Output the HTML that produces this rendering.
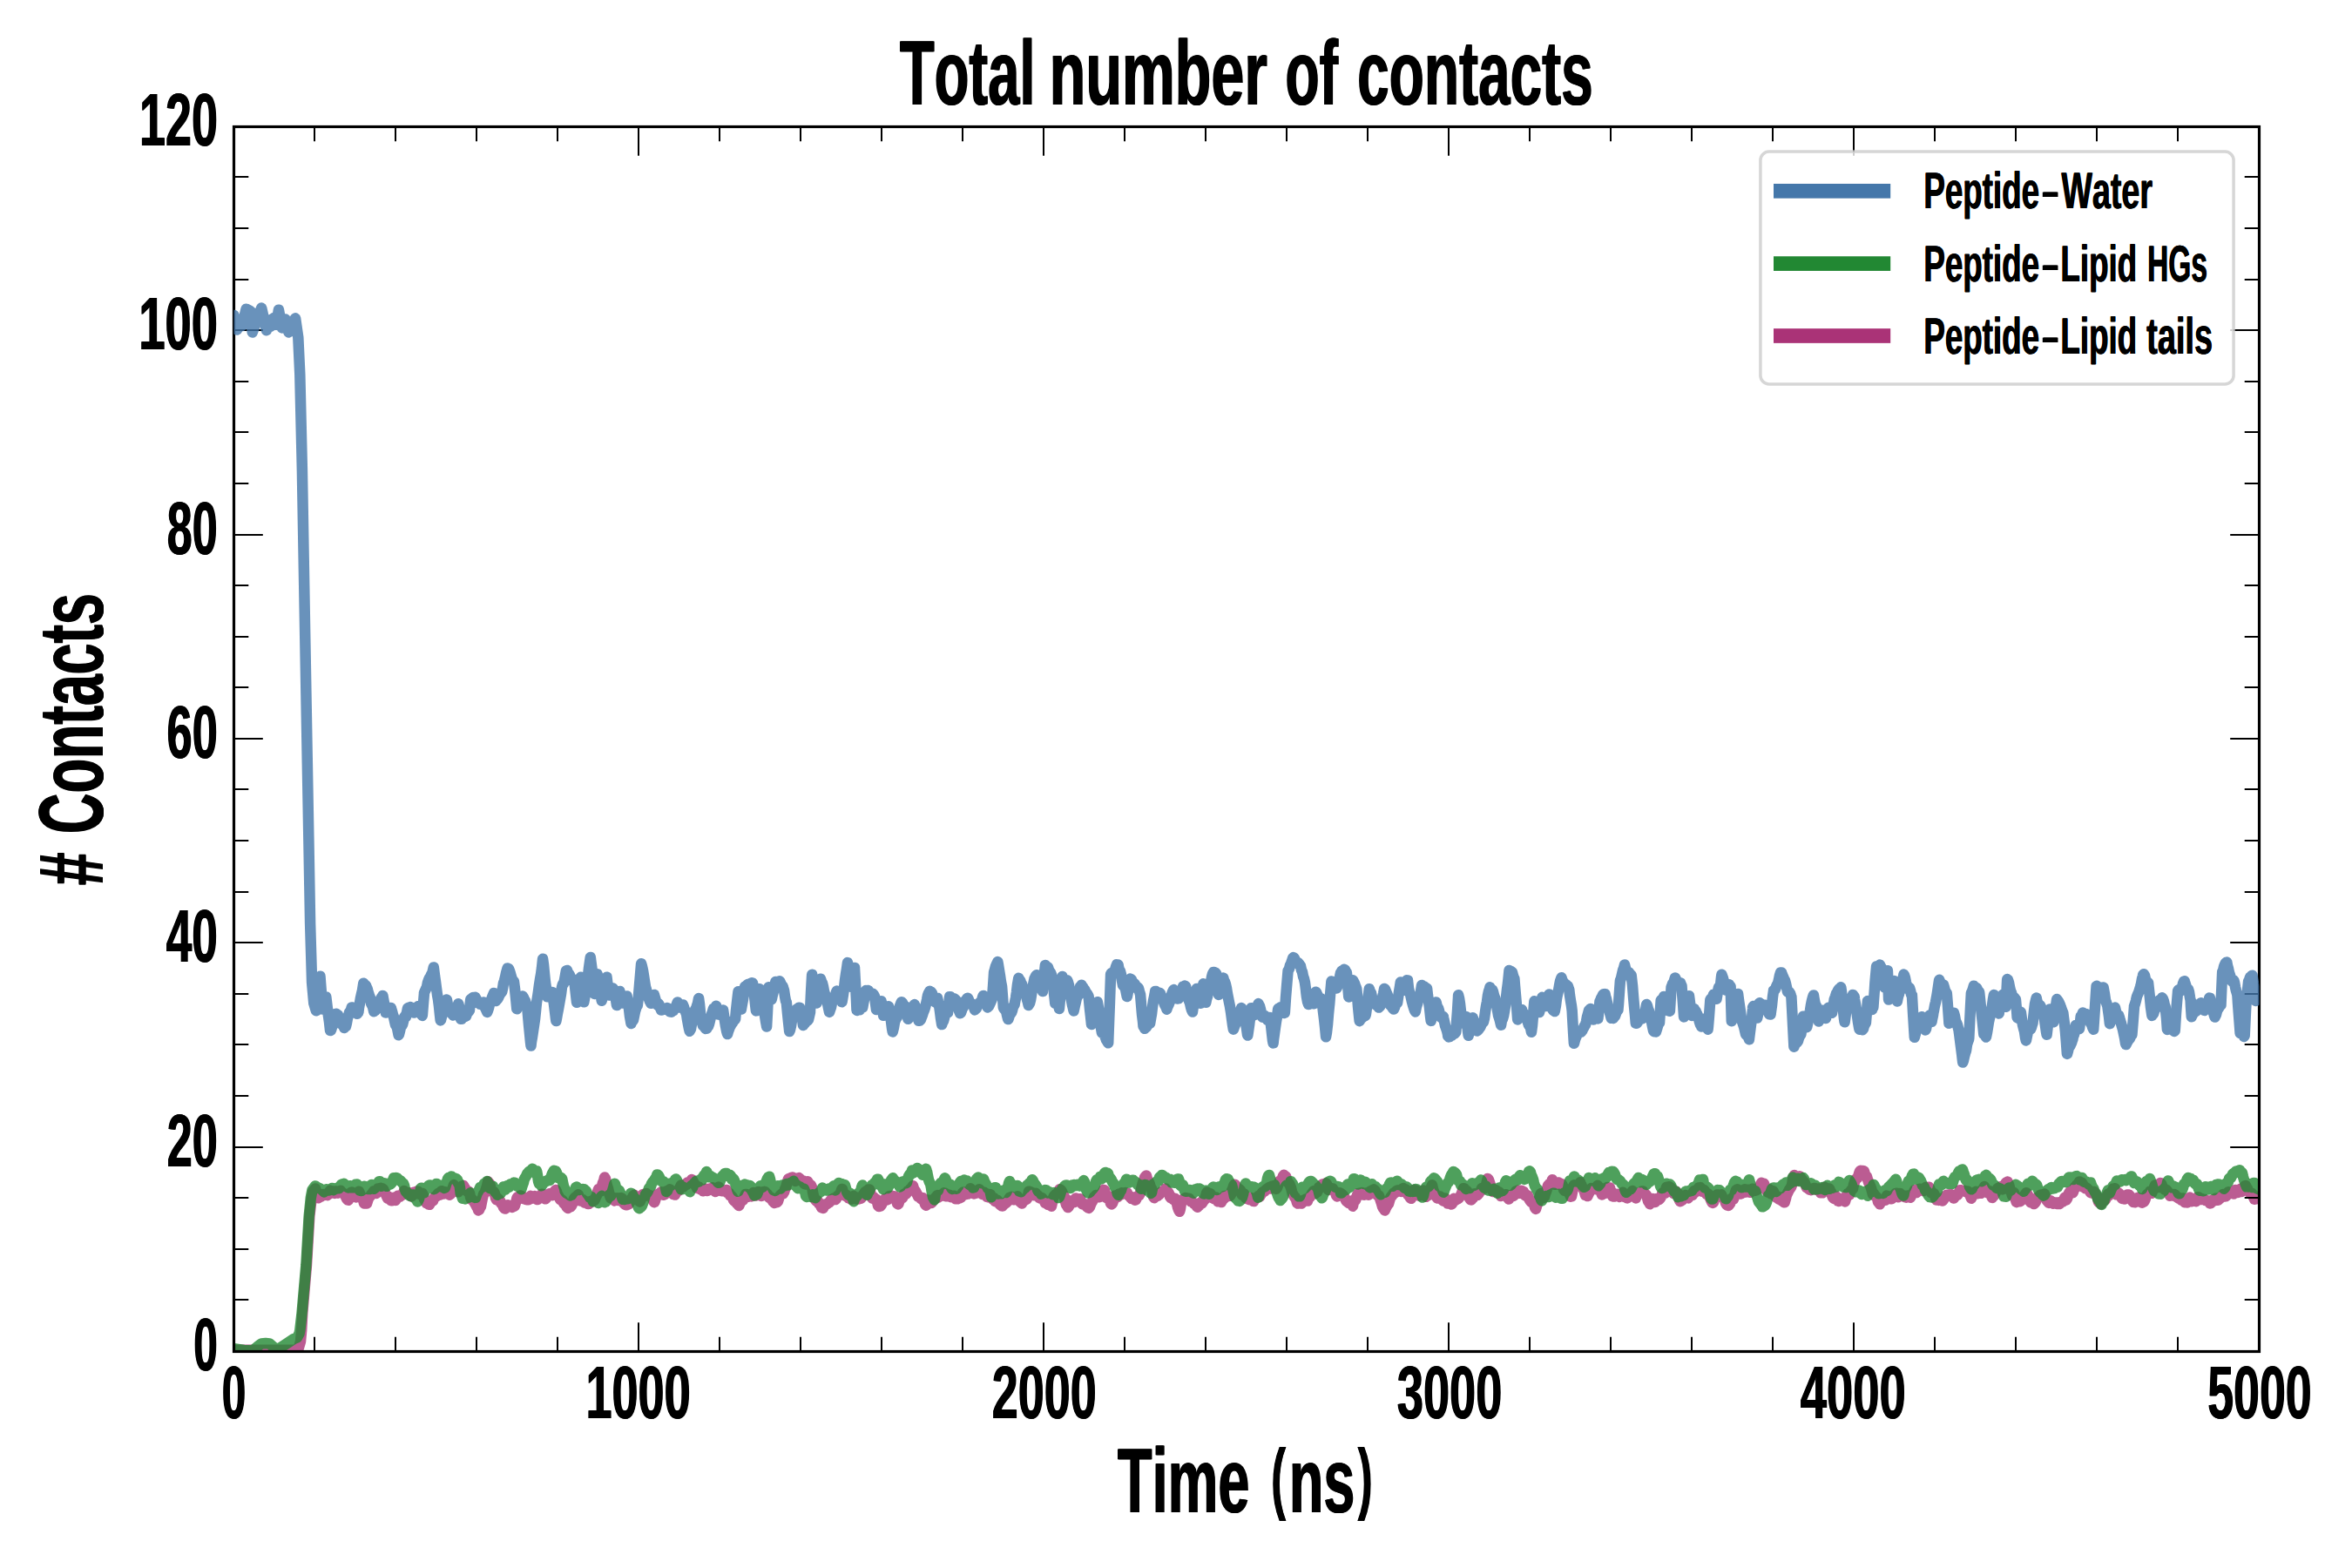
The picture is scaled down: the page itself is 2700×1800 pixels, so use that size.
<!DOCTYPE html>
<html><head><meta charset="utf-8"><title>Total number of contacts</title>
<style>
html,body{margin:0;padding:0;background:#fff}
svg{display:block}
text{font-family:"Liberation Sans",sans-serif;font-weight:700;fill:#000;font-kerning:none;text-rendering:geometricPrecision}
</style></head><body>
<svg width="2700" height="1800" viewBox="0 0 2700 1800">
<rect width="2700" height="1800" fill="#fff"/>
<clipPath id="ax"><rect x="268.5" y="145.3" width="2325.0" height="1406.1"/></clipPath>
<path d="M258.0,1549.8 L268.5,1549.8 L338.0,1549.8 L342.5,1548.5 L345.0,1540.0 L346.2,1527.0 L347.2,1508.0 L352.0,1452.0 L355.3,1396.0 L357.5,1377.0 L359.2,1368.0 L362.0,1364.5 L365.4,1375.2 L366.0,1374.9 L367.0,1374.2 L368.0,1373.8 L369.0,1373.1 L370.0,1372.0 L371.0,1371.2 L372.0,1371.8 L373.0,1371.9 L374.0,1370.8 L375.0,1371.1 L376.0,1371.9 L377.0,1371.0 L378.0,1368.2 L379.0,1366.7 L379.0,1366.7 L380.0,1367.1 L381.0,1368.2 L382.0,1367.4 L383.0,1368.7 L384.0,1369.9 L385.0,1369.1 L386.0,1367.4 L387.0,1368.7 L388.0,1369.7 L389.0,1367.8 L389.3,1367.6 L390.0,1367.1 L391.0,1366.9 L392.0,1368.2 L393.0,1369.3 L394.0,1370.0 L395.0,1370.4 L396.0,1371.9 L397.0,1373.9 L398.0,1376.0 L399.0,1377.4 L400.0,1377.8 L401.0,1374.3 L401.2,1374.0 L402.0,1371.7 L403.0,1368.9 L404.0,1368.5 L405.0,1370.7 L406.0,1371.9 L407.0,1371.7 L408.0,1371.3 L409.0,1374.4 L409.7,1373.4 L410.0,1373.4 L411.0,1369.2 L412.0,1367.7 L413.0,1369.8 L414.0,1372.5 L415.0,1373.5 L416.0,1375.2 L417.0,1377.5 L418.0,1381.4 L419.0,1380.6 L419.9,1380.9 L420.0,1380.7 L421.0,1381.6 L422.0,1378.7 L423.0,1375.6 L424.0,1374.1 L425.0,1373.1 L426.0,1371.5 L427.0,1370.6 L428.0,1368.9 L429.0,1367.4 L430.0,1367.9 L430.1,1368.0 L431.0,1369.7 L432.0,1369.9 L433.0,1366.8 L434.0,1364.4 L435.0,1365.0 L436.0,1365.4 L437.0,1363.8 L438.0,1364.7 L439.0,1364.3 L440.0,1365.2 L441.0,1367.6 L442.0,1369.5 L442.0,1369.6 L443.0,1371.3 L444.0,1373.5 L445.0,1375.7 L446.0,1375.3 L447.0,1374.3 L448.0,1375.0 L449.0,1378.2 L450.0,1378.2 L451.0,1375.3 L452.0,1374.8 L453.0,1377.0 L453.9,1377.9 L454.0,1377.9 L455.0,1376.3 L456.0,1375.3 L457.0,1372.7 L458.0,1372.9 L459.0,1373.8 L460.0,1372.4 L461.0,1372.2 L462.0,1371.7 L463.0,1369.6 L464.0,1367.1 L464.1,1367.1 L465.0,1368.4 L466.0,1369.6 L467.0,1369.7 L468.0,1370.0 L469.0,1369.9 L470.0,1369.2 L471.0,1370.7 L472.0,1373.4 L472.6,1373.1 L473.0,1372.3 L474.0,1369.5 L475.0,1368.8 L476.0,1370.5 L477.0,1370.6 L478.0,1368.5 L478.5,1367.5 L479.0,1367.7 L480.0,1367.8 L481.0,1369.2 L482.0,1371.1 L483.0,1369.6 L484.0,1370.2 L484.5,1369.9 L485.0,1370.0 L486.0,1372.6 L487.0,1376.8 L488.0,1378.1 L489.0,1379.9 L489.6,1381.3 L490.0,1381.1 L491.0,1381.5 L492.0,1382.8 L493.0,1382.8 L494.0,1380.6 L495.0,1379.6 L496.0,1377.9 L497.0,1378.7 L498.0,1375.8 L498.1,1375.6 L499.0,1374.1 L500.0,1374.2 L501.0,1373.4 L502.0,1371.4 L503.0,1369.9 L504.0,1371.9 L505.0,1371.7 L506.0,1368.7 L506.6,1367.5 L507.0,1367.2 L508.0,1369.4 L509.0,1370.6 L510.0,1368.3 L511.0,1368.2 L512.0,1369.3 L513.0,1369.0 L514.0,1369.6 L515.0,1371.0 L515.1,1371.1 L516.0,1371.6 L517.0,1370.9 L518.0,1369.6 L519.0,1367.3 L520.0,1362.8 L521.0,1360.1 L521.9,1362.6 L522.0,1362.9 L523.0,1365.8 L524.0,1367.0 L525.0,1367.6 L526.0,1368.3 L527.0,1364.6 L528.0,1363.8 L529.0,1362.7 L530.0,1361.8 L531.0,1361.7 L532.0,1361.1 L532.1,1361.1 L533.0,1362.6 L534.0,1364.2 L535.0,1366.2 L536.0,1367.3 L537.0,1368.1 L538.0,1367.8 L538.9,1369.6 L539.0,1369.7 L540.0,1374.2 L541.0,1376.8 L542.0,1376.6 L543.0,1377.6 L544.0,1379.5 L545.0,1381.1 L546.0,1382.8 L547.0,1384.9 L548.0,1386.1 L549.0,1389.0 L549.1,1389.4 L550.0,1388.8 L551.0,1386.6 L552.0,1385.1 L553.0,1379.9 L554.0,1375.0 L555.0,1370.9 L555.9,1370.3 L556.0,1370.1 L557.0,1367.6 L558.0,1364.7 L559.0,1361.6 L560.0,1357.0 L560.2,1356.3 L561.0,1357.9 L562.0,1358.5 L563.0,1362.2 L564.0,1366.5 L565.0,1367.7 L566.0,1368.8 L566.1,1368.8 L567.0,1368.3 L568.0,1370.3 L569.0,1375.4 L570.0,1377.3 L571.0,1376.7 L571.2,1376.6 L572.0,1376.2 L573.0,1377.4 L574.0,1378.3 L575.0,1380.9 L576.0,1382.2 L577.0,1382.7 L578.0,1385.8 L579.0,1387.2 L580.0,1387.5 L581.0,1385.2 L581.4,1384.9 L582.0,1383.5 L583.0,1383.3 L584.0,1384.2 L585.0,1385.0 L586.0,1385.0 L587.0,1385.3 L588.0,1385.9 L589.0,1385.1 L590.0,1384.9 L590.8,1384.5 L591.0,1384.0 L592.0,1380.6 L593.0,1377.5 L593.3,1375.8 L594.0,1374.4 L595.0,1373.9 L596.0,1374.1 L597.0,1372.5 L598.0,1372.7 L599.0,1373.1 L600.0,1373.9 L601.0,1376.1 L602.0,1376.2 L603.0,1376.1 L603.5,1376.8 L604.0,1377.1 L605.0,1377.2 L606.0,1376.1 L607.0,1377.3 L608.0,1375.6 L609.0,1372.8 L610.0,1373.6 L611.0,1375.8 L612.0,1375.4 L613.0,1375.3 L613.7,1373.6 L614.0,1373.2 L615.0,1373.7 L616.0,1376.6 L617.0,1377.1 L618.0,1374.9 L619.0,1375.1 L620.0,1373.5 L621.0,1371.9 L622.0,1370.8 L623.0,1371.7 L624.0,1370.9 L625.0,1372.6 L625.6,1375.2 L626.0,1376.3 L627.0,1375.7 L628.0,1372.9 L629.0,1371.5 L630.0,1372.4 L631.0,1370.2 L632.0,1370.3 L633.0,1372.0 L634.0,1372.2 L635.0,1371.2 L636.0,1369.8 L636.7,1367.4 L637.0,1367.1 L638.0,1365.9 L639.0,1368.0 L640.0,1371.4 L641.0,1372.4 L641.0,1372.5 L642.0,1374.7 L643.0,1376.9 L644.0,1376.9 L645.0,1377.3 L646.0,1378.2 L647.0,1381.0 L648.0,1382.1 L649.0,1382.2 L650.0,1383.9 L650.3,1385.1 L651.0,1386.2 L652.0,1386.8 L653.0,1386.1 L654.0,1385.6 L655.0,1385.4 L656.0,1384.1 L657.0,1382.1 L658.0,1378.9 L659.0,1375.9 L660.0,1374.7 L661.0,1375.3 L662.0,1375.3 L663.0,1372.0 L663.8,1371.4 L664.0,1371.6 L665.0,1376.0 L666.0,1378.4 L667.0,1377.8 L668.0,1377.3 L669.0,1377.0 L670.0,1378.5 L671.0,1380.6 L672.0,1379.0 L673.0,1380.0 L674.0,1381.4 L674.0,1381.4 L675.0,1382.1 L676.0,1382.1 L677.0,1380.9 L678.0,1378.9 L679.0,1378.7 L680.0,1379.6 L681.0,1378.5 L682.0,1377.8 L682.5,1377.8 L683.0,1376.8 L684.0,1374.1 L685.0,1372.4 L686.0,1368.1 L686.8,1365.8 L687.0,1365.2 L688.0,1365.2 L689.0,1366.9 L690.0,1367.3 L691.0,1361.8 L692.0,1357.8 L693.0,1355.9 L694.0,1351.8 L694.1,1351.5 L695.0,1353.1 L696.0,1357.4 L697.0,1361.3 L698.0,1364.2 L699.0,1368.7 L699.5,1371.1 L700.0,1372.6 L701.0,1375.2 L702.0,1374.8 L703.0,1374.4 L704.0,1375.7 L705.0,1377.5 L705.5,1378.4 L706.0,1377.9 L707.0,1377.6 L708.0,1375.3 L709.0,1376.6 L710.0,1378.0 L711.0,1375.9 L711.4,1375.2 L712.0,1375.6 L713.0,1375.1 L714.0,1375.6 L715.0,1379.0 L716.0,1381.0 L717.0,1382.4 L718.0,1382.9 L719.0,1383.2 L719.6,1383.2 L720.0,1382.4 L721.0,1382.7 L722.0,1382.1 L723.0,1378.9 L724.0,1377.1 L725.0,1376.8 L726.0,1375.1 L726.7,1373.0 L727.0,1372.7 L728.0,1371.8 L729.0,1374.3 L730.0,1377.1 L731.0,1376.6 L732.0,1376.9 L733.0,1377.7 L734.0,1379.3 L734.4,1379.7 L735.0,1378.8 L736.0,1376.3 L737.0,1372.5 L738.0,1371.1 L739.0,1373.5 L740.0,1372.4 L741.0,1370.6 L742.0,1370.2 L742.0,1370.1 L743.0,1372.0 L744.0,1372.5 L745.0,1371.8 L746.0,1372.2 L747.0,1373.5 L748.0,1372.9 L749.0,1374.7 L750.0,1378.8 L751.0,1380.1 L751.4,1380.0 L752.0,1378.4 L753.0,1374.7 L754.0,1371.7 L755.0,1371.0 L756.0,1371.0 L757.0,1371.4 L758.0,1369.2 L759.0,1368.4 L759.0,1368.3 L760.0,1368.5 L761.0,1368.9 L762.0,1371.6 L763.0,1371.4 L764.0,1368.9 L765.0,1367.4 L766.0,1368.9 L767.0,1368.7 L768.0,1366.0 L769.0,1365.3 L770.0,1367.9 L771.0,1367.7 L772.0,1370.2 L772.7,1371.0 L773.0,1370.9 L774.0,1371.3 L775.0,1371.5 L776.0,1368.5 L777.0,1367.0 L778.0,1366.6 L779.0,1366.8 L780.0,1365.4 L781.0,1362.2 L782.0,1360.4 L783.0,1362.4 L784.0,1362.6 L785.0,1362.1 L786.0,1360.0 L787.0,1360.2 L788.0,1359.9 L789.0,1357.7 L790.0,1357.2 L791.0,1357.4 L791.4,1357.0 L792.0,1357.5 L793.0,1355.6 L794.0,1354.1 L795.0,1354.6 L796.0,1357.3 L797.0,1358.6 L798.0,1360.5 L799.0,1360.8 L800.0,1364.0 L801.0,1364.0 L802.0,1362.4 L803.0,1364.2 L803.3,1364.7 L804.0,1365.3 L805.0,1365.5 L806.0,1366.0 L807.0,1367.2 L808.0,1366.9 L809.0,1365.4 L810.0,1364.8 L811.0,1365.1 L812.0,1367.0 L813.0,1366.0 L814.0,1365.2 L815.0,1364.4 L816.0,1365.4 L817.0,1364.4 L818.0,1363.3 L819.0,1365.1 L820.0,1366.8 L820.3,1367.1 L821.0,1368.0 L822.0,1367.1 L823.0,1365.5 L824.0,1363.5 L825.0,1362.5 L826.0,1365.4 L827.0,1366.9 L828.0,1365.8 L829.0,1366.7 L830.0,1367.3 L831.0,1367.2 L832.0,1367.5 L833.0,1366.7 L833.9,1366.0 L834.0,1366.0 L835.0,1369.1 L836.0,1369.0 L837.0,1369.6 L838.0,1372.1 L839.0,1372.1 L840.0,1373.5 L841.0,1374.5 L842.0,1377.6 L843.0,1378.8 L844.0,1378.1 L845.0,1379.8 L846.0,1381.6 L847.0,1382.4 L848.0,1383.8 L848.3,1384.0 L849.0,1382.5 L850.0,1380.0 L851.0,1378.4 L852.0,1378.3 L853.0,1377.5 L854.0,1375.8 L855.0,1373.3 L856.0,1371.0 L856.0,1371.0 L857.0,1370.9 L858.0,1372.7 L859.0,1372.4 L860.0,1373.5 L861.0,1373.0 L862.0,1372.6 L863.0,1373.4 L864.0,1370.9 L865.0,1369.1 L866.0,1370.8 L866.2,1371.0 L867.0,1371.8 L868.0,1372.6 L869.0,1369.7 L870.0,1368.3 L871.0,1368.0 L872.0,1369.4 L873.0,1372.0 L874.0,1373.0 L875.0,1371.8 L876.0,1369.2 L877.0,1368.0 L878.0,1368.0 L878.1,1367.9 L879.0,1368.9 L880.0,1370.8 L881.0,1370.9 L882.0,1373.7 L883.0,1374.8 L884.0,1374.9 L885.0,1374.5 L886.0,1375.8 L887.0,1378.8 L888.0,1379.8 L889.0,1380.8 L889.1,1381.0 L890.0,1380.4 L891.0,1380.2 L892.0,1380.0 L893.0,1379.1 L894.0,1375.9 L895.0,1373.0 L896.0,1371.7 L897.0,1371.3 L898.0,1370.1 L899.0,1370.2 L900.0,1368.4 L900.2,1368.2 L901.0,1365.4 L902.0,1363.4 L903.0,1360.0 L904.0,1356.3 L905.0,1353.4 L906.0,1353.0 L907.0,1352.5 L907.0,1352.5 L908.0,1352.2 L909.0,1351.6 L910.0,1351.5 L911.0,1352.4 L912.0,1353.1 L913.0,1355.9 L914.0,1354.1 L915.0,1352.9 L916.0,1353.3 L917.0,1352.1 L918.0,1352.9 L918.9,1353.8 L919.0,1353.9 L920.0,1355.4 L921.0,1356.4 L922.0,1355.5 L923.0,1358.5 L924.0,1359.4 L925.0,1359.5 L926.0,1358.0 L927.0,1356.2 L928.0,1357.6 L929.0,1360.4 L930.0,1360.0 L931.0,1360.6 L932.0,1363.0 L932.5,1365.1 L933.0,1368.2 L934.0,1373.1 L935.0,1375.4 L936.0,1377.3 L937.0,1378.7 L938.0,1378.0 L939.0,1379.1 L940.0,1381.4 L940.2,1382.0 L941.0,1382.3 L942.0,1383.7 L943.0,1386.2 L944.0,1386.5 L945.0,1386.9 L946.0,1384.8 L947.0,1383.4 L948.0,1382.2 L949.0,1382.3 L950.0,1381.6 L951.0,1380.7 L951.2,1380.7 L952.0,1380.5 L953.0,1378.9 L954.0,1377.3 L955.0,1376.8 L956.0,1377.6 L957.0,1375.6 L958.0,1375.2 L959.0,1377.1 L959.7,1376.5 L960.0,1376.1 L961.0,1373.4 L962.0,1372.5 L963.0,1372.1 L964.0,1370.9 L965.0,1369.5 L966.0,1366.0 L966.5,1365.0 L967.0,1365.1 L968.0,1368.8 L969.0,1372.1 L970.0,1372.7 L971.0,1371.6 L972.0,1372.1 L973.0,1373.2 L973.3,1374.0 L974.0,1375.2 L975.0,1374.8 L976.0,1375.3 L977.0,1376.8 L978.0,1376.0 L979.0,1373.9 L980.0,1373.0 L981.0,1373.7 L982.0,1374.3 L983.0,1376.5 L984.0,1375.9 L985.0,1376.4 L986.0,1376.4 L987.0,1375.6 L988.0,1375.8 L988.6,1375.6 L989.0,1375.0 L990.0,1372.7 L991.0,1371.2 L992.0,1370.0 L993.0,1368.3 L994.0,1367.8 L995.0,1367.0 L996.0,1366.4 L997.0,1366.0 L997.1,1365.6 L998.0,1365.6 L999.0,1367.9 L1000.0,1372.2 L1001.0,1375.4 L1002.0,1374.8 L1003.0,1374.2 L1004.0,1376.6 L1005.0,1376.7 L1006.0,1376.8 L1007.0,1379.8 L1008.0,1384.0 L1009.0,1385.1 L1010.0,1384.2 L1010.7,1384.7 L1011.0,1384.1 L1012.0,1383.0 L1013.0,1379.6 L1014.0,1378.3 L1015.0,1378.1 L1016.0,1376.3 L1017.0,1376.3 L1018.0,1377.4 L1019.0,1377.1 L1020.0,1376.1 L1021.0,1372.9 L1021.0,1372.9 L1022.0,1373.2 L1023.0,1373.3 L1024.0,1372.8 L1025.0,1374.4 L1026.0,1375.0 L1027.0,1373.4 L1028.0,1373.8 L1029.0,1377.2 L1030.0,1381.5 L1031.0,1382.3 L1031.2,1382.2 L1031.5,1381.7 L1032.0,1380.1 L1033.0,1377.5 L1034.0,1376.1 L1035.0,1374.7 L1036.0,1375.3 L1037.0,1372.8 L1038.0,1370.6 L1039.0,1371.2 L1040.0,1370.7 L1041.0,1369.4 L1042.0,1367.5 L1043.0,1367.3 L1044.0,1366.2 L1045.0,1364.9 L1046.0,1364.2 L1047.0,1362.7 L1048.0,1361.2 L1048.1,1361.3 L1049.0,1364.6 L1050.0,1366.4 L1051.0,1367.5 L1052.0,1369.6 L1053.0,1371.4 L1054.0,1373.5 L1055.0,1373.6 L1056.0,1374.1 L1057.0,1375.8 L1058.0,1376.7 L1059.0,1375.0 L1060.0,1375.9 L1061.0,1379.3 L1062.0,1382.5 L1063.0,1383.8 L1063.4,1383.5 L1064.0,1381.6 L1065.0,1378.3 L1066.0,1377.6 L1067.0,1379.6 L1068.0,1380.4 L1069.0,1381.0 L1070.0,1380.2 L1071.0,1377.7 L1072.0,1377.5 L1073.0,1375.6 L1074.0,1374.5 L1075.0,1373.4 L1076.0,1372.1 L1076.1,1372.3 L1077.0,1374.6 L1078.0,1373.5 L1079.0,1373.4 L1080.0,1372.1 L1081.0,1371.2 L1082.0,1371.6 L1083.0,1371.1 L1084.0,1369.4 L1085.0,1369.7 L1086.0,1373.2 L1087.0,1373.3 L1088.0,1373.2 L1088.0,1373.2 L1089.0,1373.3 L1090.0,1371.8 L1091.0,1372.5 L1092.0,1374.1 L1093.0,1373.9 L1094.0,1373.3 L1095.0,1372.7 L1096.0,1374.0 L1097.0,1376.2 L1098.0,1376.1 L1099.0,1376.3 L1100.0,1375.7 L1101.0,1375.2 L1101.6,1375.4 L1102.0,1375.2 L1103.0,1374.8 L1104.0,1373.4 L1105.0,1369.0 L1106.0,1368.4 L1107.0,1370.4 L1108.0,1371.3 L1109.0,1368.8 L1110.0,1369.2 L1111.0,1370.6 L1111.8,1370.1 L1112.0,1370.1 L1113.0,1366.7 L1114.0,1364.3 L1115.0,1366.6 L1116.0,1368.8 L1117.0,1369.7 L1118.0,1370.4 L1119.0,1370.2 L1120.0,1368.9 L1121.0,1369.6 L1122.0,1369.3 L1123.0,1367.0 L1124.0,1365.2 L1125.0,1366.2 L1125.4,1367.2 L1126.0,1368.6 L1127.0,1369.7 L1128.0,1371.1 L1129.0,1369.9 L1130.0,1368.8 L1131.0,1369.6 L1132.0,1370.7 L1132.2,1371.4 L1133.0,1373.9 L1134.0,1374.1 L1135.0,1371.8 L1136.0,1371.0 L1137.0,1371.3 L1138.0,1374.7 L1139.0,1376.1 L1140.0,1375.6 L1141.0,1375.5 L1142.0,1378.8 L1143.0,1379.5 L1144.0,1377.7 L1145.0,1377.7 L1146.0,1379.3 L1147.0,1381.8 L1148.0,1382.9 L1149.0,1383.6 L1150.0,1384.4 L1151.0,1384.5 L1151.0,1384.5 L1152.0,1382.9 L1153.0,1381.1 L1154.0,1381.7 L1155.0,1380.8 L1156.0,1379.9 L1157.0,1378.8 L1158.0,1376.7 L1159.0,1374.6 L1160.0,1374.4 L1161.0,1374.0 L1161.2,1373.9 L1162.0,1374.8 L1163.0,1376.9 L1164.0,1377.2 L1165.0,1375.7 L1166.0,1376.2 L1167.0,1376.3 L1168.0,1373.2 L1169.0,1374.9 L1170.0,1378.4 L1171.0,1379.7 L1172.0,1380.4 L1173.0,1381.6 L1173.1,1381.5 L1174.0,1379.2 L1175.0,1377.9 L1176.0,1378.1 L1177.0,1377.4 L1178.0,1377.0 L1179.0,1376.3 L1180.0,1373.0 L1181.0,1367.7 L1182.0,1367.9 L1183.0,1368.5 L1183.3,1368.2 L1184.0,1369.3 L1185.0,1369.9 L1186.0,1371.3 L1187.0,1372.3 L1188.0,1370.6 L1189.0,1369.7 L1190.0,1372.2 L1191.0,1373.0 L1192.0,1372.8 L1193.0,1375.1 L1194.0,1375.4 L1195.0,1375.7 L1196.0,1375.0 L1197.0,1376.1 L1198.0,1377.2 L1199.0,1379.1 L1200.0,1381.2 L1201.0,1381.4 L1202.0,1380.9 L1203.0,1382.9 L1204.0,1382.5 L1204.5,1382.9 L1205.0,1382.0 L1206.0,1383.8 L1207.0,1384.7 L1208.0,1380.2 L1209.0,1375.2 L1210.0,1372.8 L1211.0,1371.8 L1212.0,1371.0 L1213.0,1370.4 L1214.0,1370.7 L1215.0,1370.0 L1216.0,1366.5 L1216.4,1365.2 L1217.0,1365.6 L1218.0,1366.1 L1219.0,1367.6 L1220.0,1370.3 L1221.0,1372.0 L1222.0,1374.2 L1223.0,1379.4 L1224.0,1383.0 L1225.0,1384.1 L1226.0,1386.1 L1227.0,1385.0 L1227.5,1383.6 L1228.0,1380.8 L1229.0,1379.0 L1230.0,1378.3 L1231.0,1378.7 L1232.0,1379.3 L1233.0,1380.3 L1234.0,1378.9 L1235.0,1375.5 L1236.0,1376.3 L1236.0,1376.3 L1237.0,1377.9 L1238.0,1379.0 L1239.0,1377.5 L1240.0,1376.2 L1241.0,1379.3 L1242.0,1381.8 L1243.0,1382.3 L1244.0,1382.1 L1245.0,1381.9 L1246.0,1383.0 L1247.0,1384.3 L1247.9,1385.6 L1248.0,1385.6 L1249.0,1386.4 L1250.0,1386.8 L1251.0,1385.6 L1252.0,1382.9 L1253.0,1380.4 L1254.0,1379.3 L1255.0,1376.8 L1256.0,1374.1 L1257.0,1373.5 L1258.0,1372.1 L1259.0,1372.3 L1260.0,1374.3 L1261.0,1374.3 L1262.0,1374.1 L1263.0,1373.9 L1264.0,1371.6 L1264.9,1369.1 L1265.0,1369.0 L1266.0,1368.0 L1267.0,1365.9 L1268.0,1366.2 L1269.0,1370.6 L1270.0,1375.0 L1271.0,1373.6 L1272.0,1372.9 L1273.0,1375.4 L1274.0,1378.6 L1275.0,1381.2 L1275.1,1381.5 L1276.0,1382.3 L1277.0,1381.5 L1278.0,1378.6 L1279.0,1375.0 L1280.0,1372.5 L1281.0,1373.9 L1282.0,1374.4 L1283.0,1374.1 L1284.0,1373.1 L1285.0,1370.4 L1286.0,1370.5 L1287.0,1371.4 L1288.0,1369.3 L1289.0,1369.5 L1290.0,1370.1 L1291.0,1370.0 L1292.0,1368.9 L1292.1,1368.9 L1293.0,1369.7 L1294.0,1369.6 L1295.0,1371.9 L1296.0,1372.9 L1297.0,1373.2 L1298.0,1374.9 L1298.9,1376.1 L1299.0,1376.1 L1300.0,1374.4 L1301.0,1374.5 L1302.0,1375.4 L1303.0,1377.7 L1304.0,1377.3 L1305.0,1374.7 L1306.0,1373.4 L1307.0,1372.2 L1307.4,1372.6 L1308.0,1371.6 L1309.0,1369.7 L1310.0,1365.4 L1311.0,1361.2 L1312.0,1357.3 L1313.0,1355.9 L1314.0,1351.9 L1315.0,1350.3 L1315.9,1349.4 L1316.0,1349.7 L1317.0,1353.8 L1318.0,1355.6 L1319.0,1357.2 L1320.0,1359.8 L1321.0,1363.4 L1322.0,1364.6 L1323.0,1369.8 L1324.0,1373.8 L1325.0,1375.2 L1326.0,1373.8 L1326.1,1373.9 L1327.0,1372.3 L1328.0,1373.1 L1329.0,1372.9 L1330.0,1371.0 L1331.0,1371.0 L1332.0,1368.9 L1333.0,1368.6 L1334.0,1367.8 L1335.0,1367.3 L1336.0,1367.2 L1337.0,1366.5 L1338.0,1364.4 L1338.0,1364.4 L1339.0,1367.1 L1340.0,1367.8 L1341.0,1368.6 L1342.0,1370.4 L1343.0,1373.6 L1344.0,1375.0 L1345.0,1374.3 L1346.0,1374.9 L1347.0,1377.0 L1348.0,1375.8 L1349.0,1375.7 L1350.0,1377.1 L1351.0,1381.5 L1352.0,1385.9 L1353.0,1388.8 L1354.0,1390.8 L1354.2,1390.6 L1355.0,1387.4 L1356.0,1380.4 L1357.0,1377.6 L1358.0,1376.8 L1359.0,1377.8 L1360.0,1376.7 L1361.0,1374.9 L1361.8,1375.3 L1362.0,1375.8 L1363.0,1376.3 L1364.0,1376.7 L1365.0,1375.7 L1366.0,1377.6 L1367.0,1379.2 L1368.0,1378.8 L1369.0,1379.9 L1370.0,1380.9 L1371.0,1382.0 L1372.0,1382.6 L1373.0,1382.2 L1374.0,1385.1 L1374.6,1385.8 L1375.0,1385.4 L1376.0,1383.7 L1377.0,1383.5 L1378.0,1380.5 L1379.0,1379.9 L1380.0,1381.2 L1381.0,1379.5 L1382.0,1377.6 L1383.0,1377.1 L1384.0,1373.2 L1385.0,1369.6 L1385.6,1368.6 L1386.0,1368.8 L1387.0,1370.6 L1388.0,1371.1 L1389.0,1370.0 L1390.0,1370.9 L1391.0,1373.6 L1392.0,1375.3 L1393.0,1375.5 L1394.0,1376.3 L1395.0,1376.0 L1396.0,1374.6 L1397.0,1376.6 L1397.6,1378.3 L1398.0,1379.3 L1399.0,1378.0 L1400.0,1377.3 L1401.0,1377.5 L1402.0,1380.1 L1403.0,1377.7 L1404.0,1377.1 L1405.0,1375.9 L1406.0,1372.9 L1407.0,1372.9 L1408.0,1373.3 L1409.0,1372.4 L1409.5,1373.1 L1410.0,1372.9 L1411.0,1372.2 L1412.0,1372.8 L1413.0,1371.4 L1414.0,1366.7 L1415.0,1364.7 L1416.0,1361.8 L1416.3,1360.9 L1417.0,1359.8 L1418.0,1360.1 L1418.7,1360.9 L1419.0,1361.8 L1420.0,1364.9 L1421.0,1366.1 L1422.0,1364.7 L1423.0,1365.5 L1424.0,1366.4 L1425.0,1370.0 L1425.5,1371.2 L1426.0,1371.9 L1427.0,1370.8 L1428.0,1370.2 L1429.0,1372.6 L1430.0,1375.2 L1431.0,1375.9 L1432.0,1375.1 L1433.0,1375.8 L1434.0,1377.2 L1435.0,1376.0 L1436.0,1375.2 L1437.0,1375.8 L1438.0,1377.8 L1439.0,1379.1 L1439.1,1379.1 L1440.0,1377.5 L1441.0,1376.0 L1442.0,1375.1 L1443.0,1374.8 L1444.0,1373.9 L1445.0,1372.6 L1446.0,1373.9 L1447.0,1371.9 L1448.0,1370.6 L1449.0,1368.9 L1450.0,1368.2 L1451.0,1368.0 L1452.0,1367.3 L1453.0,1366.0 L1454.0,1365.1 L1455.0,1364.3 L1456.0,1364.4 L1456.1,1364.1 L1457.0,1362.8 L1458.0,1364.2 L1459.0,1364.4 L1460.0,1362.5 L1461.0,1361.4 L1462.0,1361.3 L1463.0,1362.9 L1464.0,1364.0 L1464.6,1364.9 L1465.0,1364.9 L1466.0,1363.5 L1467.0,1360.8 L1468.0,1357.7 L1469.0,1355.5 L1470.0,1356.1 L1471.0,1355.6 L1472.0,1352.7 L1473.0,1349.9 L1474.0,1348.8 L1474.0,1348.9 L1475.0,1350.9 L1476.0,1350.4 L1477.0,1353.3 L1478.0,1356.0 L1479.0,1358.0 L1480.0,1358.5 L1481.0,1361.1 L1481.6,1362.6 L1482.0,1363.3 L1483.0,1367.6 L1484.0,1371.1 L1485.0,1372.0 L1486.0,1374.2 L1487.0,1374.7 L1488.0,1377.2 L1489.0,1381.0 L1490.0,1381.6 L1491.0,1380.2 L1491.8,1378.9 L1492.0,1378.3 L1493.0,1379.4 L1494.0,1381.5 L1495.0,1380.5 L1496.0,1379.5 L1497.0,1379.2 L1498.0,1376.9 L1499.0,1376.6 L1500.0,1378.6 L1501.0,1378.6 L1502.0,1375.3 L1502.0,1375.3 L1503.0,1374.4 L1504.0,1374.1 L1505.0,1371.8 L1506.0,1369.9 L1507.0,1369.1 L1508.0,1367.2 L1509.0,1368.3 L1510.0,1370.0 L1510.5,1368.4 L1511.0,1367.5 L1512.0,1368.5 L1513.0,1366.4 L1514.0,1363.1 L1515.0,1363.5 L1516.0,1362.5 L1517.0,1360.4 L1518.0,1359.7 L1519.0,1360.4 L1519.0,1360.5 L1520.0,1362.5 L1521.0,1360.0 L1522.0,1358.2 L1523.0,1359.1 L1524.0,1361.9 L1525.0,1365.9 L1526.0,1364.9 L1527.0,1363.7 L1528.0,1364.1 L1529.0,1364.3 L1530.0,1364.4 L1531.0,1366.5 L1532.0,1367.1 L1533.0,1369.0 L1534.0,1372.3 L1535.0,1373.5 L1536.0,1372.1 L1537.0,1369.5 L1537.8,1369.5 L1538.0,1369.4 L1539.0,1369.9 L1540.0,1370.7 L1541.0,1371.4 L1542.0,1372.4 L1543.0,1374.5 L1544.0,1375.2 L1545.0,1378.0 L1546.0,1379.2 L1547.0,1379.8 L1548.0,1380.8 L1549.0,1380.2 L1550.0,1380.3 L1551.0,1381.5 L1551.4,1382.2 L1552.0,1382.5 L1553.0,1384.7 L1554.0,1379.3 L1555.0,1376.8 L1556.0,1377.9 L1557.0,1375.2 L1558.0,1372.0 L1559.0,1370.1 L1560.0,1369.7 L1561.0,1369.8 L1562.0,1370.4 L1563.0,1368.9 L1563.3,1368.9 L1564.0,1369.7 L1565.0,1371.5 L1566.0,1371.7 L1567.0,1370.9 L1568.0,1369.8 L1569.0,1369.4 L1570.0,1370.8 L1570.1,1370.9 L1571.0,1371.8 L1572.0,1369.7 L1573.0,1367.7 L1574.0,1366.9 L1575.0,1366.6 L1576.0,1366.6 L1576.9,1365.3 L1577.0,1365.5 L1578.0,1366.1 L1579.0,1367.4 L1580.0,1370.5 L1581.0,1372.0 L1582.0,1372.3 L1583.0,1372.6 L1584.0,1375.5 L1585.0,1378.7 L1586.0,1381.5 L1587.0,1385.1 L1588.0,1387.0 L1589.0,1388.2 L1589.6,1389.5 L1590.0,1389.0 L1591.0,1386.5 L1592.0,1384.7 L1593.0,1382.6 L1594.0,1381.9 L1595.0,1378.5 L1596.0,1375.2 L1597.0,1373.3 L1598.0,1372.6 L1599.0,1370.8 L1600.0,1369.4 L1601.0,1369.7 L1602.0,1368.8 L1603.0,1366.9 L1604.0,1366.6 L1604.1,1366.4 L1605.0,1367.2 L1606.0,1366.3 L1607.0,1367.5 L1608.0,1367.8 L1609.0,1365.9 L1610.0,1364.5 L1611.0,1364.0 L1612.0,1365.9 L1613.0,1365.0 L1614.0,1365.5 L1615.0,1368.7 L1616.0,1371.4 L1617.0,1372.0 L1618.0,1373.5 L1619.0,1375.3 L1619.4,1375.6 L1620.0,1375.8 L1621.0,1370.4 L1622.0,1367.1 L1623.0,1366.0 L1624.0,1366.2 L1625.0,1366.2 L1626.0,1368.0 L1627.0,1368.7 L1628.0,1372.0 L1629.0,1372.6 L1630.0,1371.6 L1631.0,1369.4 L1632.0,1368.1 L1633.0,1367.6 L1633.0,1367.6 L1634.0,1366.5 L1635.0,1369.1 L1636.0,1372.1 L1637.0,1373.8 L1638.0,1371.6 L1639.0,1370.2 L1640.0,1372.0 L1641.0,1369.1 L1642.0,1366.6 L1643.0,1362.7 L1644.0,1360.3 L1645.0,1364.9 L1646.0,1367.8 L1646.6,1368.9 L1647.0,1370.1 L1648.0,1371.4 L1649.0,1373.8 L1650.0,1375.5 L1651.0,1374.5 L1652.0,1373.3 L1653.0,1373.5 L1654.0,1374.4 L1655.0,1375.0 L1656.0,1377.9 L1657.0,1378.7 L1658.0,1375.7 L1659.0,1375.5 L1660.0,1378.6 L1661.0,1379.5 L1661.9,1381.3 L1662.0,1381.5 L1663.0,1381.2 L1664.0,1380.8 L1665.0,1381.1 L1666.0,1382.6 L1667.0,1381.9 L1668.0,1378.7 L1669.0,1375.8 L1670.0,1376.7 L1670.4,1377.5 L1671.0,1377.7 L1672.0,1376.6 L1673.0,1376.7 L1674.0,1376.0 L1675.0,1375.0 L1676.0,1373.7 L1677.0,1371.9 L1678.0,1369.9 L1678.9,1366.8 L1679.0,1366.7 L1680.0,1364.2 L1681.0,1364.4 L1682.0,1365.8 L1683.0,1367.4 L1684.0,1367.1 L1685.0,1368.7 L1686.0,1373.5 L1687.0,1375.7 L1688.0,1377.1 L1689.0,1377.5 L1689.1,1377.3 L1690.0,1375.7 L1691.0,1375.3 L1692.0,1373.0 L1693.0,1370.3 L1694.0,1370.9 L1695.0,1371.8 L1696.0,1371.9 L1697.0,1370.7 L1697.6,1370.2 L1698.0,1369.3 L1699.0,1367.8 L1700.0,1367.1 L1701.0,1364.0 L1702.0,1364.4 L1703.0,1364.6 L1704.0,1364.4 L1705.0,1363.6 L1706.0,1360.4 L1707.0,1355.8 L1707.8,1353.0 L1708.0,1353.0 L1709.0,1354.5 L1710.0,1357.5 L1711.0,1360.7 L1712.0,1363.5 L1713.0,1366.3 L1714.0,1368.0 L1715.0,1367.5 L1716.0,1366.4 L1716.3,1366.6 L1717.0,1366.1 L1718.0,1366.5 L1719.0,1369.1 L1720.0,1369.3 L1721.0,1368.4 L1722.0,1370.4 L1723.0,1372.9 L1724.0,1372.7 L1725.0,1372.5 L1726.0,1371.5 L1727.0,1371.4 L1728.0,1371.8 L1729.0,1371.4 L1730.0,1372.1 L1731.0,1374.5 L1731.6,1376.0 L1732.0,1376.6 L1733.0,1374.6 L1734.0,1372.1 L1735.0,1372.9 L1736.0,1373.1 L1737.0,1373.1 L1738.0,1372.3 L1739.0,1370.2 L1740.0,1367.7 L1741.0,1367.9 L1742.0,1366.6 L1743.0,1368.1 L1744.0,1369.8 L1745.0,1367.6 L1745.2,1367.1 L1746.0,1366.8 L1747.0,1367.1 L1748.0,1368.0 L1749.0,1368.0 L1750.0,1370.2 L1751.0,1372.6 L1752.0,1372.9 L1753.0,1372.1 L1754.0,1372.5 L1755.0,1375.7 L1756.0,1377.6 L1757.0,1379.1 L1758.0,1380.0 L1759.0,1379.4 L1760.0,1381.1 L1761.0,1382.1 L1762.0,1386.4 L1763.0,1387.9 L1763.1,1387.8 L1764.0,1384.8 L1765.0,1381.3 L1766.0,1379.4 L1767.0,1376.2 L1768.0,1371.9 L1769.0,1370.0 L1770.0,1371.2 L1771.0,1372.6 L1772.0,1375.0 L1773.0,1373.7 L1774.0,1370.2 L1775.0,1368.0 L1776.0,1364.6 L1777.0,1361.0 L1778.0,1359.9 L1779.0,1358.8 L1780.0,1360.0 L1781.0,1358.1 L1781.8,1354.6 L1782.0,1354.2 L1783.0,1356.2 L1784.0,1357.8 L1785.0,1359.8 L1786.0,1358.5 L1787.0,1358.0 L1788.0,1358.2 L1789.0,1357.5 L1790.0,1359.2 L1791.0,1360.3 L1792.0,1358.8 L1792.9,1359.0 L1793.0,1359.2 L1794.0,1361.2 L1795.0,1365.5 L1796.0,1366.9 L1797.0,1365.1 L1798.0,1365.0 L1799.0,1366.4 L1800.0,1367.3 L1801.0,1368.5 L1802.0,1371.0 L1802.1,1371.5 L1803.0,1373.6 L1804.0,1373.4 L1805.0,1368.4 L1806.0,1362.4 L1807.0,1360.3 L1808.0,1361.1 L1809.0,1360.3 L1810.0,1360.5 L1811.0,1360.8 L1812.0,1360.2 L1813.0,1359.8 L1814.0,1357.2 L1814.0,1357.2 L1815.0,1359.7 L1816.0,1361.9 L1817.0,1364.4 L1818.0,1365.0 L1819.0,1368.5 L1820.0,1372.0 L1821.0,1372.1 L1822.0,1372.9 L1822.5,1373.1 L1823.0,1371.9 L1824.0,1369.8 L1825.0,1367.7 L1826.0,1366.3 L1827.0,1364.2 L1828.0,1364.5 L1829.0,1365.2 L1830.0,1364.1 L1831.0,1364.5 L1831.0,1364.5 L1832.0,1365.2 L1833.0,1362.9 L1834.0,1360.8 L1835.0,1363.3 L1836.0,1363.1 L1837.0,1365.3 L1838.0,1368.8 L1839.0,1371.4 L1840.0,1370.8 L1840.4,1370.7 L1841.0,1369.4 L1842.0,1369.8 L1843.0,1368.1 L1844.0,1363.7 L1845.0,1363.0 L1846.0,1363.2 L1847.0,1363.6 L1848.0,1363.5 L1848.0,1363.5 L1849.0,1367.0 L1850.0,1370.7 L1851.0,1373.1 L1851.4,1372.8 L1852.0,1371.1 L1853.0,1373.5 L1854.0,1373.3 L1855.0,1370.8 L1856.0,1370.8 L1857.0,1372.9 L1858.0,1372.2 L1859.0,1373.9 L1860.0,1372.2 L1861.0,1371.8 L1862.0,1370.0 L1863.0,1368.7 L1864.0,1370.7 L1865.0,1374.1 L1865.9,1374.1 L1866.0,1374.0 L1867.0,1374.2 L1868.0,1375.4 L1869.0,1374.7 L1870.0,1372.2 L1871.0,1372.1 L1872.0,1371.2 L1873.0,1368.7 L1874.0,1367.1 L1875.0,1370.1 L1876.0,1371.5 L1877.0,1372.7 L1878.0,1375.4 L1879.0,1371.1 L1880.0,1370.0 L1881.0,1370.5 L1882.0,1369.2 L1883.0,1369.1 L1883.7,1369.0 L1884.0,1369.4 L1885.0,1367.5 L1886.0,1367.5 L1887.0,1369.8 L1888.0,1370.4 L1889.0,1370.9 L1890.0,1371.9 L1891.0,1375.1 L1892.0,1379.0 L1893.0,1380.0 L1894.0,1382.2 L1895.0,1380.9 L1896.0,1378.4 L1896.5,1377.6 L1897.0,1376.0 L1898.0,1376.9 L1899.0,1379.1 L1900.0,1380.1 L1901.0,1376.3 L1902.0,1376.2 L1903.0,1377.3 L1904.0,1377.3 L1905.0,1376.6 L1905.9,1375.6 L1906.0,1375.3 L1907.0,1373.6 L1908.0,1370.7 L1909.0,1369.0 L1910.0,1369.8 L1911.0,1369.8 L1912.0,1366.0 L1913.0,1362.8 L1914.0,1362.6 L1915.0,1362.5 L1916.0,1362.2 L1916.1,1362.2 L1917.0,1364.2 L1918.0,1363.5 L1919.0,1364.5 L1920.0,1366.8 L1921.0,1369.9 L1922.0,1369.3 L1923.0,1367.6 L1924.0,1367.5 L1925.0,1369.0 L1926.0,1369.6 L1927.0,1374.2 L1928.0,1377.8 L1928.8,1379.2 L1929.0,1379.2 L1930.0,1378.5 L1931.0,1377.8 L1932.0,1376.8 L1933.0,1374.8 L1934.0,1373.5 L1935.0,1372.0 L1936.0,1374.2 L1937.0,1374.6 L1938.0,1375.2 L1939.0,1374.1 L1940.0,1372.6 L1941.0,1372.2 L1942.0,1372.0 L1943.0,1371.8 L1943.3,1370.9 L1944.0,1368.2 L1945.0,1366.9 L1946.0,1368.7 L1947.0,1367.8 L1948.0,1365.8 L1949.0,1365.3 L1950.0,1363.5 L1951.0,1363.3 L1951.8,1363.0 L1952.0,1363.3 L1953.0,1366.5 L1954.0,1367.7 L1955.0,1367.4 L1956.0,1365.9 L1957.0,1367.1 L1958.0,1368.7 L1959.0,1370.8 L1960.0,1371.5 L1961.0,1370.6 L1962.0,1372.3 L1963.0,1375.0 L1964.0,1377.6 L1965.0,1379.5 L1965.4,1380.5 L1966.0,1380.9 L1967.0,1380.3 L1968.0,1376.7 L1969.0,1375.5 L1970.0,1372.4 L1971.0,1371.6 L1972.0,1371.6 L1973.0,1372.3 L1973.9,1371.9 L1974.0,1372.1 L1975.0,1372.7 L1976.0,1371.3 L1977.0,1373.6 L1978.0,1375.1 L1979.0,1376.1 L1980.0,1377.2 L1981.0,1381.1 L1982.0,1382.8 L1983.0,1383.6 L1984.0,1383.9 L1984.1,1384.0 L1985.0,1383.0 L1986.0,1381.8 L1987.0,1378.1 L1988.0,1375.5 L1989.0,1377.0 L1990.0,1376.6 L1991.0,1372.8 L1992.0,1369.0 L1993.0,1366.1 L1994.0,1365.6 L1994.3,1365.2 L1995.0,1365.4 L1996.0,1367.8 L1997.0,1369.5 L1998.0,1370.5 L1999.0,1370.1 L2000.0,1369.5 L2001.0,1369.0 L2002.0,1369.0 L2003.0,1365.2 L2004.0,1365.8 L2005.0,1368.5 L2006.0,1366.6 L2007.0,1365.8 L2007.9,1367.2 L2008.0,1367.4 L2009.0,1368.8 L2010.0,1368.0 L2011.0,1366.1 L2012.0,1364.7 L2013.0,1365.6 L2014.0,1366.9 L2015.0,1366.8 L2016.0,1366.4 L2017.0,1364.8 L2018.0,1365.5 L2019.0,1364.2 L2020.0,1362.2 L2021.0,1359.7 L2022.0,1357.8 L2023.0,1359.6 L2024.0,1358.6 L2024.9,1358.7 L2025.0,1358.8 L2026.0,1361.6 L2027.0,1364.9 L2028.0,1366.6 L2029.0,1368.4 L2030.0,1367.0 L2031.0,1365.2 L2032.0,1367.2 L2033.0,1370.5 L2034.0,1368.0 L2035.0,1366.9 L2036.0,1368.1 L2037.0,1371.2 L2038.0,1373.4 L2039.0,1374.7 L2040.0,1373.1 L2041.0,1374.0 L2042.0,1376.6 L2043.0,1374.3 L2044.0,1375.6 L2045.0,1376.6 L2046.0,1378.7 L2047.0,1379.1 L2048.0,1380.2 L2048.7,1380.3 L2049.0,1379.2 L2050.0,1375.7 L2051.0,1371.6 L2052.0,1369.6 L2053.0,1367.7 L2054.0,1365.7 L2055.0,1364.3 L2056.0,1362.9 L2057.0,1360.4 L2058.0,1354.0 L2059.0,1351.0 L2059.8,1349.1 L2060.0,1349.5 L2061.0,1351.4 L2062.0,1354.0 L2063.0,1355.6 L2064.0,1354.2 L2065.0,1350.9 L2066.0,1350.3 L2067.0,1351.7 L2068.0,1353.7 L2069.0,1354.5 L2069.1,1354.8 L2070.0,1356.2 L2071.0,1356.5 L2072.0,1358.5 L2073.0,1361.1 L2074.0,1363.5 L2075.0,1363.7 L2076.0,1364.5 L2077.0,1365.6 L2078.0,1365.2 L2079.0,1366.2 L2080.0,1365.4 L2081.0,1365.1 L2081.0,1365.1 L2082.0,1364.0 L2083.0,1363.9 L2084.0,1364.1 L2085.0,1364.8 L2086.0,1366.2 L2087.0,1366.2 L2088.0,1364.5 L2089.0,1366.7 L2090.0,1369.3 L2091.0,1369.2 L2092.0,1369.3 L2093.0,1367.1 L2094.0,1363.4 L2094.6,1363.0 L2095.0,1363.3 L2096.0,1366.3 L2097.0,1367.3 L2098.0,1367.0 L2099.0,1365.9 L2100.0,1364.5 L2101.0,1366.8 L2102.0,1368.5 L2103.0,1372.1 L2104.0,1374.6 L2105.0,1375.6 L2106.0,1376.2 L2107.0,1375.2 L2108.0,1373.6 L2109.0,1375.0 L2109.9,1378.4 L2110.0,1378.6 L2111.0,1378.9 L2112.0,1375.9 L2113.0,1376.5 L2114.0,1377.2 L2115.0,1375.9 L2116.0,1375.6 L2117.0,1378.3 L2118.0,1379.4 L2119.0,1376.0 L2120.0,1371.8 L2121.0,1370.2 L2121.8,1372.0 L2122.0,1372.2 L2123.0,1371.8 L2124.0,1368.6 L2125.0,1366.4 L2126.0,1365.6 L2127.0,1364.7 L2128.0,1359.8 L2129.0,1356.9 L2130.0,1354.0 L2130.3,1353.6 L2131.0,1353.2 L2132.0,1352.5 L2133.0,1351.0 L2134.0,1347.4 L2135.0,1344.6 L2136.0,1343.7 L2137.0,1344.1 L2138.0,1345.7 L2138.8,1343.9 L2139.0,1344.1 L2140.0,1344.7 L2141.0,1348.2 L2142.0,1349.7 L2143.0,1350.6 L2144.0,1354.1 L2145.0,1357.1 L2145.6,1358.5 L2146.0,1359.0 L2147.0,1361.4 L2148.0,1363.8 L2149.0,1367.5 L2150.0,1371.3 L2151.0,1370.2 L2152.0,1371.7 L2153.0,1373.5 L2154.0,1373.8 L2155.0,1375.1 L2155.9,1379.4 L2156.0,1379.8 L2157.0,1380.9 L2158.0,1382.3 L2159.0,1379.2 L2160.0,1377.1 L2161.0,1378.4 L2162.0,1377.5 L2163.0,1377.7 L2164.0,1377.8 L2165.0,1374.8 L2166.0,1372.7 L2167.0,1373.0 L2167.8,1373.2 L2168.0,1375.4 L2168.1,1375.8 L2169.0,1374.1 L2170.0,1374.0 L2171.0,1376.2 L2172.0,1375.9 L2173.0,1374.6 L2174.0,1374.4 L2175.0,1371.3 L2176.0,1369.9 L2177.0,1369.8 L2177.0,1369.8 L2178.0,1372.9 L2179.0,1374.2 L2180.0,1371.8 L2181.0,1369.9 L2182.0,1371.4 L2183.0,1372.2 L2184.0,1372.5 L2185.0,1372.3 L2186.0,1373.8 L2186.4,1374.1 L2187.0,1373.9 L2188.0,1374.5 L2189.0,1373.5 L2190.0,1372.5 L2191.0,1372.9 L2192.0,1374.2 L2193.0,1374.7 L2194.0,1372.6 L2195.0,1371.3 L2196.0,1369.8 L2197.0,1368.2 L2198.0,1366.0 L2199.0,1367.1 L2200.0,1369.1 L2200.8,1367.8 L2201.0,1367.6 L2202.0,1365.8 L2203.0,1364.9 L2204.0,1364.8 L2205.0,1366.0 L2206.0,1365.1 L2207.0,1365.0 L2208.0,1367.1 L2209.0,1366.2 L2210.0,1363.7 L2211.0,1362.7 L2212.0,1365.0 L2213.0,1365.5 L2214.0,1363.0 L2214.4,1362.7 L2215.0,1363.6 L2216.0,1366.6 L2217.0,1369.3 L2218.0,1369.7 L2219.0,1369.6 L2220.0,1370.0 L2221.0,1372.0 L2222.0,1375.6 L2223.0,1377.5 L2224.0,1377.6 L2225.0,1377.4 L2225.5,1377.9 L2226.0,1377.1 L2227.0,1375.8 L2228.0,1376.2 L2229.0,1377.7 L2230.0,1378.5 L2231.0,1377.3 L2232.0,1374.2 L2233.0,1374.7 L2234.0,1372.4 L2234.8,1371.8 L2235.0,1371.8 L2236.0,1371.9 L2237.0,1371.9 L2238.0,1371.3 L2239.0,1371.8 L2240.0,1371.2 L2241.0,1373.3 L2241.6,1373.8 L2242.0,1373.8 L2243.0,1375.6 L2244.0,1373.5 L2245.0,1372.2 L2246.0,1372.1 L2247.0,1372.0 L2248.0,1370.3 L2249.0,1368.1 L2250.0,1366.2 L2251.0,1366.3 L2251.8,1366.8 L2252.0,1367.1 L2253.0,1367.0 L2254.0,1367.2 L2255.0,1366.8 L2256.0,1367.2 L2257.0,1368.3 L2258.0,1368.2 L2259.0,1367.6 L2260.0,1369.7 L2261.0,1371.2 L2262.0,1373.4 L2263.0,1375.8 L2263.7,1373.8 L2264.0,1372.8 L2265.0,1369.5 L2266.0,1370.2 L2267.0,1368.5 L2268.0,1368.0 L2269.0,1369.3 L2270.0,1370.2 L2271.0,1368.1 L2272.0,1367.7 L2273.0,1368.4 L2274.0,1369.8 L2275.0,1368.6 L2275.6,1366.6 L2276.0,1365.9 L2277.0,1363.8 L2278.0,1362.1 L2279.0,1363.6 L2280.0,1367.7 L2281.0,1369.0 L2282.0,1369.5 L2283.0,1368.4 L2284.0,1367.2 L2285.0,1368.4 L2286.0,1372.6 L2286.7,1374.5 L2287.0,1374.9 L2288.0,1373.1 L2289.0,1372.7 L2290.0,1370.5 L2291.0,1368.8 L2292.0,1367.0 L2293.0,1364.3 L2294.0,1363.8 L2295.0,1363.9 L2296.0,1363.6 L2297.0,1362.0 L2298.0,1364.6 L2299.0,1365.4 L2300.0,1363.8 L2301.0,1361.6 L2302.0,1358.8 L2303.0,1357.4 L2304.0,1357.3 L2304.6,1356.6 L2305.0,1357.3 L2306.0,1359.8 L2307.0,1363.3 L2308.0,1367.5 L2309.0,1369.3 L2310.0,1372.6 L2311.0,1371.0 L2312.0,1369.1 L2313.0,1373.2 L2314.0,1377.5 L2314.8,1380.0 L2315.0,1380.2 L2316.0,1378.2 L2317.0,1378.4 L2318.0,1378.3 L2319.0,1379.1 L2320.0,1378.5 L2321.0,1376.5 L2322.0,1376.8 L2323.0,1374.9 L2324.0,1371.9 L2325.0,1370.9 L2326.0,1369.3 L2326.7,1369.7 L2327.0,1370.4 L2328.0,1372.0 L2329.0,1374.2 L2330.0,1378.2 L2331.0,1380.2 L2332.0,1379.7 L2333.0,1379.2 L2334.0,1379.8 L2335.0,1382.1 L2336.0,1380.9 L2336.9,1379.7 L2337.0,1379.3 L2338.0,1376.0 L2339.0,1374.2 L2340.0,1375.0 L2341.0,1374.3 L2342.0,1371.8 L2343.0,1371.6 L2344.0,1372.7 L2345.0,1372.9 L2346.0,1371.3 L2347.0,1370.6 L2347.1,1370.7 L2348.0,1373.5 L2349.0,1376.9 L2350.0,1378.7 L2351.0,1379.6 L2352.0,1380.9 L2353.0,1378.5 L2354.0,1378.2 L2355.0,1379.6 L2356.0,1380.9 L2357.0,1381.6 L2358.0,1381.0 L2359.0,1380.4 L2360.0,1380.6 L2361.0,1382.0 L2361.5,1381.7 L2362.0,1380.5 L2363.0,1380.4 L2364.0,1382.1 L2365.0,1381.4 L2366.0,1379.7 L2367.0,1379.7 L2368.0,1379.6 L2369.0,1378.6 L2370.0,1375.2 L2371.0,1374.2 L2372.0,1377.6 L2372.6,1376.5 L2373.0,1376.1 L2374.0,1373.1 L2375.0,1369.8 L2376.0,1368.2 L2377.0,1369.2 L2378.0,1369.7 L2379.0,1369.2 L2379.4,1369.2 L2380.0,1368.2 L2381.0,1364.9 L2382.0,1362.6 L2383.0,1363.2 L2384.0,1360.2 L2384.5,1359.9 L2385.0,1360.6 L2386.0,1358.9 L2387.0,1356.4 L2388.0,1358.0 L2389.0,1359.7 L2390.0,1357.8 L2391.0,1359.5 L2392.0,1362.9 L2393.0,1363.1 L2394.0,1364.2 L2395.0,1363.3 L2396.0,1364.2 L2397.0,1365.3 L2398.0,1366.1 L2398.1,1366.2 L2399.0,1367.6 L2400.0,1369.2 L2401.0,1367.9 L2402.0,1369.6 L2403.0,1368.8 L2404.0,1368.0 L2405.0,1369.9 L2406.0,1371.6 L2407.0,1372.6 L2408.0,1375.6 L2409.0,1379.9 L2410.0,1379.7 L2411.0,1379.5 L2411.7,1381.8 L2412.0,1382.2 L2413.0,1380.4 L2414.0,1377.2 L2415.0,1376.0 L2416.0,1377.9 L2417.0,1377.1 L2418.0,1375.0 L2419.0,1372.2 L2420.0,1370.6 L2421.0,1372.3 L2422.0,1370.7 L2423.0,1368.9 L2424.0,1367.7 L2425.0,1367.4 L2425.3,1366.2 L2426.0,1364.4 L2427.0,1364.4 L2428.0,1364.2 L2429.0,1368.1 L2430.0,1371.3 L2431.0,1371.2 L2432.0,1369.4 L2433.0,1370.3 L2434.0,1372.0 L2435.0,1374.4 L2436.0,1375.9 L2437.0,1374.7 L2438.0,1375.5 L2439.0,1376.3 L2440.0,1375.5 L2441.0,1372.9 L2442.0,1371.5 L2443.0,1371.4 L2444.0,1371.6 L2445.0,1372.9 L2446.0,1374.8 L2447.0,1377.4 L2447.4,1378.2 L2448.0,1378.8 L2449.0,1380.0 L2450.0,1379.6 L2451.0,1380.2 L2452.0,1378.3 L2453.0,1376.2 L2454.0,1374.8 L2455.0,1376.3 L2456.0,1376.7 L2457.0,1376.0 L2458.0,1378.6 L2459.0,1380.7 L2460.0,1379.5 L2461.0,1379.7 L2462.0,1378.2 L2462.7,1376.5 L2463.0,1375.5 L2464.0,1372.2 L2465.0,1370.9 L2466.0,1370.3 L2467.0,1369.7 L2468.0,1367.7 L2469.0,1368.1 L2470.0,1369.8 L2471.0,1367.6 L2471.2,1367.1 L2472.0,1365.6 L2473.0,1362.9 L2474.0,1360.4 L2475.0,1361.5 L2476.0,1362.1 L2477.0,1361.5 L2478.0,1362.9 L2479.0,1359.9 L2480.0,1357.9 L2481.0,1358.9 L2481.4,1359.5 L2482.0,1361.2 L2483.0,1363.1 L2484.0,1364.2 L2485.0,1365.8 L2486.0,1365.6 L2487.0,1365.8 L2488.0,1367.4 L2489.0,1368.4 L2490.0,1370.5 L2491.0,1372.6 L2492.0,1372.4 L2493.0,1372.3 L2493.3,1372.5 L2494.0,1372.4 L2495.0,1371.8 L2496.0,1371.1 L2497.0,1371.4 L2498.0,1373.5 L2499.0,1373.5 L2500.0,1375.0 L2501.0,1375.7 L2502.0,1375.2 L2503.0,1376.5 L2504.0,1377.8 L2505.0,1377.7 L2506.0,1375.4 L2507.0,1376.8 L2508.0,1380.2 L2509.0,1379.5 L2510.0,1379.3 L2511.0,1380.3 L2511.2,1380.2 L2512.0,1379.0 L2513.0,1377.2 L2514.0,1374.5 L2515.0,1377.3 L2516.0,1379.2 L2517.0,1378.4 L2518.0,1378.3 L2519.0,1378.4 L2520.0,1377.1 L2521.0,1379.2 L2522.0,1377.6 L2523.0,1374.2 L2523.9,1374.2 L2524.0,1374.3 L2525.0,1375.9 L2526.0,1376.7 L2527.0,1376.2 L2528.0,1377.0 L2529.0,1377.1 L2530.0,1376.7 L2531.0,1377.0 L2532.0,1378.0 L2533.0,1377.9 L2534.0,1378.4 L2535.0,1378.8 L2536.0,1379.6 L2537.0,1381.5 L2538.0,1381.1 L2539.0,1379.2 L2539.3,1378.9 L2540.0,1377.3 L2541.0,1378.6 L2542.0,1378.4 L2543.0,1377.1 L2544.0,1375.5 L2545.0,1376.0 L2546.0,1377.8 L2547.0,1377.1 L2548.0,1376.0 L2549.0,1375.4 L2550.0,1374.1 L2551.0,1372.8 L2551.2,1372.4 L2552.0,1371.1 L2553.0,1371.3 L2553.1,1371.4 L2554.0,1373.5 L2555.0,1373.4 L2556.0,1372.6 L2557.0,1369.6 L2558.0,1368.3 L2559.0,1368.9 L2560.0,1368.9 L2561.0,1369.3 L2562.0,1368.9 L2563.0,1368.2 L2563.9,1370.4 L2564.0,1370.5 L2565.0,1368.8 L2566.0,1366.0 L2567.0,1367.4 L2568.0,1368.8 L2568.4,1368.5 L2569.0,1369.1 L2570.0,1367.1 L2571.0,1365.5 L2572.0,1364.8 L2573.0,1368.0 L2574.0,1367.0 L2575.0,1365.4 L2576.0,1363.5 L2576.0,1363.5 L2577.0,1361.4 L2578.0,1361.0 L2579.0,1363.2 L2580.0,1364.4 L2581.0,1367.4 L2582.0,1368.5 L2583.0,1369.8 L2583.7,1370.0 L2584.0,1369.9 L2585.0,1369.7 L2586.0,1371.1 L2587.0,1374.3 L2588.0,1376.7 L2589.0,1376.6 L2590.0,1373.9 L2591.0,1373.8 L2592.0,1375.1 L2592.9,1375.4 L2594.5,1375.4" fill="none" stroke="#AA3377" stroke-opacity="0.8" stroke-width="12.5" stroke-linejoin="round" stroke-linecap="butt" clip-path="url(#ax)"/>
<path d="M361.00,1551.45 v-16.8 M361.00,145.35 v16.8 M454.00,1551.45 v-16.8 M454.00,145.35 v16.8 M547.00,1551.45 v-16.8 M547.00,145.35 v16.8 M640.00,1551.45 v-16.8 M640.00,145.35 v16.8 M733.00,1551.45 v-33.3 M733.00,145.35 v33.3 M826.00,1551.45 v-16.8 M826.00,145.35 v16.8 M919.00,1551.45 v-16.8 M919.00,145.35 v16.8 M1012.00,1551.45 v-16.8 M1012.00,145.35 v16.8 M1105.00,1551.45 v-16.8 M1105.00,145.35 v16.8 M1198.00,1551.45 v-33.3 M1198.00,145.35 v33.3 M1291.00,1551.45 v-16.8 M1291.00,145.35 v16.8 M1384.00,1551.45 v-16.8 M1384.00,145.35 v16.8 M1477.00,1551.45 v-16.8 M1477.00,145.35 v16.8 M1570.00,1551.45 v-16.8 M1570.00,145.35 v16.8 M1663.00,1551.45 v-33.3 M1663.00,145.35 v33.3 M1756.00,1551.45 v-16.8 M1756.00,145.35 v16.8 M1849.00,1551.45 v-16.8 M1849.00,145.35 v16.8 M1942.00,1551.45 v-16.8 M1942.00,145.35 v16.8 M2035.00,1551.45 v-16.8 M2035.00,145.35 v16.8 M2128.00,1551.45 v-33.3 M2128.00,145.35 v33.3 M2221.00,1551.45 v-16.8 M2221.00,145.35 v16.8 M2314.00,1551.45 v-16.8 M2314.00,145.35 v16.8 M2407.00,1551.45 v-16.8 M2407.00,145.35 v16.8 M2500.00,1551.45 v-16.8 M2500.00,145.35 v16.8 M268.5,1492.00 h16.8 M2593.5,1492.00 h-16.8 M268.5,1434.00 h16.8 M2593.5,1434.00 h-16.8 M268.5,1375.00 h16.8 M2593.5,1375.00 h-16.8 M268.5,1317.00 h33.3 M2593.5,1317.00 h-33.3 M268.5,1258.00 h16.8 M2593.5,1258.00 h-16.8 M268.5,1199.00 h16.8 M2593.5,1199.00 h-16.8 M268.5,1141.00 h16.8 M2593.5,1141.00 h-16.8 M268.5,1082.00 h33.3 M2593.5,1082.00 h-33.3 M268.5,1024.00 h16.8 M2593.5,1024.00 h-16.8 M268.5,965.00 h16.8 M2593.5,965.00 h-16.8 M268.5,906.00 h16.8 M2593.5,906.00 h-16.8 M268.5,848.00 h33.3 M2593.5,848.00 h-33.3 M268.5,789.00 h16.8 M2593.5,789.00 h-16.8 M268.5,731.00 h16.8 M2593.5,731.00 h-16.8 M268.5,672.00 h16.8 M2593.5,672.00 h-16.8 M268.5,614.00 h33.3 M2593.5,614.00 h-33.3 M268.5,555.00 h16.8 M2593.5,555.00 h-16.8 M268.5,496.00 h16.8 M2593.5,496.00 h-16.8 M268.5,438.00 h16.8 M2593.5,438.00 h-16.8 M268.5,379.00 h33.3 M2593.5,379.00 h-33.3 M268.5,321.00 h16.8 M2593.5,321.00 h-16.8 M268.5,262.00 h16.8 M2593.5,262.00 h-16.8 M268.5,203.00 h16.8 M2593.5,203.00 h-16.8" stroke="#000" stroke-width="2.0" fill="none"/>
<path d="M258.0,1548.0 L268.5,1548.2 L280.0,1550.0 L290.0,1550.5 L296.0,1545.5 L300.0,1542.5 L305.0,1542.0 L309.5,1542.5 L314.0,1546.5 L319.0,1549.0 L326.7,1544.0 L337.2,1537.0 L341.0,1535.5 L343.5,1531.0 L344.3,1527.0 L346.5,1508.0 L351.4,1452.0 L354.7,1396.0 L356.8,1375.0 L358.5,1366.0 L362.0,1361.4 L362.0,1361.4 L363.0,1362.0 L364.0,1363.0 L365.0,1363.6 L366.0,1363.9 L367.0,1364.1 L368.0,1364.8 L369.0,1365.5 L370.0,1365.8 L370.5,1366.9 L371.0,1367.3 L372.0,1368.4 L373.0,1366.9 L374.0,1365.4 L375.0,1365.3 L376.0,1365.7 L377.0,1365.7 L378.0,1366.3 L379.0,1365.5 L379.0,1365.4 L380.0,1364.7 L381.0,1364.0 L382.0,1365.4 L383.0,1366.2 L384.0,1364.6 L385.0,1364.4 L386.0,1364.7 L387.0,1363.8 L387.6,1363.9 L388.0,1363.7 L389.0,1364.2 L390.0,1362.7 L391.0,1360.9 L392.0,1359.8 L393.0,1359.3 L394.0,1360.0 L395.0,1358.9 L395.2,1359.0 L396.0,1360.7 L397.0,1361.8 L398.0,1361.2 L399.0,1362.9 L400.0,1363.4 L401.0,1361.4 L401.2,1361.7 L402.0,1361.4 L403.0,1363.1 L404.0,1363.3 L405.0,1363.3 L406.0,1362.7 L407.0,1360.7 L408.0,1359.9 L408.0,1359.9 L409.0,1360.2 L410.0,1359.6 L411.0,1362.3 L412.0,1365.1 L413.0,1366.7 L414.0,1366.4 L414.8,1367.1 L415.0,1367.1 L416.0,1366.0 L417.0,1362.6 L418.0,1361.7 L419.0,1363.9 L420.0,1363.6 L421.0,1364.6 L422.0,1365.0 L423.0,1365.0 L423.3,1364.8 L424.0,1364.2 L425.0,1365.0 L426.0,1360.3 L427.0,1359.9 L428.0,1363.1 L429.0,1364.8 L430.0,1364.1 L431.0,1362.3 L432.0,1360.0 L433.0,1360.9 L434.0,1360.6 L435.0,1356.4 L435.2,1356.2 L436.0,1356.2 L437.0,1359.3 L438.0,1361.8 L439.0,1360.8 L440.0,1358.3 L441.0,1358.2 L442.0,1358.7 L442.8,1359.6 L443.0,1359.6 L444.0,1361.8 L445.0,1360.3 L446.0,1359.0 L447.0,1358.8 L448.0,1359.7 L449.0,1358.7 L450.0,1357.4 L451.0,1354.9 L452.0,1352.3 L452.2,1352.3 L453.0,1353.2 L454.0,1354.3 L455.0,1352.1 L456.0,1352.3 L457.0,1353.9 L458.0,1354.2 L459.0,1355.3 L460.0,1355.4 L461.0,1357.1 L461.5,1357.2 L462.0,1358.2 L463.0,1358.6 L464.0,1360.9 L465.0,1365.6 L465.8,1367.8 L466.0,1368.1 L467.0,1368.5 L468.0,1370.4 L469.0,1370.4 L470.0,1372.4 L471.0,1373.0 L472.0,1372.3 L472.6,1372.4 L473.0,1372.2 L474.0,1371.5 L475.0,1373.9 L476.0,1375.4 L477.0,1374.0 L478.0,1375.0 L479.0,1379.1 L479.4,1379.5 L480.0,1378.6 L481.0,1376.3 L482.0,1371.1 L483.0,1364.2 L483.6,1363.8 L484.0,1363.8 L485.0,1366.9 L486.0,1369.2 L487.0,1369.3 L488.0,1367.3 L489.0,1365.3 L490.0,1363.7 L491.0,1363.5 L491.3,1362.5 L492.0,1361.2 L493.0,1360.6 L494.0,1361.4 L495.0,1360.9 L496.0,1362.0 L497.0,1363.0 L498.0,1365.0 L498.1,1365.1 L499.0,1364.7 L500.0,1361.2 L501.0,1358.9 L502.0,1359.3 L503.0,1361.3 L504.0,1361.5 L505.0,1361.9 L506.0,1362.2 L507.0,1360.8 L508.0,1360.9 L508.3,1361.5 L509.0,1362.7 L510.0,1364.0 L511.0,1363.3 L512.0,1359.8 L513.0,1356.6 L514.0,1353.1 L515.0,1352.0 L516.0,1354.1 L517.0,1352.3 L518.0,1350.4 L519.0,1351.5 L520.0,1353.2 L520.2,1352.7 L521.0,1352.4 L522.0,1352.5 L523.0,1353.0 L524.0,1353.4 L525.0,1354.3 L526.0,1358.0 L527.0,1358.2 L527.0,1358.2 L528.0,1363.7 L528.7,1369.8 L529.0,1370.6 L530.0,1372.8 L531.0,1375.8 L532.0,1375.9 L533.0,1375.8 L533.8,1376.3 L534.0,1376.1 L535.0,1375.1 L536.0,1374.0 L537.0,1374.5 L538.0,1374.7 L539.0,1371.4 L540.0,1369.3 L540.6,1370.3 L541.0,1371.0 L542.0,1372.2 L543.0,1373.1 L544.0,1373.3 L545.0,1374.9 L546.0,1374.8 L547.0,1372.0 L548.0,1369.2 L549.0,1367.7 L549.1,1367.5 L550.0,1365.8 L551.0,1363.4 L552.0,1363.6 L553.0,1363.3 L554.0,1361.4 L555.0,1360.6 L555.9,1358.7 L556.0,1358.6 L557.0,1358.8 L558.0,1358.2 L559.0,1356.0 L560.0,1357.2 L560.2,1357.6 L561.0,1360.9 L562.0,1363.6 L563.0,1364.3 L564.0,1362.7 L565.0,1362.1 L566.0,1362.0 L566.1,1362.4 L567.0,1365.0 L568.0,1367.5 L569.0,1369.0 L570.0,1369.3 L571.0,1371.7 L571.2,1371.5 L572.0,1370.3 L573.0,1368.0 L574.0,1369.4 L575.0,1369.8 L576.0,1366.7 L577.0,1364.1 L578.0,1362.4 L579.0,1364.2 L579.7,1365.5 L580.0,1365.8 L581.0,1363.8 L582.0,1361.3 L583.0,1361.0 L584.0,1363.0 L585.0,1360.9 L586.0,1359.2 L587.0,1360.5 L588.0,1360.1 L589.0,1358.9 L589.9,1357.6 L590.0,1357.6 L591.0,1357.7 L592.0,1359.1 L593.0,1361.3 L594.0,1359.9 L595.0,1359.5 L596.0,1361.5 L597.0,1363.7 L598.0,1365.0 L598.4,1365.3 L599.0,1363.2 L600.0,1360.1 L601.0,1357.3 L601.8,1353.7 L602.0,1353.4 L603.0,1351.6 L604.0,1350.1 L605.0,1347.7 L605.2,1347.3 L606.0,1346.7 L607.0,1345.2 L608.0,1344.7 L609.0,1344.9 L610.0,1343.9 L610.3,1343.0 L611.0,1341.7 L612.0,1342.5 L613.0,1345.9 L614.0,1345.6 L615.0,1344.3 L616.0,1344.3 L616.3,1345.3 L617.0,1349.2 L618.0,1355.9 L619.0,1358.9 L620.0,1358.5 L621.0,1360.4 L621.4,1361.2 L622.0,1360.9 L623.0,1359.1 L624.0,1357.2 L625.0,1356.7 L626.0,1356.7 L627.0,1355.6 L628.0,1355.4 L629.0,1355.2 L629.0,1355.2 L630.0,1354.0 L631.0,1355.0 L632.0,1353.7 L633.0,1349.9 L634.0,1347.1 L635.0,1345.4 L635.9,1343.7 L636.0,1343.8 L637.0,1344.2 L638.0,1344.4 L639.0,1346.2 L640.0,1350.5 L641.0,1352.3 L642.0,1351.6 L643.0,1351.4 L644.0,1352.0 L645.0,1352.9 L645.2,1353.0 L646.0,1356.9 L647.0,1361.5 L648.0,1364.0 L648.6,1367.3 L649.0,1368.0 L650.0,1369.4 L651.0,1369.6 L652.0,1370.8 L653.0,1371.2 L654.0,1371.5 L654.6,1372.5 L655.0,1372.1 L656.0,1372.0 L657.0,1370.1 L658.0,1369.1 L659.0,1367.1 L660.0,1365.6 L661.0,1363.1 L662.0,1362.6 L663.0,1364.2 L663.8,1364.0 L664.0,1364.3 L665.0,1366.0 L666.0,1365.5 L667.0,1365.4 L668.0,1365.4 L669.0,1365.0 L670.0,1365.5 L670.6,1365.3 L671.0,1365.6 L672.0,1366.7 L673.0,1367.5 L674.0,1370.2 L675.0,1371.4 L676.0,1372.6 L677.0,1374.4 L678.0,1374.2 L679.0,1374.2 L680.0,1377.2 L680.8,1379.2 L681.0,1379.2 L682.0,1377.8 L683.0,1378.8 L684.0,1379.5 L685.0,1378.3 L686.0,1377.4 L687.0,1381.0 L688.0,1380.3 L689.0,1376.4 L689.3,1375.3 L690.0,1374.0 L691.0,1373.0 L692.0,1373.6 L693.0,1377.2 L694.0,1380.2 L695.0,1379.5 L695.3,1379.7 L696.0,1378.1 L697.0,1376.8 L698.0,1374.7 L699.0,1372.1 L700.0,1371.3 L701.0,1372.9 L702.0,1370.6 L703.0,1367.1 L704.0,1363.9 L705.0,1359.9 L705.5,1358.7 L706.0,1359.2 L707.0,1362.9 L708.0,1367.9 L709.0,1368.2 L710.0,1366.1 L711.0,1366.8 L712.0,1369.5 L713.0,1371.1 L714.0,1374.3 L714.8,1376.7 L715.0,1376.8 L716.0,1376.6 L717.0,1376.9 L718.0,1376.4 L719.0,1374.6 L720.0,1375.0 L721.0,1376.2 L722.0,1374.2 L723.0,1371.9 L724.0,1370.3 L724.2,1369.8 L725.0,1370.0 L726.0,1371.3 L727.0,1374.0 L728.0,1374.6 L729.0,1376.0 L730.0,1378.9 L731.0,1381.7 L731.8,1383.2 L732.0,1383.2 L733.0,1386.6 L734.0,1387.2 L735.0,1385.5 L736.0,1385.6 L736.9,1384.2 L737.0,1383.9 L738.0,1381.4 L739.0,1378.0 L740.0,1374.7 L741.0,1371.3 L742.0,1370.1 L743.0,1368.9 L743.7,1367.6 L744.0,1367.2 L745.0,1364.1 L746.0,1363.0 L747.0,1362.2 L748.0,1358.8 L749.0,1357.4 L750.0,1356.1 L751.0,1355.2 L752.0,1353.1 L753.0,1352.5 L754.0,1349.3 L754.3,1348.4 L755.0,1348.4 L756.0,1349.6 L757.0,1351.5 L758.0,1353.7 L759.0,1354.8 L760.0,1356.4 L761.0,1357.0 L762.0,1356.6 L762.4,1357.1 L763.0,1358.7 L764.0,1363.6 L765.0,1368.1 L766.0,1366.9 L767.0,1364.3 L768.0,1360.1 L769.0,1358.6 L770.0,1361.2 L771.0,1360.3 L772.0,1358.3 L773.0,1358.1 L774.0,1357.6 L775.0,1354.6 L775.2,1354.0 L776.0,1353.4 L777.0,1354.9 L778.0,1357.8 L779.0,1359.1 L780.0,1359.2 L781.0,1363.2 L781.2,1363.6 L782.0,1365.3 L783.0,1365.3 L784.0,1362.7 L785.0,1363.4 L786.0,1364.0 L787.0,1364.1 L788.0,1364.6 L788.0,1364.5 L789.0,1363.8 L790.0,1364.0 L791.0,1366.8 L792.0,1368.2 L793.0,1363.3 L793.9,1360.9 L794.0,1360.8 L795.0,1363.6 L796.0,1360.5 L797.0,1358.2 L798.0,1357.9 L799.0,1356.1 L800.0,1355.6 L801.0,1355.5 L801.6,1356.6 L802.0,1356.7 L803.0,1355.2 L804.0,1354.1 L805.0,1354.3 L806.0,1354.4 L807.0,1351.5 L808.0,1349.6 L809.0,1349.9 L810.0,1348.8 L811.0,1345.1 L811.4,1345.5 L812.0,1347.5 L813.0,1350.3 L814.0,1351.3 L815.0,1351.0 L816.0,1350.3 L817.0,1351.2 L818.0,1351.6 L819.0,1352.2 L820.0,1353.5 L821.0,1354.2 L822.0,1354.2 L822.0,1354.2 L823.0,1355.8 L824.0,1357.3 L825.0,1357.8 L826.0,1357.5 L827.0,1355.1 L828.0,1351.9 L829.0,1350.5 L830.0,1349.2 L831.0,1348.8 L832.0,1347.2 L832.2,1347.1 L833.0,1347.6 L834.0,1346.9 L835.0,1349.0 L836.0,1350.2 L837.0,1349.2 L838.0,1348.8 L839.0,1349.8 L839.0,1349.9 L840.0,1353.6 L841.0,1353.7 L842.0,1353.2 L843.0,1355.1 L844.0,1358.4 L845.0,1360.6 L846.0,1365.2 L847.0,1367.7 L847.5,1367.5 L848.0,1366.0 L849.0,1364.1 L850.0,1363.3 L851.0,1361.1 L852.0,1361.5 L853.0,1361.2 L853.4,1360.4 L854.0,1360.2 L855.0,1359.6 L856.0,1360.1 L857.0,1360.2 L858.0,1360.8 L859.0,1362.0 L860.0,1363.2 L861.0,1361.1 L862.0,1362.1 L863.0,1366.3 L864.0,1368.2 L865.0,1369.3 L866.0,1372.4 L867.0,1371.9 L867.9,1370.4 L868.0,1370.0 L869.0,1371.1 L870.0,1368.8 L871.0,1365.9 L872.0,1363.6 L873.0,1361.2 L874.0,1361.6 L875.0,1363.0 L876.0,1362.2 L877.0,1361.3 L878.0,1358.9 L879.0,1358.1 L880.0,1355.4 L881.0,1352.9 L882.0,1351.4 L883.0,1350.8 L883.2,1350.8 L884.0,1353.7 L885.0,1358.8 L886.0,1362.3 L887.0,1364.0 L888.0,1366.3 L889.0,1366.6 L890.0,1366.9 L891.0,1366.2 L892.0,1365.3 L893.0,1361.2 L894.0,1361.8 L895.0,1364.1 L896.0,1364.5 L897.0,1362.7 L898.0,1360.5 L898.5,1360.5 L899.0,1360.7 L900.0,1361.4 L901.0,1361.4 L902.0,1360.4 L903.0,1359.3 L904.0,1359.9 L905.0,1360.4 L906.0,1359.5 L907.0,1358.4 L907.0,1358.3 L908.0,1357.7 L909.0,1359.1 L910.0,1357.4 L911.0,1355.8 L912.0,1359.4 L913.0,1361.1 L914.0,1359.6 L915.0,1363.2 L916.0,1364.2 L917.0,1363.7 L918.0,1362.2 L918.9,1362.9 L919.0,1363.1 L920.0,1364.4 L921.0,1365.2 L922.0,1364.4 L923.0,1364.7 L924.0,1367.2 L925.0,1372.7 L926.0,1374.0 L927.0,1373.1 L928.0,1372.7 L929.0,1372.0 L930.0,1373.0 L931.0,1374.0 L931.7,1373.3 L932.0,1372.3 L933.0,1371.3 L934.0,1372.2 L935.0,1373.8 L936.0,1375.2 L937.0,1372.9 L938.0,1370.7 L939.0,1370.4 L940.0,1369.5 L941.0,1368.6 L942.0,1368.2 L943.0,1366.4 L944.0,1363.6 L944.4,1364.0 L945.0,1364.6 L946.0,1364.7 L947.0,1365.2 L948.0,1366.3 L949.0,1366.6 L950.0,1366.2 L951.0,1364.7 L952.0,1365.8 L952.9,1365.9 L953.0,1365.9 L954.0,1364.8 L955.0,1364.1 L956.0,1363.4 L957.0,1361.3 L958.0,1363.4 L959.0,1366.4 L960.0,1363.0 L961.0,1359.7 L962.0,1358.8 L963.0,1358.0 L963.1,1358.1 L964.0,1358.5 L965.0,1360.1 L966.0,1358.9 L967.0,1359.7 L968.0,1359.8 L969.0,1359.9 L969.9,1360.3 L970.0,1360.5 L971.0,1363.9 L972.0,1368.1 L973.0,1369.9 L974.0,1371.7 L975.0,1370.2 L976.0,1369.9 L977.0,1370.6 L978.0,1371.0 L979.0,1375.1 L979.3,1377.0 L980.0,1379.2 L981.0,1376.6 L982.0,1373.6 L983.0,1373.7 L984.0,1372.6 L985.0,1371.2 L986.0,1369.1 L987.0,1368.6 L988.0,1368.1 L989.0,1363.4 L990.0,1360.5 L990.3,1360.9 L991.0,1364.0 L992.0,1366.4 L993.0,1367.0 L994.0,1368.6 L995.0,1371.5 L995.4,1371.8 L996.0,1370.1 L997.0,1368.4 L998.0,1367.0 L999.0,1364.5 L1000.0,1362.5 L1001.0,1360.2 L1002.0,1359.8 L1003.0,1359.8 L1004.0,1357.7 L1005.0,1357.4 L1005.6,1356.0 L1006.0,1356.2 L1007.0,1353.8 L1008.0,1353.7 L1009.0,1355.7 L1010.0,1357.6 L1011.0,1359.9 L1012.0,1361.9 L1013.0,1362.9 L1014.0,1365.3 L1014.1,1365.0 L1015.0,1362.6 L1016.0,1359.5 L1017.0,1359.4 L1018.0,1362.6 L1019.0,1364.0 L1020.0,1362.0 L1021.0,1360.2 L1022.0,1357.5 L1023.0,1354.8 L1024.0,1353.5 L1025.0,1352.3 L1026.0,1354.9 L1027.0,1357.2 L1027.8,1355.9 L1028.0,1355.8 L1029.0,1358.1 L1030.0,1357.2 L1031.0,1357.5 L1032.0,1360.7 L1032.9,1362.5 L1033.0,1362.3 L1033.2,1362.1 L1034.0,1361.8 L1035.0,1359.6 L1036.0,1356.6 L1037.0,1356.9 L1038.0,1357.3 L1038.7,1356.8 L1039.0,1356.7 L1040.0,1358.3 L1041.0,1357.5 L1042.0,1353.4 L1043.0,1350.5 L1044.0,1348.6 L1045.0,1348.7 L1046.0,1347.0 L1047.0,1343.4 L1048.0,1344.3 L1049.0,1346.0 L1050.0,1343.6 L1051.0,1343.2 L1052.0,1342.2 L1053.0,1340.9 L1054.0,1342.0 L1054.0,1341.9 L1055.0,1342.3 L1056.0,1342.8 L1057.0,1345.8 L1058.0,1347.2 L1059.0,1348.8 L1060.0,1348.9 L1061.0,1346.2 L1062.0,1342.5 L1063.0,1341.8 L1064.0,1344.8 L1064.2,1345.3 L1065.0,1349.6 L1066.0,1354.3 L1067.0,1357.0 L1068.0,1358.7 L1069.0,1363.4 L1069.3,1365.8 L1070.0,1369.5 L1071.0,1374.1 L1072.0,1375.9 L1072.7,1377.4 L1073.0,1376.9 L1074.0,1370.3 L1075.0,1367.2 L1076.0,1367.4 L1077.0,1366.5 L1078.0,1362.5 L1079.0,1359.4 L1080.0,1358.0 L1081.0,1358.9 L1082.0,1359.5 L1083.0,1357.8 L1084.0,1353.6 L1084.6,1352.3 L1085.0,1352.7 L1086.0,1354.9 L1087.0,1358.2 L1088.0,1358.2 L1089.0,1359.9 L1090.0,1360.1 L1091.0,1359.6 L1092.0,1363.4 L1093.0,1365.0 L1094.0,1363.8 L1094.0,1363.7 L1095.0,1363.1 L1096.0,1362.6 L1097.0,1364.2 L1098.0,1364.6 L1099.0,1363.0 L1100.0,1361.9 L1101.0,1359.6 L1102.0,1357.3 L1103.0,1356.0 L1104.0,1357.1 L1105.0,1356.2 L1105.0,1356.1 L1106.0,1355.6 L1107.0,1354.5 L1108.0,1355.6 L1109.0,1355.6 L1110.0,1355.5 L1111.0,1357.9 L1111.8,1359.2 L1112.0,1359.3 L1113.0,1359.8 L1114.0,1360.6 L1115.0,1361.4 L1116.0,1361.0 L1117.0,1363.4 L1118.0,1363.2 L1119.0,1360.2 L1120.0,1356.3 L1121.0,1353.5 L1122.0,1352.5 L1123.0,1351.5 L1124.0,1353.1 L1125.0,1355.3 L1126.0,1357.6 L1127.0,1358.3 L1128.0,1354.4 L1129.0,1353.4 L1130.0,1355.9 L1130.5,1357.0 L1131.0,1358.0 L1132.0,1359.6 L1133.0,1362.3 L1134.0,1364.1 L1135.0,1365.0 L1136.0,1365.3 L1137.0,1369.4 L1138.0,1374.3 L1139.0,1371.7 L1140.0,1370.3 L1141.0,1367.4 L1142.0,1363.2 L1143.0,1363.3 L1144.0,1365.8 L1145.0,1370.2 L1146.0,1370.5 L1147.0,1369.9 L1148.0,1370.1 L1149.0,1370.3 L1150.0,1367.9 L1151.0,1366.8 L1152.0,1367.9 L1153.0,1367.8 L1154.0,1368.6 L1155.0,1369.0 L1156.0,1367.2 L1157.0,1363.4 L1158.0,1358.3 L1159.0,1356.0 L1160.0,1358.5 L1161.0,1360.6 L1161.2,1360.3 L1162.0,1359.9 L1163.0,1360.5 L1164.0,1361.6 L1165.0,1361.9 L1166.0,1363.6 L1167.0,1362.8 L1168.0,1361.0 L1169.0,1364.5 L1170.0,1367.3 L1171.0,1367.8 L1172.0,1368.2 L1172.2,1368.2 L1173.0,1366.6 L1174.0,1366.1 L1175.0,1364.9 L1176.0,1363.7 L1177.0,1363.6 L1178.0,1361.9 L1179.0,1360.6 L1180.0,1360.7 L1181.0,1360.4 L1182.0,1358.1 L1183.0,1358.1 L1184.0,1356.8 L1184.6,1354.5 L1185.0,1354.2 L1186.0,1355.7 L1187.0,1358.2 L1188.0,1359.1 L1189.0,1360.7 L1190.0,1362.2 L1191.0,1365.8 L1192.0,1367.6 L1193.0,1367.2 L1194.0,1368.5 L1195.0,1370.6 L1196.0,1370.3 L1196.9,1369.0 L1197.0,1368.5 L1198.0,1366.5 L1199.0,1366.4 L1200.0,1366.1 L1201.0,1366.2 L1202.0,1367.6 L1203.0,1369.4 L1203.7,1368.3 L1204.0,1368.1 L1205.0,1368.5 L1206.0,1369.2 L1207.0,1370.0 L1208.0,1370.9 L1209.0,1371.2 L1210.0,1369.0 L1210.5,1370.0 L1211.0,1370.6 L1212.0,1370.0 L1213.0,1370.9 L1214.0,1372.7 L1215.0,1375.1 L1216.0,1374.1 L1217.0,1371.3 L1218.0,1368.0 L1219.0,1365.2 L1220.0,1363.9 L1221.0,1363.3 L1222.0,1361.6 L1222.4,1361.2 L1223.0,1360.7 L1224.0,1360.4 L1225.0,1360.8 L1226.0,1362.2 L1227.0,1363.3 L1228.0,1363.2 L1229.0,1363.9 L1230.0,1362.9 L1231.0,1360.5 L1232.0,1360.6 L1233.0,1360.0 L1234.0,1360.1 L1235.0,1361.0 L1236.0,1360.3 L1236.0,1360.3 L1237.0,1359.8 L1238.0,1360.4 L1239.0,1361.4 L1240.0,1361.4 L1241.0,1359.9 L1242.0,1360.0 L1243.0,1357.7 L1244.0,1355.1 L1245.0,1356.8 L1245.3,1358.1 L1246.0,1361.6 L1247.0,1365.8 L1248.0,1367.9 L1249.0,1369.4 L1250.0,1369.3 L1251.0,1367.8 L1251.3,1368.4 L1252.0,1367.5 L1253.0,1366.2 L1254.0,1365.1 L1255.0,1364.3 L1256.0,1362.7 L1257.0,1360.5 L1258.0,1356.5 L1259.0,1354.4 L1260.0,1354.8 L1261.0,1354.4 L1261.5,1353.5 L1262.0,1353.2 L1263.0,1350.7 L1264.0,1352.4 L1265.0,1353.2 L1266.0,1351.5 L1267.0,1348.5 L1268.0,1346.6 L1269.0,1345.9 L1270.0,1348.0 L1271.0,1347.8 L1271.7,1346.8 L1272.0,1347.2 L1273.0,1351.0 L1274.0,1352.5 L1275.0,1352.8 L1276.0,1354.5 L1277.0,1357.0 L1278.0,1357.8 L1279.0,1360.0 L1280.0,1363.3 L1281.0,1363.8 L1282.0,1366.9 L1282.8,1370.3 L1283.0,1370.7 L1284.0,1371.9 L1285.0,1369.9 L1286.0,1367.4 L1287.0,1366.5 L1288.0,1362.6 L1289.0,1360.2 L1290.0,1358.6 L1291.0,1358.8 L1292.0,1356.7 L1293.0,1353.7 L1294.0,1354.0 L1295.0,1355.9 L1296.0,1357.6 L1297.0,1356.6 L1297.2,1356.2 L1298.0,1355.9 L1299.0,1356.5 L1300.0,1354.8 L1301.0,1354.8 L1302.0,1356.1 L1303.0,1356.6 L1304.0,1357.2 L1305.0,1358.5 L1306.0,1360.1 L1307.0,1359.5 L1308.0,1360.8 L1309.0,1363.4 L1309.1,1363.7 L1310.0,1364.7 L1311.0,1364.4 L1312.0,1363.0 L1313.0,1361.4 L1314.0,1360.0 L1315.0,1360.1 L1315.9,1362.0 L1316.0,1362.3 L1317.0,1366.7 L1318.0,1365.6 L1319.0,1366.2 L1320.0,1367.3 L1321.0,1369.9 L1321.0,1369.9 L1322.0,1369.2 L1323.0,1364.2 L1324.0,1359.4 L1325.0,1359.4 L1326.0,1359.6 L1327.0,1357.4 L1328.0,1356.1 L1329.0,1355.5 L1330.0,1355.5 L1331.0,1351.7 L1332.0,1350.7 L1333.0,1351.3 L1333.8,1348.9 L1334.0,1348.9 L1335.0,1349.6 L1336.0,1351.9 L1337.0,1351.1 L1338.0,1352.1 L1339.0,1352.1 L1340.0,1353.2 L1341.0,1354.3 L1342.0,1353.7 L1343.0,1353.7 L1343.1,1354.1 L1344.0,1355.6 L1345.0,1357.5 L1346.0,1355.6 L1347.0,1356.4 L1348.0,1357.8 L1349.0,1357.8 L1350.0,1354.6 L1351.0,1353.8 L1351.6,1353.5 L1352.0,1353.6 L1353.0,1353.5 L1354.0,1356.7 L1355.0,1360.6 L1356.0,1361.5 L1357.0,1360.6 L1358.0,1360.6 L1359.0,1364.5 L1360.0,1367.3 L1361.0,1367.6 L1362.0,1367.8 L1363.0,1366.8 L1363.5,1366.8 L1364.0,1366.5 L1365.0,1365.9 L1366.0,1365.9 L1367.0,1367.2 L1368.0,1368.4 L1369.0,1368.3 L1370.0,1369.7 L1371.0,1367.6 L1372.0,1365.6 L1373.0,1365.9 L1373.7,1365.7 L1374.0,1365.7 L1375.0,1364.5 L1376.0,1364.9 L1377.0,1364.6 L1378.0,1364.9 L1379.0,1367.7 L1380.0,1368.7 L1381.0,1370.0 L1382.0,1370.4 L1383.0,1369.7 L1384.0,1366.7 L1385.0,1366.7 L1385.6,1368.0 L1386.0,1368.7 L1387.0,1370.0 L1388.0,1370.8 L1389.0,1368.9 L1390.0,1367.2 L1391.0,1365.4 L1392.0,1363.5 L1393.0,1362.5 L1394.0,1362.9 L1395.0,1364.8 L1396.0,1365.0 L1397.0,1366.0 L1398.0,1364.2 L1399.0,1362.4 L1399.3,1362.7 L1400.0,1362.7 L1401.0,1362.8 L1402.0,1361.8 L1403.0,1361.2 L1404.0,1362.2 L1405.0,1360.0 L1406.0,1357.0 L1407.0,1354.2 L1408.0,1353.4 L1409.0,1353.9 L1409.5,1353.4 L1410.0,1354.8 L1411.0,1356.3 L1412.0,1358.9 L1413.0,1360.1 L1414.0,1360.3 L1415.0,1364.0 L1416.0,1368.6 L1416.3,1370.1 L1417.0,1373.4 L1418.0,1375.1 L1419.0,1374.6 L1420.0,1376.9 L1421.0,1378.0 L1421.3,1378.5 L1422.0,1378.4 L1423.0,1378.8 L1424.0,1377.7 L1425.0,1375.9 L1426.0,1374.7 L1427.0,1371.1 L1428.0,1366.4 L1429.0,1360.9 L1430.0,1358.6 L1431.0,1359.8 L1432.0,1362.1 L1432.3,1362.2 L1433.0,1362.9 L1434.0,1362.1 L1435.0,1362.1 L1436.0,1362.3 L1437.0,1362.2 L1438.0,1363.3 L1439.0,1363.0 L1439.1,1362.7 L1440.0,1362.9 L1441.0,1365.0 L1442.0,1367.6 L1443.0,1369.9 L1444.0,1374.3 L1444.2,1374.7 L1445.0,1373.5 L1446.0,1368.5 L1447.0,1364.9 L1448.0,1364.4 L1449.0,1362.8 L1450.0,1362.1 L1451.0,1362.7 L1452.0,1362.3 L1453.0,1360.1 L1454.0,1358.4 L1455.0,1352.7 L1456.0,1349.6 L1457.0,1348.9 L1457.0,1348.9 L1458.0,1352.4 L1459.0,1355.8 L1460.0,1357.9 L1461.0,1360.8 L1462.0,1360.5 L1463.0,1360.0 L1464.0,1363.9 L1465.0,1366.8 L1466.0,1369.8 L1467.0,1372.9 L1468.0,1375.1 L1469.0,1376.4 L1469.7,1378.1 L1470.0,1377.7 L1471.0,1376.7 L1472.0,1375.4 L1473.0,1373.6 L1474.0,1370.2 L1475.0,1366.0 L1476.0,1361.7 L1477.0,1360.5 L1478.0,1361.4 L1479.0,1360.1 L1480.0,1359.6 L1481.0,1358.4 L1481.6,1356.2 L1482.0,1356.2 L1483.0,1357.9 L1484.0,1359.0 L1485.0,1362.9 L1486.0,1367.2 L1487.0,1369.6 L1488.0,1368.1 L1489.0,1367.7 L1490.0,1370.5 L1491.0,1373.3 L1491.0,1373.3 L1492.0,1373.3 L1493.0,1371.1 L1494.0,1367.7 L1495.0,1362.8 L1496.0,1362.9 L1497.0,1364.7 L1498.0,1364.3 L1499.0,1363.1 L1500.0,1362.0 L1501.0,1361.2 L1502.0,1358.3 L1503.0,1356.8 L1504.0,1355.9 L1505.0,1356.8 L1505.4,1356.1 L1506.0,1356.9 L1507.0,1357.6 L1508.0,1359.9 L1509.0,1360.3 L1510.0,1360.5 L1511.0,1362.0 L1512.0,1363.2 L1513.0,1364.8 L1514.0,1368.7 L1515.0,1372.2 L1516.0,1372.4 L1517.0,1374.4 L1517.3,1375.3 L1518.0,1374.7 L1519.0,1371.5 L1520.0,1369.4 L1521.0,1368.0 L1522.0,1366.0 L1523.0,1361.4 L1524.0,1357.7 L1525.0,1356.7 L1525.9,1356.3 L1526.0,1356.6 L1527.0,1355.8 L1528.0,1356.3 L1529.0,1358.5 L1530.0,1360.0 L1531.0,1361.3 L1532.0,1361.7 L1533.0,1362.8 L1534.0,1363.1 L1535.0,1361.9 L1536.0,1362.9 L1537.0,1362.3 L1538.0,1364.9 L1539.0,1369.5 L1540.0,1369.5 L1541.0,1367.5 L1541.2,1367.5 L1542.0,1366.7 L1543.0,1366.2 L1544.0,1366.5 L1545.0,1365.9 L1546.0,1362.5 L1547.0,1359.5 L1548.0,1362.0 L1549.0,1363.2 L1550.0,1361.6 L1551.0,1360.7 L1552.0,1359.1 L1553.0,1357.4 L1554.0,1353.2 L1555.0,1353.3 L1556.0,1355.1 L1557.0,1357.1 L1558.0,1358.8 L1559.0,1359.6 L1559.9,1358.4 L1560.0,1358.3 L1561.0,1355.3 L1562.0,1354.6 L1563.0,1356.6 L1564.0,1358.4 L1565.0,1358.8 L1566.0,1357.1 L1567.0,1356.7 L1568.0,1357.3 L1568.4,1358.1 L1569.0,1359.9 L1570.0,1360.7 L1571.0,1361.1 L1572.0,1362.6 L1573.0,1363.4 L1574.0,1360.4 L1575.0,1359.2 L1576.0,1361.2 L1577.0,1362.6 L1578.0,1362.8 L1579.0,1362.1 L1580.0,1363.6 L1580.3,1364.1 L1581.0,1365.1 L1582.0,1365.0 L1583.0,1367.8 L1584.0,1369.8 L1585.0,1371.3 L1586.0,1369.7 L1587.0,1369.3 L1588.0,1368.5 L1588.8,1368.6 L1589.0,1368.2 L1590.0,1368.7 L1591.0,1366.6 L1592.0,1364.0 L1593.0,1363.7 L1594.0,1362.9 L1595.0,1359.6 L1596.0,1357.8 L1597.0,1357.5 L1598.0,1358.7 L1598.1,1358.8 L1599.0,1361.7 L1600.0,1359.7 L1601.0,1360.1 L1602.0,1358.2 L1603.0,1356.3 L1604.0,1355.7 L1605.0,1357.9 L1606.0,1360.0 L1606.6,1359.6 L1607.0,1359.6 L1608.0,1359.2 L1609.0,1359.4 L1610.0,1360.5 L1611.0,1362.2 L1612.0,1363.3 L1613.0,1364.1 L1614.0,1364.1 L1615.0,1362.6 L1616.0,1363.7 L1617.0,1366.7 L1617.7,1367.8 L1618.0,1367.8 L1619.0,1367.9 L1620.0,1366.7 L1621.0,1366.5 L1622.0,1367.9 L1623.0,1367.7 L1624.0,1367.7 L1625.0,1364.9 L1626.0,1365.2 L1626.2,1365.2 L1627.0,1366.6 L1628.0,1366.5 L1629.0,1368.0 L1630.0,1368.5 L1631.0,1369.3 L1632.0,1371.5 L1633.0,1374.6 L1633.0,1374.6 L1634.0,1372.6 L1635.0,1368.0 L1636.0,1365.5 L1637.0,1363.0 L1638.0,1362.2 L1639.0,1361.8 L1640.0,1362.2 L1641.0,1360.4 L1642.0,1356.8 L1643.0,1355.6 L1644.0,1355.0 L1645.0,1353.8 L1646.0,1352.4 L1647.0,1352.9 L1648.0,1354.3 L1648.3,1354.3 L1649.0,1356.1 L1650.0,1356.3 L1651.0,1359.1 L1652.0,1361.7 L1653.0,1360.9 L1654.0,1361.5 L1655.0,1363.1 L1656.0,1366.4 L1657.0,1368.7 L1657.7,1368.2 L1658.0,1366.6 L1659.0,1364.0 L1660.0,1361.6 L1661.0,1359.2 L1662.0,1357.6 L1663.0,1357.0 L1664.0,1354.5 L1665.0,1351.4 L1666.0,1349.0 L1667.0,1347.5 L1668.0,1345.7 L1668.4,1344.9 L1669.0,1345.8 L1670.0,1345.9 L1671.0,1346.9 L1672.0,1348.3 L1673.0,1352.4 L1674.0,1355.5 L1675.0,1355.8 L1676.0,1356.1 L1677.0,1360.4 L1677.2,1360.3 L1678.0,1359.0 L1679.0,1359.4 L1680.0,1361.4 L1681.0,1361.7 L1682.0,1363.8 L1683.0,1365.0 L1684.0,1363.1 L1685.0,1361.3 L1686.0,1362.8 L1686.6,1363.8 L1687.0,1364.1 L1688.0,1362.1 L1689.0,1360.6 L1690.0,1358.3 L1691.0,1359.0 L1692.0,1361.0 L1693.0,1359.8 L1694.0,1359.9 L1695.0,1359.0 L1695.9,1358.1 L1696.0,1358.1 L1697.0,1358.9 L1698.0,1357.1 L1699.0,1356.0 L1700.0,1354.5 L1701.0,1355.6 L1702.0,1359.1 L1703.0,1361.9 L1704.0,1363.7 L1705.0,1363.1 L1706.0,1361.8 L1707.0,1364.3 L1707.8,1366.0 L1708.0,1366.3 L1709.0,1366.5 L1710.0,1366.5 L1711.0,1366.9 L1712.0,1366.7 L1713.0,1365.8 L1714.0,1365.3 L1715.0,1364.8 L1716.0,1365.1 L1717.0,1365.8 L1718.0,1368.3 L1719.0,1369.8 L1720.0,1366.7 L1721.0,1363.4 L1722.0,1365.0 L1723.0,1367.7 L1723.1,1367.6 L1724.0,1366.3 L1725.0,1366.9 L1726.0,1365.8 L1727.0,1361.8 L1728.0,1357.1 L1729.0,1355.3 L1730.0,1355.8 L1731.0,1357.2 L1732.0,1359.1 L1733.0,1360.7 L1734.0,1360.9 L1735.0,1359.8 L1736.0,1357.3 L1736.7,1357.2 L1737.0,1357.4 L1738.0,1356.0 L1739.0,1354.5 L1740.0,1353.7 L1741.0,1354.1 L1742.0,1354.9 L1743.0,1353.0 L1744.0,1350.6 L1745.0,1349.3 L1746.0,1351.4 L1746.9,1351.8 L1747.0,1351.8 L1748.0,1350.6 L1749.0,1352.6 L1750.0,1353.8 L1751.0,1353.4 L1752.0,1352.6 L1753.0,1351.0 L1754.0,1348.4 L1755.0,1344.9 L1756.0,1344.4 L1756.8,1345.1 L1757.0,1345.9 L1758.0,1349.5 L1759.0,1351.2 L1760.0,1354.1 L1761.0,1358.2 L1762.0,1361.5 L1763.0,1363.1 L1763.9,1365.3 L1764.0,1365.4 L1765.0,1365.4 L1766.0,1368.7 L1767.0,1372.8 L1768.0,1373.2 L1769.0,1377.0 L1769.0,1377.2 L1770.0,1378.4 L1771.0,1375.9 L1772.0,1374.2 L1773.0,1374.0 L1774.0,1373.5 L1775.0,1372.9 L1776.0,1373.2 L1777.0,1374.0 L1778.0,1374.1 L1779.0,1373.0 L1780.0,1371.4 L1781.0,1372.0 L1782.0,1371.3 L1783.0,1369.8 L1784.0,1369.7 L1784.4,1370.0 L1784.7,1371.2 L1785.0,1371.7 L1786.0,1374.7 L1787.0,1374.5 L1788.0,1372.4 L1789.0,1371.5 L1790.0,1370.8 L1791.0,1372.9 L1792.0,1375.8 L1793.0,1375.5 L1793.6,1375.6 L1794.0,1374.9 L1795.0,1372.2 L1796.0,1369.3 L1797.0,1369.2 L1798.0,1367.9 L1799.0,1367.0 L1800.0,1364.9 L1801.0,1359.7 L1802.0,1355.4 L1803.0,1356.8 L1804.0,1357.4 L1805.0,1356.1 L1806.0,1353.9 L1807.0,1350.6 L1807.2,1350.4 L1808.0,1351.8 L1809.0,1355.6 L1810.0,1356.6 L1811.0,1355.0 L1812.0,1354.8 L1813.0,1355.6 L1814.0,1356.4 L1815.0,1358.8 L1816.0,1360.1 L1817.0,1361.4 L1818.0,1362.3 L1818.3,1362.8 L1819.0,1362.5 L1820.0,1362.0 L1821.0,1357.5 L1822.0,1355.9 L1823.0,1354.6 L1824.0,1352.1 L1825.0,1354.1 L1826.0,1355.5 L1827.0,1355.4 L1828.0,1354.7 L1828.5,1353.9 L1829.0,1353.5 L1830.0,1353.5 L1831.0,1352.3 L1832.0,1354.9 L1833.0,1356.8 L1834.0,1359.6 L1835.0,1361.3 L1836.0,1359.8 L1836.1,1359.8 L1837.0,1358.9 L1838.0,1356.0 L1839.0,1353.3 L1840.0,1354.5 L1841.0,1353.0 L1842.0,1351.8 L1843.0,1352.8 L1844.0,1352.0 L1845.0,1349.5 L1846.0,1347.9 L1847.0,1346.0 L1848.0,1346.3 L1849.0,1346.6 L1849.7,1345.2 L1850.0,1345.3 L1851.0,1344.8 L1852.0,1345.0 L1853.0,1346.5 L1854.0,1348.3 L1855.0,1352.2 L1856.0,1353.6 L1857.0,1354.3 L1858.0,1354.0 L1859.0,1355.3 L1859.9,1355.7 L1860.0,1355.8 L1861.0,1357.7 L1862.0,1359.3 L1863.0,1359.3 L1864.0,1360.3 L1865.0,1364.6 L1866.0,1367.4 L1866.7,1368.8 L1867.0,1368.5 L1868.0,1368.0 L1869.0,1366.2 L1870.0,1364.4 L1871.0,1364.8 L1872.0,1365.0 L1873.0,1363.5 L1874.0,1361.2 L1875.0,1359.7 L1876.0,1358.2 L1877.0,1358.3 L1878.0,1356.6 L1879.0,1355.5 L1880.0,1353.4 L1881.0,1352.0 L1882.0,1353.8 L1882.0,1353.9 L1883.0,1357.3 L1884.0,1355.7 L1885.0,1354.1 L1886.0,1354.7 L1887.0,1356.0 L1888.0,1356.2 L1889.0,1358.5 L1890.0,1359.9 L1890.5,1358.4 L1891.0,1356.6 L1892.0,1355.9 L1893.0,1357.1 L1894.0,1356.5 L1895.0,1354.2 L1896.0,1353.0 L1897.0,1350.6 L1898.0,1348.7 L1898.5,1347.5 L1899.0,1347.3 L1900.0,1347.2 L1901.0,1349.3 L1902.0,1350.2 L1903.0,1350.5 L1904.0,1354.1 L1905.0,1356.7 L1906.0,1361.3 L1907.0,1363.7 L1908.0,1364.0 L1909.0,1363.6 L1909.3,1363.4 L1910.0,1361.5 L1911.0,1361.0 L1912.0,1359.4 L1913.0,1358.7 L1914.0,1361.6 L1915.0,1361.4 L1916.0,1359.7 L1916.9,1359.5 L1917.0,1359.7 L1918.0,1360.7 L1919.0,1363.0 L1920.0,1364.8 L1921.0,1366.0 L1922.0,1367.9 L1923.0,1368.2 L1924.0,1368.1 L1925.0,1370.6 L1926.0,1374.2 L1927.0,1373.8 L1928.0,1372.0 L1928.0,1371.8 L1929.0,1371.8 L1930.0,1373.2 L1931.0,1372.8 L1932.0,1371.7 L1933.0,1372.1 L1934.0,1369.9 L1935.0,1367.7 L1936.0,1367.5 L1937.0,1367.4 L1938.0,1367.8 L1939.0,1367.8 L1940.0,1366.6 L1941.0,1366.1 L1941.6,1366.7 L1942.0,1367.1 L1943.0,1365.6 L1944.0,1363.0 L1945.0,1363.1 L1946.0,1362.6 L1947.0,1361.7 L1948.0,1360.3 L1949.0,1360.4 L1950.0,1357.4 L1951.0,1354.4 L1952.0,1354.5 L1953.0,1355.6 L1954.0,1354.0 L1955.0,1353.9 L1955.2,1354.7 L1956.0,1360.6 L1957.0,1363.4 L1958.0,1363.1 L1959.0,1362.4 L1960.0,1362.8 L1961.0,1363.5 L1962.0,1365.2 L1963.0,1370.4 L1964.0,1375.2 L1965.0,1376.6 L1966.0,1376.0 L1966.2,1376.4 L1967.0,1374.4 L1968.0,1371.1 L1969.0,1369.2 L1970.0,1367.9 L1971.0,1366.7 L1972.0,1366.7 L1972.2,1366.1 L1973.0,1366.2 L1974.0,1366.3 L1975.0,1367.3 L1976.0,1369.3 L1977.0,1369.4 L1978.0,1370.0 L1979.0,1370.8 L1980.0,1373.3 L1981.0,1376.0 L1981.5,1376.1 L1982.0,1375.0 L1983.0,1374.3 L1984.0,1372.6 L1985.0,1368.9 L1986.0,1365.9 L1987.0,1366.1 L1988.0,1366.0 L1989.0,1363.2 L1990.0,1360.6 L1991.0,1357.4 L1992.0,1356.2 L1992.6,1355.8 L1993.0,1356.4 L1994.0,1356.5 L1995.0,1358.4 L1996.0,1358.7 L1997.0,1360.2 L1998.0,1361.9 L1999.0,1363.2 L2000.0,1363.0 L2001.0,1362.3 L2001.1,1362.2 L2002.0,1359.8 L2003.0,1359.8 L2004.0,1362.2 L2005.0,1362.6 L2006.0,1358.7 L2007.0,1356.8 L2007.9,1354.3 L2008.0,1354.2 L2009.0,1358.1 L2010.0,1362.1 L2011.0,1364.9 L2012.0,1365.4 L2013.0,1367.7 L2014.0,1367.8 L2015.0,1367.1 L2016.0,1370.4 L2016.4,1371.7 L2017.0,1373.5 L2018.0,1376.8 L2019.0,1379.6 L2020.0,1380.9 L2021.0,1382.2 L2022.0,1383.6 L2023.0,1384.6 L2023.2,1385.3 L2024.0,1385.2 L2025.0,1384.5 L2026.0,1384.0 L2027.0,1382.4 L2028.0,1380.1 L2029.0,1375.9 L2030.0,1372.3 L2031.0,1371.7 L2032.0,1370.7 L2033.0,1367.6 L2034.0,1364.9 L2035.0,1363.9 L2035.1,1363.8 L2036.0,1364.3 L2037.0,1363.5 L2038.0,1364.5 L2039.0,1367.9 L2040.0,1367.2 L2041.0,1364.4 L2042.0,1363.3 L2043.0,1364.1 L2044.0,1364.1 L2045.0,1362.7 L2046.0,1360.6 L2047.0,1359.4 L2048.0,1361.2 L2048.7,1360.6 L2049.0,1360.4 L2050.0,1357.5 L2051.0,1360.5 L2052.0,1360.8 L2053.0,1358.1 L2054.0,1357.1 L2055.0,1358.5 L2056.0,1357.4 L2057.0,1353.8 L2058.0,1351.5 L2058.9,1353.4 L2059.0,1353.6 L2060.0,1355.6 L2061.0,1355.9 L2062.0,1355.4 L2063.0,1354.7 L2064.0,1352.8 L2065.0,1354.2 L2066.0,1356.0 L2067.0,1354.7 L2068.0,1355.5 L2069.0,1354.7 L2070.0,1352.2 L2070.0,1352.1 L2071.0,1353.4 L2072.0,1357.9 L2073.0,1360.0 L2074.0,1359.2 L2075.0,1359.7 L2076.0,1359.2 L2077.0,1358.4 L2078.0,1359.2 L2079.0,1358.5 L2080.0,1359.3 L2081.0,1362.4 L2082.0,1365.3 L2082.7,1364.5 L2083.0,1364.0 L2084.0,1360.8 L2085.0,1362.2 L2086.0,1365.2 L2087.0,1365.2 L2088.0,1364.2 L2089.0,1364.2 L2090.0,1364.5 L2091.0,1364.6 L2092.0,1363.0 L2093.0,1363.0 L2094.0,1364.3 L2095.0,1365.9 L2096.0,1364.9 L2097.0,1361.9 L2098.0,1360.8 L2099.0,1361.7 L2100.0,1364.8 L2101.0,1364.1 L2102.0,1362.0 L2103.0,1363.2 L2103.1,1363.3 L2104.0,1363.6 L2105.0,1362.5 L2106.0,1360.5 L2107.0,1360.3 L2108.0,1362.4 L2109.0,1360.7 L2110.0,1359.0 L2111.0,1356.9 L2112.0,1357.2 L2113.0,1360.4 L2114.0,1361.7 L2115.0,1361.6 L2116.0,1362.5 L2117.0,1361.1 L2118.0,1361.5 L2119.0,1363.1 L2120.0,1361.1 L2121.0,1359.8 L2122.0,1356.6 L2123.0,1355.0 L2124.0,1356.8 L2125.0,1358.2 L2125.2,1358.6 L2126.0,1360.7 L2127.0,1364.0 L2128.0,1366.5 L2129.0,1367.5 L2130.0,1368.2 L2131.0,1368.3 L2132.0,1367.9 L2133.0,1367.0 L2134.0,1366.6 L2135.0,1367.0 L2136.0,1367.9 L2137.0,1371.0 L2138.0,1370.4 L2138.0,1370.4 L2139.0,1368.8 L2140.0,1368.9 L2141.0,1368.1 L2142.0,1368.5 L2143.0,1370.3 L2144.0,1372.7 L2145.0,1368.3 L2146.0,1365.3 L2147.0,1367.8 L2148.0,1368.6 L2149.0,1365.6 L2150.0,1361.9 L2150.7,1359.9 L2151.0,1360.0 L2152.0,1361.9 L2153.0,1364.2 L2154.0,1365.0 L2155.0,1367.0 L2156.0,1369.5 L2156.7,1370.3 L2157.0,1369.7 L2158.0,1368.6 L2159.0,1368.8 L2160.0,1369.7 L2161.0,1369.9 L2162.0,1370.0 L2163.0,1368.4 L2164.0,1366.1 L2165.0,1365.9 L2166.0,1367.1 L2167.0,1365.1 L2168.0,1362.7 L2169.0,1362.5 L2170.0,1360.8 L2171.0,1359.9 L2172.0,1358.7 L2173.0,1358.5 L2174.0,1356.5 L2175.0,1355.8 L2176.0,1353.9 L2176.3,1353.8 L2177.0,1355.3 L2178.0,1359.4 L2179.0,1360.9 L2180.0,1361.7 L2181.0,1363.4 L2182.0,1365.5 L2183.0,1368.9 L2184.0,1371.5 L2185.0,1372.6 L2185.5,1371.4 L2186.0,1368.6 L2187.0,1365.1 L2188.0,1363.6 L2189.0,1361.3 L2190.0,1358.1 L2191.0,1355.6 L2192.0,1355.5 L2193.0,1355.5 L2194.0,1352.5 L2195.0,1349.5 L2196.0,1348.5 L2196.2,1347.7 L2197.0,1347.6 L2198.0,1349.3 L2199.0,1353.6 L2200.0,1353.7 L2201.0,1351.9 L2202.0,1351.5 L2203.0,1352.1 L2204.0,1353.8 L2205.0,1355.5 L2206.0,1358.1 L2207.0,1360.7 L2208.0,1361.5 L2209.0,1363.0 L2209.3,1363.8 L2210.0,1366.0 L2211.0,1367.7 L2212.0,1367.7 L2213.0,1371.0 L2214.0,1372.5 L2215.0,1373.9 L2216.0,1373.6 L2217.0,1374.6 L2217.0,1374.5 L2218.0,1374.6 L2219.0,1373.5 L2220.0,1372.4 L2221.0,1369.6 L2222.0,1369.1 L2223.0,1369.0 L2224.0,1366.5 L2225.0,1362.8 L2226.0,1359.4 L2227.0,1359.5 L2228.0,1360.0 L2228.0,1359.9 L2229.0,1360.0 L2230.0,1357.2 L2231.0,1355.8 L2232.0,1356.8 L2233.0,1358.0 L2234.0,1357.7 L2235.0,1357.7 L2236.0,1358.6 L2237.0,1358.8 L2238.0,1358.0 L2238.2,1358.2 L2239.0,1358.7 L2240.0,1358.4 L2241.0,1359.0 L2242.0,1356.7 L2243.0,1353.2 L2244.0,1351.1 L2245.0,1350.7 L2246.0,1349.9 L2247.0,1348.7 L2248.0,1346.3 L2249.0,1344.5 L2250.0,1346.4 L2251.0,1345.5 L2252.0,1342.8 L2252.7,1342.4 L2253.0,1342.8 L2254.0,1345.8 L2255.0,1348.4 L2256.0,1352.6 L2257.0,1354.8 L2258.0,1354.1 L2259.0,1355.6 L2260.0,1358.4 L2261.0,1362.3 L2262.0,1363.9 L2263.0,1365.3 L2263.7,1364.9 L2264.0,1364.2 L2265.0,1361.3 L2266.0,1360.5 L2267.0,1359.4 L2268.0,1356.9 L2269.0,1354.7 L2270.0,1354.5 L2271.0,1355.4 L2272.0,1353.9 L2273.0,1354.1 L2274.0,1355.5 L2275.0,1356.1 L2276.0,1355.5 L2277.0,1354.9 L2278.0,1352.4 L2279.0,1349.7 L2280.0,1349.0 L2280.7,1349.7 L2281.0,1350.3 L2282.0,1351.6 L2283.0,1352.9 L2284.0,1352.9 L2285.0,1353.9 L2286.0,1355.7 L2287.0,1359.0 L2288.0,1360.7 L2289.0,1359.9 L2290.0,1361.1 L2291.0,1362.3 L2292.0,1363.8 L2292.7,1363.5 L2293.0,1363.9 L2294.0,1364.2 L2295.0,1364.1 L2296.0,1364.3 L2297.0,1365.0 L2298.0,1366.4 L2299.0,1369.5 L2300.0,1372.4 L2300.3,1373.4 L2301.0,1373.5 L2302.0,1373.4 L2303.0,1373.7 L2304.0,1370.5 L2305.0,1365.7 L2306.0,1363.6 L2307.0,1366.4 L2308.0,1366.7 L2309.0,1365.6 L2310.0,1363.4 L2311.0,1362.3 L2312.0,1362.8 L2313.0,1362.5 L2313.1,1362.3 L2314.0,1359.8 L2315.0,1361.0 L2316.0,1360.9 L2317.0,1362.3 L2318.0,1363.5 L2319.0,1363.2 L2320.0,1365.4 L2321.0,1366.2 L2322.0,1366.2 L2323.0,1367.8 L2323.3,1367.5 L2324.0,1365.9 L2325.0,1365.4 L2326.0,1363.2 L2327.0,1360.4 L2328.0,1358.7 L2329.0,1358.6 L2330.0,1360.0 L2331.0,1360.4 L2332.0,1357.8 L2333.0,1355.8 L2333.5,1356.1 L2334.0,1357.6 L2335.0,1359.1 L2336.0,1359.6 L2337.0,1359.3 L2338.0,1360.0 L2339.0,1363.1 L2340.0,1366.0 L2341.0,1367.2 L2342.0,1369.0 L2343.0,1368.5 L2344.0,1370.1 L2344.5,1371.3 L2345.0,1371.5 L2346.0,1372.5 L2347.0,1371.9 L2348.0,1369.2 L2349.0,1367.1 L2350.0,1366.4 L2351.0,1365.6 L2351.3,1365.3 L2352.0,1364.9 L2353.0,1365.4 L2354.0,1363.9 L2355.0,1363.0 L2356.0,1364.0 L2357.0,1364.4 L2358.0,1364.2 L2359.0,1363.9 L2360.0,1363.0 L2361.0,1362.5 L2362.0,1362.8 L2363.0,1359.8 L2364.0,1358.3 L2365.0,1358.6 L2366.0,1356.4 L2366.6,1356.1 L2367.0,1356.0 L2368.0,1356.7 L2369.0,1356.4 L2370.0,1355.9 L2371.0,1355.8 L2372.0,1357.0 L2373.0,1356.4 L2374.0,1353.1 L2375.0,1351.5 L2376.0,1352.1 L2377.0,1351.5 L2378.0,1352.1 L2379.0,1353.0 L2380.0,1354.1 L2381.0,1352.2 L2382.0,1351.0 L2383.0,1350.2 L2384.0,1350.1 L2384.5,1350.5 L2385.0,1351.3 L2386.0,1353.2 L2387.0,1354.2 L2388.0,1353.6 L2389.0,1353.3 L2390.0,1352.0 L2391.0,1353.6 L2392.0,1356.4 L2393.0,1356.9 L2394.0,1356.7 L2395.0,1356.5 L2396.0,1357.4 L2397.0,1358.5 L2398.0,1359.5 L2399.0,1359.1 L2399.8,1357.6 L2400.0,1357.6 L2401.0,1360.8 L2402.0,1363.7 L2403.0,1363.9 L2404.0,1366.4 L2405.0,1368.7 L2406.0,1369.7 L2406.6,1371.6 L2407.0,1372.7 L2408.0,1376.0 L2409.0,1377.7 L2410.0,1378.5 L2411.0,1379.7 L2412.0,1382.7 L2412.6,1382.9 L2413.0,1381.6 L2414.0,1380.1 L2415.0,1379.4 L2416.0,1376.1 L2417.0,1373.0 L2418.0,1371.7 L2419.0,1368.6 L2420.0,1366.3 L2421.0,1367.2 L2422.0,1369.5 L2423.0,1366.7 L2424.0,1364.6 L2424.5,1363.5 L2425.0,1362.8 L2426.0,1361.3 L2427.0,1360.7 L2428.0,1360.1 L2429.0,1358.1 L2430.0,1355.5 L2431.0,1356.3 L2432.0,1356.7 L2433.0,1355.5 L2434.0,1356.3 L2435.0,1355.7 L2435.5,1354.9 L2436.0,1354.2 L2437.0,1355.0 L2438.0,1354.9 L2439.0,1354.3 L2440.0,1354.0 L2441.0,1355.0 L2442.0,1354.3 L2443.0,1353.7 L2444.0,1353.0 L2445.0,1352.7 L2446.0,1350.7 L2447.0,1350.5 L2448.0,1352.6 L2448.3,1353.0 L2449.0,1354.9 L2450.0,1358.1 L2451.0,1357.5 L2452.0,1356.1 L2453.0,1356.3 L2454.0,1357.5 L2455.0,1359.3 L2456.0,1361.0 L2457.0,1359.4 L2458.0,1361.6 L2459.0,1365.0 L2459.3,1364.5 L2460.0,1362.2 L2461.0,1358.4 L2462.0,1358.9 L2463.0,1359.0 L2464.0,1356.3 L2465.0,1356.4 L2466.0,1357.4 L2467.0,1354.4 L2467.8,1353.0 L2468.0,1353.2 L2469.0,1355.7 L2470.0,1358.5 L2471.0,1361.9 L2472.0,1365.3 L2473.0,1367.2 L2474.0,1367.0 L2475.0,1367.5 L2476.0,1368.6 L2477.0,1369.1 L2478.0,1370.5 L2478.0,1370.6 L2479.0,1370.3 L2480.0,1370.6 L2481.0,1368.9 L2482.0,1366.5 L2483.0,1367.7 L2484.0,1367.1 L2485.0,1364.1 L2486.0,1362.9 L2487.0,1362.1 L2488.0,1357.7 L2488.2,1356.7 L2489.0,1355.4 L2490.0,1357.6 L2491.0,1359.2 L2492.0,1361.8 L2493.0,1363.3 L2494.0,1361.8 L2495.0,1361.6 L2496.0,1363.0 L2497.0,1362.5 L2498.0,1364.3 L2499.0,1366.1 L2500.0,1367.9 L2500.1,1368.5 L2501.0,1370.1 L2502.0,1370.3 L2503.0,1365.9 L2504.0,1364.0 L2505.0,1366.1 L2506.0,1363.5 L2507.0,1359.5 L2508.0,1358.5 L2509.0,1357.8 L2510.0,1355.6 L2511.0,1353.1 L2512.0,1352.0 L2512.0,1352.0 L2513.0,1353.4 L2514.0,1353.4 L2515.0,1353.1 L2516.0,1354.7 L2517.0,1355.2 L2518.0,1355.1 L2519.0,1358.1 L2520.0,1358.8 L2521.0,1359.8 L2522.0,1359.1 L2523.0,1361.7 L2524.0,1364.8 L2525.0,1366.6 L2525.6,1366.8 L2526.0,1366.6 L2527.0,1364.0 L2528.0,1364.1 L2529.0,1367.2 L2530.0,1366.9 L2531.0,1364.3 L2532.0,1362.2 L2533.0,1363.1 L2534.0,1364.0 L2535.0,1364.6 L2536.0,1365.4 L2537.0,1363.4 L2537.6,1362.8 L2538.0,1362.0 L2539.0,1361.9 L2540.0,1364.2 L2541.0,1366.1 L2542.0,1364.7 L2543.0,1361.5 L2544.0,1360.1 L2545.0,1360.5 L2546.0,1359.5 L2547.0,1359.4 L2548.0,1359.7 L2549.0,1360.5 L2549.5,1360.9 L2550.0,1361.8 L2551.0,1363.2 L2552.0,1362.3 L2553.0,1364.7 L2554.0,1363.7 L2555.0,1360.7 L2555.0,1360.6 L2556.0,1358.0 L2557.0,1357.9 L2558.0,1356.7 L2559.0,1353.1 L2560.0,1351.9 L2560.7,1351.8 L2561.0,1352.1 L2562.0,1350.2 L2563.0,1347.8 L2564.0,1347.0 L2565.0,1346.9 L2565.8,1345.5 L2566.0,1345.4 L2567.0,1344.5 L2568.0,1344.8 L2569.0,1345.2 L2570.0,1344.2 L2571.0,1343.2 L2572.0,1344.9 L2573.0,1346.2 L2573.5,1345.8 L2574.0,1346.6 L2575.0,1350.8 L2576.0,1354.4 L2577.0,1357.2 L2577.9,1359.7 L2578.0,1359.9 L2579.0,1362.3 L2580.0,1362.1 L2581.0,1362.5 L2581.1,1362.6 L2582.0,1361.1 L2583.0,1359.2 L2584.0,1361.3 L2585.0,1363.0 L2586.0,1360.7 L2586.2,1359.8 L2587.0,1357.9 L2588.0,1357.9 L2589.0,1361.4 L2590.0,1363.7 L2591.0,1364.4 L2592.0,1364.5 L2592.9,1365.2 L2594.5,1365.2" fill="none" stroke="#228833" stroke-opacity="0.8" stroke-width="12.5" stroke-linejoin="round" stroke-linecap="butt" clip-path="url(#ax)"/>
<rect x="268.5" y="145.5" width="2325" height="1406" fill="none" stroke="#000" stroke-width="3.2"/>
<path d="M258.0,361.0 L268.5,362.0 L272.1,378.6 L275.9,368.3 L277.9,374.0 L282.6,354.7 L287.4,357.1 L289.7,381.5 L300.2,353.5 L305.9,379.2 L309.1,367.6 L311.0,374.6 L314.2,365.1 L317.1,372.7 L319.9,355.7 L323.8,376.4 L327.6,366.4 L331.4,381.5 L339.1,365.3 L342.3,387.4 L344.3,430.0 L346.9,540.0 L350.4,740.0 L356.1,1060.0 L358.1,1128.0 L360.3,1151.8 L362.0,1157.4 L362.9,1160.3 L363.0,1159.3 L364.0,1150.7 L365.0,1142.5 L366.0,1133.7 L367.0,1124.9 L367.5,1120.8 L368.0,1127.6 L369.0,1140.5 L370.0,1152.0 L370.5,1158.6 L371.0,1156.6 L372.0,1152.7 L373.0,1148.9 L374.0,1145.2 L374.3,1144.4 L375.0,1150.3 L376.0,1158.5 L377.0,1166.5 L378.0,1173.4 L379.0,1182.6 L379.0,1183.1 L380.0,1182.7 L381.0,1179.0 L382.0,1172.2 L383.0,1169.4 L384.0,1167.1 L385.0,1164.0 L386.0,1164.2 L386.2,1163.8 L387.0,1166.2 L388.0,1165.3 L389.0,1168.1 L390.0,1173.6 L391.0,1175.2 L392.0,1173.2 L393.0,1174.1 L394.0,1177.3 L395.0,1179.3 L395.2,1180.0 L396.0,1178.4 L397.0,1178.3 L398.0,1174.2 L399.0,1168.7 L400.0,1165.9 L401.0,1162.3 L402.0,1161.1 L403.0,1159.0 L403.7,1156.4 L404.0,1156.8 L405.0,1159.1 L406.0,1161.8 L407.0,1162.3 L408.0,1162.2 L409.0,1162.9 L410.0,1163.8 L411.0,1162.1 L411.4,1161.9 L412.0,1156.8 L413.0,1151.5 L414.0,1145.5 L415.0,1141.0 L416.0,1136.9 L417.0,1130.4 L417.3,1128.7 L418.0,1129.5 L419.0,1130.9 L420.0,1131.2 L421.0,1134.0 L421.6,1134.8 L422.0,1136.6 L423.0,1140.0 L424.0,1142.9 L425.0,1145.5 L426.0,1151.9 L427.0,1153.8 L428.0,1155.6 L429.0,1160.3 L429.2,1161.2 L430.0,1160.1 L431.0,1159.9 L432.0,1158.1 L433.0,1154.1 L434.0,1152.7 L435.0,1150.5 L436.0,1148.5 L437.0,1146.7 L438.0,1145.1 L439.0,1143.8 L439.4,1142.9 L440.0,1146.4 L441.0,1151.7 L442.0,1156.9 L442.8,1162.4 L443.0,1162.4 L444.0,1160.4 L445.0,1158.2 L446.0,1157.8 L447.0,1157.5 L448.0,1158.2 L448.8,1157.0 L449.0,1157.7 L450.0,1160.8 L451.0,1164.7 L452.0,1167.6 L453.0,1172.0 L454.0,1176.5 L455.0,1177.5 L456.0,1180.3 L457.0,1185.2 L457.6,1188.3 L458.0,1187.5 L459.0,1183.6 L460.0,1179.0 L461.0,1177.0 L462.0,1176.6 L463.0,1172.6 L464.0,1167.9 L465.0,1166.5 L466.0,1167.3 L466.6,1163.6 L467.0,1162.5 L468.0,1157.4 L469.0,1156.8 L470.0,1157.1 L471.0,1156.2 L472.0,1156.9 L472.6,1156.8 L473.0,1158.1 L474.0,1159.3 L475.0,1162.0 L475.1,1162.5 L476.0,1161.7 L477.0,1161.8 L478.0,1161.2 L479.0,1158.4 L480.0,1155.1 L480.2,1155.0 L481.0,1156.9 L482.0,1159.0 L483.0,1162.9 L484.0,1164.8 L484.8,1165.9 L485.0,1164.0 L486.0,1151.6 L487.0,1139.9 L487.0,1139.5 L488.0,1137.3 L489.0,1135.2 L490.0,1132.9 L491.0,1127.8 L492.0,1125.0 L493.0,1122.7 L494.0,1121.5 L495.0,1118.9 L496.0,1118.2 L497.0,1113.8 L497.8,1110.4 L498.0,1111.8 L499.0,1120.0 L500.0,1126.9 L501.0,1134.5 L502.0,1142.0 L503.0,1147.4 L504.0,1155.3 L505.0,1165.0 L505.7,1171.4 L506.0,1170.9 L507.0,1166.9 L508.0,1164.2 L509.0,1163.2 L510.0,1160.6 L511.0,1156.3 L512.0,1150.0 L512.6,1147.5 L513.0,1148.0 L514.0,1153.9 L515.0,1156.6 L516.0,1156.2 L517.0,1159.2 L518.0,1162.4 L519.0,1164.2 L520.0,1165.1 L520.2,1165.5 L521.0,1163.5 L522.0,1160.7 L523.0,1157.5 L524.0,1157.6 L525.0,1155.7 L526.0,1153.0 L526.2,1152.3 L527.0,1155.1 L528.0,1160.1 L529.0,1169.5 L529.0,1169.7 L530.0,1169.8 L531.0,1165.6 L532.0,1165.4 L533.0,1167.1 L534.0,1166.9 L535.0,1166.6 L536.0,1163.7 L537.0,1162.1 L538.0,1161.4 L538.9,1159.9 L539.0,1158.7 L540.0,1149.5 L540.3,1147.1 L541.0,1149.3 L542.0,1147.3 L543.0,1145.0 L544.0,1146.7 L545.0,1147.4 L545.7,1144.8 L546.0,1145.7 L547.0,1147.4 L547.8,1151.1 L548.0,1150.6 L549.0,1150.9 L550.0,1151.7 L551.0,1152.8 L552.0,1151.7 L553.0,1151.2 L554.0,1151.5 L555.0,1150.6 L555.9,1151.6 L556.0,1151.9 L557.0,1157.0 L558.0,1159.0 L559.0,1161.3 L559.3,1161.9 L560.0,1160.2 L561.0,1157.1 L562.0,1152.8 L563.0,1150.3 L564.0,1147.9 L565.0,1144.7 L566.0,1142.2 L567.0,1139.9 L567.0,1140.0 L568.0,1144.1 L569.0,1148.3 L569.2,1149.1 L570.0,1147.5 L571.0,1147.1 L572.0,1145.4 L573.0,1143.1 L574.0,1141.3 L575.0,1140.0 L576.0,1138.7 L576.3,1138.0 L577.0,1134.9 L578.0,1128.6 L579.0,1125.8 L580.0,1121.7 L581.0,1116.9 L582.0,1113.3 L582.6,1111.4 L583.0,1112.4 L584.0,1112.2 L585.0,1114.6 L586.0,1117.9 L587.0,1121.5 L588.0,1124.6 L589.0,1125.7 L589.9,1126.6 L590.0,1127.2 L591.0,1135.0 L592.0,1144.9 L593.0,1155.1 L593.3,1158.3 L594.0,1156.1 L595.0,1154.4 L596.0,1152.0 L597.0,1149.0 L598.0,1146.2 L598.4,1144.3 L599.0,1144.7 L600.0,1143.6 L601.0,1145.1 L602.0,1147.9 L603.0,1149.1 L604.0,1153.3 L605.0,1155.1 L605.2,1156.0 L606.0,1165.0 L607.0,1176.3 L608.0,1186.1 L609.0,1196.4 L609.5,1200.6 L610.0,1196.1 L611.0,1190.4 L612.0,1183.9 L613.0,1177.1 L614.0,1170.4 L615.0,1160.9 L616.0,1150.7 L617.0,1144.9 L618.0,1138.2 L619.0,1130.6 L620.0,1124.2 L621.0,1118.7 L622.0,1111.4 L623.0,1101.7 L623.1,1100.8 L624.0,1107.3 L625.0,1117.9 L626.0,1127.7 L627.0,1134.5 L628.0,1142.3 L628.2,1144.3 L629.0,1144.2 L630.0,1143.9 L631.0,1143.8 L632.0,1142.6 L633.0,1138.9 L634.0,1138.9 L634.1,1138.9 L635.0,1145.5 L636.0,1152.8 L637.0,1161.0 L638.0,1169.4 L638.4,1172.1 L639.0,1169.0 L640.0,1163.2 L641.0,1158.2 L642.0,1152.7 L643.0,1147.0 L644.0,1141.2 L645.0,1133.2 L646.0,1129.9 L647.0,1129.5 L648.0,1125.0 L649.0,1119.5 L649.9,1114.4 L650.0,1114.5 L651.0,1113.9 L652.0,1117.4 L653.0,1117.7 L654.0,1119.5 L655.0,1122.9 L656.0,1123.6 L657.0,1125.9 L658.0,1126.6 L658.7,1124.6 L659.0,1125.8 L660.0,1132.2 L661.0,1141.4 L662.0,1150.0 L662.1,1150.8 L663.0,1144.3 L664.0,1137.6 L665.0,1134.9 L666.0,1128.3 L666.7,1121.8 L667.0,1123.1 L668.0,1130.9 L669.0,1139.3 L670.0,1147.9 L670.3,1150.3 L671.0,1146.6 L672.0,1140.5 L673.0,1135.7 L674.0,1129.0 L675.0,1120.2 L676.0,1111.4 L677.0,1104.3 L677.8,1099.0 L678.0,1100.9 L679.0,1108.4 L680.0,1115.5 L681.0,1124.9 L682.0,1135.0 L682.5,1141.0 L683.0,1138.2 L684.0,1133.0 L685.0,1124.7 L685.6,1118.2 L686.0,1119.7 L687.0,1124.3 L688.0,1129.2 L689.0,1135.0 L690.0,1143.5 L690.7,1148.8 L691.0,1147.8 L692.0,1143.6 L693.0,1138.7 L694.0,1133.9 L695.0,1128.8 L696.0,1124.1 L696.5,1121.7 L697.0,1125.9 L698.0,1134.8 L699.0,1142.4 L699.0,1142.5 L700.0,1138.6 L701.0,1135.1 L702.0,1134.9 L703.0,1134.7 L703.8,1134.5 L704.0,1136.0 L705.0,1139.7 L706.0,1142.3 L707.0,1147.6 L708.0,1153.9 L708.0,1154.0 L709.0,1147.7 L710.0,1142.1 L711.0,1139.6 L711.4,1137.9 L712.0,1140.1 L713.0,1143.0 L714.0,1146.9 L715.0,1150.8 L715.2,1151.5 L716.0,1151.4 L717.0,1148.1 L718.0,1146.8 L719.0,1145.0 L719.6,1143.4 L720.0,1145.8 L721.0,1151.0 L722.0,1158.1 L723.0,1166.6 L724.0,1172.0 L724.5,1175.0 L725.0,1173.0 L726.0,1172.3 L727.0,1170.9 L728.0,1166.2 L729.0,1161.2 L730.0,1158.1 L731.0,1154.1 L731.8,1154.0 L732.0,1152.6 L733.0,1143.0 L734.0,1130.9 L735.0,1119.3 L736.0,1107.3 L736.1,1106.2 L737.0,1109.3 L738.0,1113.8 L739.0,1120.0 L740.0,1126.5 L741.0,1132.7 L742.0,1136.1 L742.0,1136.4 L743.0,1141.7 L744.0,1144.6 L745.0,1146.8 L746.0,1149.5 L747.0,1151.3 L747.1,1151.8 L748.0,1147.9 L749.0,1147.6 L750.0,1145.2 L750.9,1141.9 L751.0,1142.3 L752.0,1145.7 L753.0,1149.4 L754.0,1152.0 L755.0,1153.9 L756.0,1152.1 L757.0,1154.2 L757.3,1156.0 L758.0,1157.1 L759.0,1159.4 L760.0,1159.4 L761.0,1158.3 L762.0,1158.3 L763.0,1158.7 L764.0,1158.0 L765.0,1158.0 L765.9,1157.0 L766.0,1157.1 L767.0,1159.0 L768.0,1160.1 L769.0,1161.4 L770.0,1160.8 L770.6,1161.7 L771.0,1161.1 L772.0,1160.7 L773.0,1160.3 L774.0,1157.3 L775.0,1156.6 L776.0,1155.0 L777.0,1152.4 L777.8,1150.5 L778.0,1150.7 L779.0,1154.1 L780.0,1156.6 L781.0,1155.1 L782.0,1154.5 L783.0,1153.7 L784.0,1153.5 L785.0,1156.1 L786.0,1159.5 L786.3,1159.5 L787.0,1161.6 L788.0,1163.8 L789.0,1170.5 L790.0,1176.0 L791.0,1180.9 L791.7,1183.8 L792.0,1182.9 L793.0,1181.1 L794.0,1175.5 L795.0,1171.3 L796.0,1166.3 L797.0,1162.6 L798.0,1159.2 L799.0,1157.8 L800.0,1154.7 L801.0,1151.7 L802.0,1146.5 L802.1,1146.1 L803.0,1152.7 L804.0,1163.0 L804.1,1164.3 L805.0,1168.3 L806.0,1173.8 L807.0,1177.5 L808.0,1177.3 L809.0,1179.1 L810.0,1180.9 L811.0,1179.9 L811.4,1180.7 L812.0,1179.2 L813.0,1178.2 L814.0,1175.6 L815.0,1171.5 L816.0,1167.0 L817.0,1164.1 L818.0,1161.2 L819.0,1157.8 L820.0,1157.5 L821.0,1158.0 L822.0,1154.8 L822.0,1154.9 L823.0,1157.3 L824.0,1160.0 L824.9,1164.5 L825.0,1164.5 L826.0,1164.8 L827.0,1163.5 L828.0,1161.5 L829.0,1159.8 L830.0,1159.5 L830.1,1159.4 L831.0,1165.6 L832.0,1171.7 L833.0,1177.9 L834.0,1183.2 L835.0,1186.7 L835.1,1187.1 L836.0,1183.8 L837.0,1181.4 L838.0,1178.7 L839.0,1177.0 L840.0,1175.0 L841.0,1174.0 L842.0,1171.4 L843.0,1171.1 L844.0,1170.1 L844.1,1169.7 L845.0,1159.6 L846.0,1150.7 L847.0,1142.2 L847.5,1138.3 L848.0,1141.1 L849.0,1148.3 L850.0,1154.5 L850.9,1158.6 L851.0,1157.9 L852.0,1152.4 L853.0,1147.1 L854.0,1140.0 L855.0,1133.2 L855.1,1132.6 L856.0,1133.8 L857.0,1131.7 L858.0,1130.2 L859.0,1129.8 L860.0,1130.1 L861.0,1130.7 L862.0,1131.4 L863.0,1128.2 L864.0,1128.6 L864.1,1128.7 L865.0,1136.4 L866.0,1143.0 L867.0,1152.5 L867.9,1160.4 L868.0,1159.8 L869.0,1152.4 L870.0,1145.6 L871.0,1139.3 L871.6,1135.2 L872.0,1137.0 L873.0,1141.8 L874.0,1145.6 L875.0,1151.2 L876.0,1156.2 L877.0,1160.7 L878.0,1165.9 L879.0,1172.4 L880.0,1177.7 L880.1,1178.5 L881.0,1161.8 L882.0,1140.8 L882.3,1133.3 L883.0,1135.4 L884.0,1138.2 L885.0,1142.7 L885.7,1147.2 L886.0,1146.2 L887.0,1141.5 L888.0,1137.8 L889.0,1134.5 L890.0,1129.0 L890.3,1127.0 L891.0,1127.3 L892.0,1131.2 L893.0,1132.2 L894.0,1128.7 L895.0,1126.2 L896.0,1128.1 L897.0,1131.4 L898.0,1132.2 L898.5,1132.2 L899.0,1133.8 L900.0,1136.7 L901.0,1143.6 L902.0,1149.0 L902.8,1150.6 L903.0,1152.7 L904.0,1163.1 L905.0,1172.9 L906.0,1182.2 L906.2,1184.1 L907.0,1182.2 L908.0,1177.9 L909.0,1171.3 L910.0,1166.6 L911.0,1164.0 L912.0,1161.3 L912.1,1160.9 L913.0,1160.6 L914.0,1159.2 L915.0,1158.2 L916.0,1157.8 L917.0,1156.7 L918.0,1156.8 L918.1,1156.7 L919.0,1162.2 L920.0,1165.7 L921.0,1170.3 L922.0,1177.1 L922.0,1177.1 L923.0,1175.1 L924.0,1174.5 L925.0,1173.1 L926.0,1171.0 L927.0,1171.8 L928.0,1170.5 L929.0,1166.3 L930.0,1162.1 L930.0,1161.3 L931.0,1139.8 L932.0,1121.4 L932.2,1118.7 L933.0,1125.8 L934.0,1132.3 L935.0,1137.7 L936.0,1143.5 L937.0,1149.1 L937.6,1151.4 L938.0,1148.8 L939.0,1141.8 L940.0,1135.6 L941.0,1129.3 L941.9,1123.7 L942.0,1124.0 L943.0,1126.6 L944.0,1128.7 L945.0,1132.5 L946.0,1138.1 L947.0,1141.4 L948.0,1145.3 L949.0,1147.3 L950.0,1152.0 L951.0,1157.0 L952.0,1161.8 L952.1,1161.9 L953.0,1159.1 L954.0,1156.4 L955.0,1151.0 L956.0,1146.9 L957.0,1144.4 L958.0,1144.1 L959.0,1142.5 L960.0,1138.9 L960.6,1137.6 L961.0,1138.1 L962.0,1142.4 L963.0,1144.5 L964.0,1145.2 L965.0,1147.4 L966.0,1149.1 L966.5,1150.3 L967.0,1147.6 L968.0,1141.5 L969.0,1134.1 L970.0,1125.6 L971.0,1118.4 L972.0,1112.2 L973.0,1105.1 L973.0,1105.1 L974.0,1111.1 L975.0,1118.0 L976.0,1124.2 L977.0,1129.4 L977.6,1133.0 L978.0,1130.7 L979.0,1123.6 L980.0,1116.6 L981.0,1110.9 L981.0,1111.2 L982.0,1129.4 L983.0,1148.6 L983.5,1159.6 L984.0,1159.9 L985.0,1157.8 L986.0,1157.9 L987.0,1159.2 L988.0,1157.6 L989.0,1155.8 L990.0,1156.3 L990.3,1156.3 L991.0,1152.1 L992.0,1147.2 L993.0,1143.3 L994.0,1137.7 L994.1,1137.1 L995.0,1137.2 L996.0,1136.9 L997.0,1137.1 L998.0,1139.2 L999.0,1141.3 L1000.0,1141.9 L1001.0,1140.9 L1002.0,1140.7 L1003.0,1141.9 L1003.9,1143.6 L1004.0,1144.0 L1005.0,1151.3 L1006.0,1159.1 L1006.0,1159.1 L1007.0,1157.7 L1008.0,1157.4 L1009.0,1158.3 L1010.0,1154.9 L1011.0,1150.2 L1011.6,1149.2 L1012.0,1151.7 L1013.0,1158.8 L1014.0,1164.8 L1014.1,1165.8 L1015.0,1164.5 L1016.0,1164.1 L1017.0,1161.2 L1018.0,1160.6 L1019.0,1158.5 L1020.0,1155.5 L1020.1,1155.3 L1021.0,1159.9 L1022.0,1164.5 L1023.0,1172.5 L1024.0,1180.4 L1024.7,1184.5 L1025.0,1183.6 L1026.0,1179.6 L1027.0,1173.5 L1028.0,1170.7 L1029.0,1168.6 L1030.0,1167.4 L1031.0,1163.6 L1032.0,1158.8 L1033.0,1155.0 L1034.0,1152.3 L1034.9,1150.2 L1035.0,1150.3 L1036.0,1151.0 L1037.0,1154.3 L1038.0,1156.4 L1039.0,1156.6 L1040.0,1155.7 L1040.4,1156.4 L1041.0,1160.3 L1042.0,1167.0 L1042.4,1169.8 L1043.0,1169.2 L1044.0,1167.8 L1045.0,1164.4 L1046.0,1162.4 L1047.0,1162.3 L1048.0,1160.0 L1049.0,1154.7 L1049.8,1153.1 L1050.0,1153.9 L1051.0,1155.6 L1052.0,1159.2 L1053.0,1163.4 L1054.0,1168.9 L1054.5,1171.8 L1055.0,1171.7 L1056.0,1171.7 L1057.0,1170.3 L1058.0,1167.5 L1059.0,1165.1 L1060.0,1161.7 L1060.8,1160.0 L1061.0,1159.5 L1062.0,1156.5 L1063.0,1152.5 L1064.0,1148.0 L1065.0,1142.7 L1066.0,1140.1 L1067.0,1138.4 L1067.3,1137.7 L1068.0,1138.7 L1069.0,1138.7 L1070.0,1140.3 L1071.0,1144.0 L1072.0,1147.3 L1073.0,1150.0 L1074.0,1150.6 L1075.0,1148.1 L1076.0,1145.7 L1076.1,1145.7 L1077.0,1149.9 L1078.0,1154.1 L1079.0,1160.7 L1080.0,1168.7 L1081.0,1174.9 L1081.2,1176.1 L1082.0,1173.8 L1083.0,1172.2 L1084.0,1168.5 L1085.0,1164.5 L1086.0,1162.3 L1087.0,1162.9 L1088.0,1162.6 L1088.0,1162.5 L1089.0,1154.5 L1090.0,1145.0 L1090.1,1144.3 L1091.0,1144.3 L1092.0,1146.9 L1093.0,1149.8 L1094.0,1150.3 L1095.0,1147.9 L1095.7,1146.5 L1096.0,1146.6 L1097.0,1147.7 L1098.0,1149.1 L1099.0,1152.0 L1100.0,1157.4 L1101.0,1160.4 L1102.0,1162.7 L1102.1,1163.2 L1103.0,1162.6 L1104.0,1159.8 L1105.0,1156.6 L1106.0,1156.1 L1107.0,1152.4 L1108.0,1149.0 L1109.0,1148.2 L1110.0,1146.3 L1111.0,1145.7 L1111.8,1147.2 L1112.0,1148.0 L1113.0,1150.0 L1114.0,1151.2 L1115.0,1152.3 L1116.0,1153.1 L1117.0,1154.2 L1118.0,1156.2 L1119.0,1159.4 L1120.0,1157.6 L1120.7,1158.0 L1121.0,1157.0 L1122.0,1154.7 L1123.0,1152.6 L1124.0,1151.5 L1125.0,1151.3 L1126.0,1150.7 L1127.0,1148.4 L1128.0,1144.9 L1128.8,1142.9 L1129.0,1143.3 L1130.0,1148.6 L1131.0,1152.2 L1132.0,1153.6 L1133.0,1154.2 L1133.6,1156.4 L1134.0,1156.1 L1135.0,1155.2 L1136.0,1153.2 L1137.0,1151.0 L1138.0,1148.6 L1139.0,1146.4 L1139.0,1146.4 L1140.0,1132.8 L1141.0,1117.5 L1141.1,1116.0 L1142.0,1112.9 L1143.0,1109.2 L1144.0,1106.9 L1145.0,1105.0 L1145.3,1104.1 L1146.0,1107.6 L1147.0,1114.0 L1148.0,1120.1 L1149.0,1127.1 L1150.0,1132.0 L1150.1,1132.7 L1151.0,1144.3 L1151.8,1156.1 L1152.0,1157.0 L1153.0,1158.5 L1154.0,1159.8 L1155.0,1160.3 L1156.0,1165.3 L1157.0,1169.3 L1157.4,1170.1 L1158.0,1168.4 L1159.0,1165.5 L1160.0,1162.9 L1161.0,1162.7 L1162.0,1160.1 L1163.0,1155.9 L1164.0,1154.1 L1164.6,1153.2 L1165.0,1150.7 L1166.0,1145.7 L1167.0,1138.8 L1168.0,1130.3 L1169.0,1124.5 L1169.3,1122.8 L1170.0,1124.8 L1171.0,1125.2 L1172.0,1127.8 L1173.0,1129.7 L1174.0,1132.5 L1175.0,1134.8 L1175.6,1135.4 L1176.0,1136.4 L1177.0,1138.5 L1178.0,1142.8 L1179.0,1147.6 L1180.0,1150.7 L1180.7,1154.1 L1181.0,1153.4 L1182.0,1151.8 L1183.0,1148.1 L1184.0,1142.1 L1185.0,1135.6 L1186.0,1130.8 L1187.0,1126.2 L1187.5,1123.5 L1188.0,1122.5 L1189.0,1120.5 L1190.0,1119.3 L1191.0,1120.5 L1192.0,1120.5 L1192.6,1120.9 L1193.0,1123.0 L1194.0,1128.2 L1195.0,1132.5 L1196.0,1135.0 L1196.9,1138.1 L1197.0,1137.0 L1198.0,1127.1 L1199.0,1116.5 L1199.9,1108.0 L1200.0,1108.0 L1201.0,1109.7 L1202.0,1111.3 L1203.0,1110.3 L1204.0,1113.5 L1205.0,1115.4 L1206.0,1116.5 L1207.0,1119.1 L1208.0,1122.3 L1208.8,1124.8 L1209.0,1127.6 L1210.0,1140.4 L1211.0,1149.2 L1211.3,1152.0 L1212.0,1145.5 L1213.0,1137.9 L1213.9,1133.0 L1214.0,1134.6 L1215.0,1148.1 L1215.9,1158.0 L1216.0,1157.2 L1217.0,1146.7 L1218.0,1134.3 L1219.0,1124.8 L1219.5,1121.0 L1220.0,1122.4 L1221.0,1125.0 L1222.0,1128.3 L1223.0,1129.8 L1224.0,1127.6 L1225.0,1125.2 L1226.0,1127.4 L1227.0,1130.9 L1228.0,1136.4 L1228.3,1137.8 L1229.0,1143.5 L1230.0,1148.5 L1231.0,1153.8 L1232.0,1157.8 L1232.6,1160.5 L1233.0,1158.6 L1234.0,1154.0 L1235.0,1150.0 L1236.0,1145.5 L1237.0,1143.4 L1238.0,1142.4 L1239.0,1138.0 L1240.0,1132.7 L1241.0,1131.8 L1241.6,1130.7 L1242.0,1131.9 L1243.0,1132.9 L1244.0,1134.7 L1245.0,1135.9 L1246.0,1137.9 L1247.0,1139.5 L1248.0,1140.8 L1249.0,1142.6 L1249.6,1143.7 L1250.0,1147.7 L1251.0,1157.8 L1252.0,1166.5 L1253.0,1176.0 L1253.0,1175.9 L1254.0,1171.9 L1255.0,1167.3 L1256.0,1164.5 L1257.0,1162.8 L1258.0,1159.6 L1259.0,1153.6 L1259.8,1150.2 L1260.0,1151.3 L1261.0,1157.0 L1262.0,1162.7 L1263.0,1171.6 L1264.0,1180.3 L1264.9,1185.5 L1265.0,1185.6 L1266.0,1185.4 L1267.0,1186.8 L1268.0,1188.2 L1269.0,1191.0 L1270.0,1193.8 L1271.0,1195.3 L1272.0,1197.2 L1272.2,1197.3 L1273.0,1175.6 L1274.0,1149.4 L1275.0,1121.1 L1275.1,1118.4 L1276.0,1117.0 L1277.0,1116.7 L1278.0,1117.6 L1279.0,1117.3 L1280.0,1113.5 L1281.0,1110.0 L1282.0,1107.4 L1283.0,1107.6 L1283.6,1107.5 L1284.0,1110.1 L1285.0,1114.0 L1286.0,1115.0 L1287.0,1118.9 L1288.0,1126.1 L1289.0,1130.9 L1289.6,1131.8 L1290.0,1131.4 L1291.0,1133.0 L1292.0,1135.3 L1293.0,1140.4 L1293.8,1144.1 L1294.0,1143.4 L1295.0,1138.3 L1296.0,1132.8 L1297.0,1127.2 L1297.6,1123.6 L1298.0,1123.9 L1299.0,1124.7 L1300.0,1128.4 L1301.0,1130.3 L1302.0,1128.9 L1303.0,1130.0 L1304.0,1133.5 L1305.0,1134.6 L1305.7,1133.5 L1306.0,1133.3 L1307.0,1134.6 L1308.0,1138.2 L1309.0,1141.5 L1309.1,1142.0 L1310.0,1152.8 L1311.0,1164.4 L1312.0,1172.4 L1312.5,1178.1 L1313.0,1177.9 L1314.0,1180.8 L1315.0,1179.8 L1316.0,1179.2 L1317.0,1176.8 L1318.0,1176.7 L1319.0,1175.0 L1320.0,1174.5 L1320.2,1174.6 L1321.0,1169.7 L1322.0,1164.2 L1323.0,1155.8 L1324.0,1148.8 L1325.0,1144.4 L1326.0,1138.9 L1326.1,1137.9 L1327.0,1138.0 L1328.0,1138.7 L1329.0,1140.5 L1330.0,1141.5 L1331.0,1139.7 L1332.0,1140.4 L1333.0,1144.9 L1334.0,1146.1 L1334.6,1145.1 L1335.0,1145.8 L1336.0,1150.3 L1337.0,1153.3 L1338.0,1155.0 L1339.0,1157.1 L1339.4,1158.7 L1340.0,1156.5 L1341.0,1154.3 L1342.0,1152.2 L1343.0,1149.4 L1344.0,1144.0 L1345.0,1141.7 L1346.0,1138.7 L1347.0,1136.7 L1347.4,1136.1 L1348.0,1138.9 L1349.0,1140.9 L1350.0,1143.3 L1351.0,1144.5 L1351.6,1146.6 L1352.0,1146.0 L1353.0,1146.3 L1354.0,1144.9 L1355.0,1141.2 L1356.0,1138.4 L1357.0,1135.8 L1358.0,1132.7 L1358.1,1132.4 L1359.0,1133.8 L1360.0,1131.6 L1361.0,1132.1 L1362.0,1136.1 L1363.0,1140.1 L1364.0,1145.3 L1365.0,1149.0 L1366.0,1151.5 L1367.0,1156.0 L1368.0,1159.4 L1369.0,1161.5 L1369.0,1161.4 L1370.0,1154.3 L1371.0,1148.3 L1372.0,1144.0 L1373.0,1140.1 L1373.7,1135.0 L1374.0,1135.4 L1375.0,1138.9 L1376.0,1143.8 L1377.0,1148.2 L1378.0,1151.8 L1378.0,1151.8 L1379.0,1144.8 L1380.0,1138.3 L1381.0,1131.7 L1381.4,1129.3 L1382.0,1132.8 L1383.0,1140.8 L1384.0,1148.6 L1384.3,1150.8 L1385.0,1147.2 L1386.0,1144.1 L1387.0,1138.3 L1388.0,1134.6 L1389.0,1131.7 L1389.0,1131.3 L1390.0,1128.8 L1391.0,1121.7 L1392.0,1118.0 L1393.0,1116.0 L1394.0,1116.0 L1395.0,1116.5 L1396.0,1117.3 L1396.2,1118.0 L1397.0,1127.8 L1398.0,1136.7 L1398.9,1141.9 L1399.0,1141.4 L1400.0,1138.0 L1401.0,1134.2 L1402.0,1128.8 L1403.0,1124.0 L1404.0,1123.9 L1404.4,1122.6 L1405.0,1125.8 L1406.0,1127.1 L1407.0,1130.1 L1408.0,1134.5 L1409.0,1140.7 L1410.0,1145.8 L1411.0,1150.8 L1412.0,1155.6 L1413.0,1161.6 L1414.0,1169.2 L1415.0,1176.4 L1415.9,1181.7 L1416.0,1181.6 L1417.0,1178.6 L1418.0,1176.3 L1419.0,1173.7 L1420.0,1170.9 L1421.0,1168.8 L1422.0,1168.8 L1423.0,1166.5 L1424.0,1160.6 L1425.0,1157.2 L1425.2,1157.1 L1426.0,1162.1 L1427.0,1166.5 L1428.0,1169.4 L1429.0,1171.2 L1430.0,1174.3 L1431.0,1180.6 L1432.0,1187.5 L1432.3,1188.6 L1433.0,1184.0 L1434.0,1177.2 L1435.0,1169.1 L1436.0,1161.3 L1436.6,1157.2 L1437.0,1157.2 L1438.0,1157.5 L1439.0,1161.3 L1440.0,1165.1 L1440.0,1165.1 L1441.0,1162.3 L1442.0,1158.5 L1443.0,1156.1 L1444.0,1153.8 L1444.6,1152.1 L1445.0,1153.3 L1446.0,1155.0 L1447.0,1158.7 L1448.0,1163.2 L1449.0,1167.1 L1449.3,1167.8 L1450.0,1166.7 L1451.0,1166.7 L1452.0,1166.0 L1453.0,1167.2 L1454.0,1169.5 L1454.4,1169.8 L1455.0,1171.0 L1456.0,1169.5 L1457.0,1168.3 L1457.8,1168.1 L1458.0,1169.1 L1459.0,1176.5 L1460.0,1185.9 L1461.0,1194.6 L1461.6,1197.5 L1462.0,1193.6 L1463.0,1186.7 L1464.0,1179.5 L1465.0,1172.7 L1466.0,1167.1 L1467.0,1159.5 L1467.2,1158.1 L1468.0,1157.6 L1469.0,1157.6 L1470.0,1156.4 L1471.0,1156.0 L1472.0,1157.4 L1473.0,1159.7 L1474.0,1163.0 L1474.8,1162.7 L1475.0,1160.4 L1476.0,1145.4 L1477.0,1132.9 L1478.0,1121.3 L1478.6,1114.3 L1479.0,1113.8 L1480.0,1112.0 L1481.0,1108.1 L1482.0,1106.4 L1483.0,1103.2 L1484.0,1100.3 L1484.2,1099.7 L1485.0,1099.1 L1486.0,1100.3 L1487.0,1104.5 L1488.0,1105.8 L1489.0,1104.6 L1490.0,1105.0 L1491.0,1106.1 L1491.8,1107.1 L1492.0,1107.6 L1493.0,1109.0 L1494.0,1113.6 L1495.0,1115.7 L1496.0,1120.9 L1496.9,1123.2 L1497.0,1123.7 L1498.0,1128.0 L1499.0,1135.8 L1499.5,1140.5 L1500.0,1144.4 L1501.0,1149.9 L1502.0,1152.8 L1502.0,1153.1 L1503.0,1149.5 L1504.0,1147.2 L1505.0,1143.3 L1505.1,1142.7 L1506.0,1146.2 L1507.0,1148.7 L1508.0,1152.3 L1508.0,1152.3 L1509.0,1146.7 L1510.0,1143.0 L1510.5,1138.7 L1511.0,1139.1 L1512.0,1141.6 L1513.0,1143.4 L1514.0,1144.8 L1515.0,1145.9 L1516.0,1146.0 L1517.0,1146.8 L1517.3,1147.2 L1518.0,1152.5 L1519.0,1161.5 L1520.0,1169.5 L1521.0,1178.6 L1522.0,1189.0 L1522.1,1190.3 L1523.0,1185.1 L1524.0,1176.4 L1525.0,1164.2 L1526.0,1154.1 L1526.2,1152.4 L1527.0,1142.4 L1528.0,1131.2 L1528.4,1126.4 L1529.0,1127.3 L1530.0,1128.1 L1531.0,1130.0 L1532.0,1131.4 L1533.0,1132.8 L1534.0,1133.5 L1534.4,1134.5 L1535.0,1133.2 L1536.0,1128.9 L1537.0,1125.2 L1538.0,1121.6 L1539.0,1116.9 L1540.0,1115.5 L1540.3,1114.6 L1541.0,1115.0 L1542.0,1114.4 L1543.0,1112.8 L1544.0,1113.3 L1545.0,1115.6 L1545.9,1116.5 L1546.0,1117.5 L1547.0,1129.4 L1548.0,1141.3 L1548.3,1144.5 L1549.0,1142.0 L1550.0,1139.6 L1551.0,1136.6 L1552.0,1130.7 L1553.0,1125.5 L1553.1,1125.3 L1554.0,1127.1 L1555.0,1129.0 L1556.0,1131.9 L1557.0,1134.4 L1557.3,1135.3 L1558.0,1142.3 L1559.0,1155.7 L1560.0,1165.7 L1560.7,1172.2 L1561.0,1171.6 L1562.0,1169.3 L1563.0,1168.9 L1564.0,1168.0 L1565.0,1166.4 L1566.0,1165.3 L1567.0,1164.7 L1567.5,1165.9 L1568.0,1164.0 L1569.0,1156.6 L1570.0,1149.3 L1571.0,1141.8 L1571.8,1135.2 L1572.0,1135.9 L1573.0,1138.7 L1574.0,1139.9 L1575.0,1144.9 L1576.0,1150.6 L1576.9,1152.2 L1577.0,1152.0 L1578.0,1149.5 L1579.0,1151.1 L1580.0,1154.0 L1581.0,1153.7 L1582.0,1155.3 L1582.8,1156.6 L1583.0,1156.0 L1584.0,1155.5 L1585.0,1153.7 L1586.0,1150.1 L1587.0,1145.0 L1588.0,1140.9 L1589.0,1135.7 L1589.1,1135.0 L1590.0,1135.5 L1591.0,1138.2 L1592.0,1140.4 L1593.0,1142.7 L1594.0,1146.6 L1595.0,1151.5 L1596.0,1154.0 L1597.0,1154.7 L1597.3,1155.4 L1598.0,1154.7 L1599.0,1157.6 L1600.0,1158.5 L1601.0,1156.4 L1602.0,1153.2 L1603.0,1151.1 L1604.0,1151.3 L1604.1,1151.2 L1605.0,1145.1 L1606.0,1138.7 L1607.0,1132.8 L1607.8,1127.5 L1608.0,1128.0 L1609.0,1131.4 L1610.0,1133.9 L1611.0,1134.2 L1611.7,1136.7 L1612.0,1136.2 L1613.0,1134.1 L1614.0,1129.9 L1615.0,1125.3 L1616.0,1125.5 L1616.0,1125.6 L1617.0,1134.7 L1618.0,1139.0 L1619.0,1141.5 L1620.0,1146.0 L1621.0,1150.2 L1622.0,1153.9 L1623.0,1157.1 L1624.0,1159.9 L1624.8,1161.4 L1625.0,1160.3 L1626.0,1155.3 L1627.0,1152.5 L1628.0,1148.3 L1629.0,1146.3 L1630.0,1144.2 L1631.0,1138.0 L1632.0,1131.5 L1632.1,1131.0 L1633.0,1132.6 L1634.0,1132.9 L1635.0,1132.4 L1636.0,1134.5 L1637.0,1135.0 L1638.0,1134.6 L1638.1,1134.7 L1639.0,1142.6 L1640.0,1149.7 L1641.0,1156.6 L1642.0,1166.3 L1642.7,1171.9 L1643.0,1170.7 L1644.0,1167.3 L1645.0,1162.4 L1646.0,1159.8 L1647.0,1156.0 L1648.0,1151.3 L1648.6,1150.4 L1649.0,1152.4 L1650.0,1156.3 L1651.0,1157.0 L1652.0,1160.3 L1653.0,1164.7 L1653.4,1166.9 L1654.0,1167.5 L1655.0,1168.5 L1656.0,1167.2 L1656.8,1166.9 L1657.0,1168.1 L1658.0,1172.7 L1659.0,1177.6 L1660.0,1180.2 L1661.0,1183.1 L1662.0,1187.4 L1662.2,1189.2 L1663.0,1190.4 L1664.0,1190.2 L1665.0,1189.0 L1666.0,1188.1 L1667.0,1188.6 L1668.0,1187.4 L1669.0,1185.8 L1670.0,1186.5 L1671.0,1184.8 L1671.3,1184.7 L1672.0,1173.9 L1673.0,1160.9 L1674.0,1144.7 L1674.1,1142.3 L1675.0,1145.8 L1676.0,1152.3 L1677.0,1161.1 L1678.0,1167.0 L1679.0,1169.8 L1680.0,1172.3 L1680.6,1174.9 L1681.0,1173.3 L1682.0,1171.1 L1683.0,1167.7 L1683.2,1167.1 L1684.0,1173.7 L1685.0,1183.7 L1685.7,1188.7 L1686.0,1187.2 L1687.0,1182.4 L1688.0,1177.8 L1689.0,1173.9 L1690.0,1170.3 L1690.8,1168.3 L1691.0,1169.2 L1692.0,1173.6 L1693.0,1177.0 L1694.0,1179.6 L1695.0,1181.6 L1695.6,1183.6 L1696.0,1182.7 L1697.0,1182.4 L1698.0,1180.7 L1699.0,1179.5 L1700.0,1177.6 L1701.0,1174.5 L1702.0,1173.2 L1702.7,1173.6 L1703.0,1172.8 L1704.0,1169.0 L1705.0,1161.7 L1706.0,1155.0 L1707.0,1149.9 L1708.0,1142.3 L1709.0,1137.9 L1710.0,1135.3 L1710.4,1133.3 L1711.0,1134.9 L1712.0,1137.2 L1713.0,1136.2 L1714.0,1138.4 L1715.0,1142.4 L1716.0,1145.4 L1716.3,1146.2 L1717.0,1149.7 L1718.0,1154.3 L1719.0,1159.5 L1720.0,1165.6 L1721.0,1168.7 L1722.0,1172.0 L1723.0,1176.2 L1723.1,1176.7 L1724.0,1171.2 L1725.0,1169.6 L1726.0,1166.3 L1727.0,1160.9 L1728.0,1155.0 L1728.2,1153.6 L1729.0,1145.1 L1730.0,1135.9 L1731.0,1128.6 L1732.0,1119.0 L1732.5,1113.9 L1733.0,1114.3 L1734.0,1114.7 L1735.0,1115.4 L1736.0,1116.2 L1737.0,1120.2 L1738.0,1123.0 L1738.4,1123.5 L1739.0,1131.2 L1740.0,1142.7 L1741.0,1154.4 L1742.0,1168.1 L1742.2,1170.4 L1743.0,1167.9 L1744.0,1166.9 L1745.0,1163.9 L1746.0,1160.1 L1746.9,1158.9 L1747.0,1159.1 L1748.0,1162.3 L1749.0,1163.1 L1750.0,1166.2 L1751.0,1167.3 L1752.0,1169.0 L1753.0,1170.8 L1754.0,1173.8 L1755.0,1176.9 L1756.0,1177.4 L1757.0,1179.7 L1758.0,1184.8 L1758.0,1184.8 L1759.0,1177.2 L1760.0,1166.0 L1761.0,1153.6 L1761.4,1149.3 L1762.0,1150.3 L1763.0,1152.0 L1764.0,1152.8 L1765.0,1154.2 L1766.0,1156.7 L1767.0,1162.1 L1767.0,1162.1 L1768.0,1158.4 L1769.0,1153.0 L1770.0,1147.1 L1770.4,1144.8 L1771.0,1146.0 L1772.0,1147.8 L1773.0,1150.9 L1774.0,1154.7 L1774.1,1155.0 L1775.0,1151.8 L1776.0,1147.8 L1777.0,1143.9 L1778.0,1142.2 L1778.4,1141.4 L1779.0,1143.3 L1780.0,1147.5 L1781.0,1152.8 L1782.0,1158.4 L1783.0,1159.9 L1784.0,1159.9 L1784.7,1161.1 L1785.0,1159.5 L1786.0,1154.3 L1787.0,1146.3 L1788.0,1141.3 L1789.0,1137.3 L1790.0,1131.5 L1791.0,1126.4 L1792.0,1123.5 L1792.5,1122.2 L1793.0,1124.1 L1794.0,1126.5 L1795.0,1127.7 L1796.0,1130.2 L1797.0,1131.4 L1798.0,1130.3 L1799.0,1132.1 L1800.0,1132.2 L1801.0,1135.5 L1801.3,1136.3 L1802.0,1142.4 L1803.0,1148.9 L1804.0,1154.8 L1804.7,1160.5 L1805.0,1166.1 L1806.0,1183.7 L1806.9,1197.8 L1807.0,1197.7 L1808.0,1193.7 L1809.0,1191.0 L1810.0,1188.8 L1811.0,1185.8 L1812.0,1184.8 L1813.0,1184.2 L1813.2,1184.1 L1814.0,1184.6 L1815.0,1184.8 L1816.0,1183.6 L1816.6,1182.7 L1817.0,1181.4 L1818.0,1179.9 L1819.0,1177.7 L1820.0,1176.6 L1820.8,1173.4 L1821.0,1172.7 L1822.0,1167.1 L1823.0,1163.6 L1824.0,1159.9 L1825.0,1158.9 L1825.9,1158.0 L1826.0,1158.5 L1827.0,1161.8 L1828.0,1166.6 L1829.0,1170.5 L1829.0,1170.6 L1830.0,1169.2 L1831.0,1168.7 L1832.0,1168.3 L1833.0,1169.0 L1834.0,1168.8 L1834.4,1169.4 L1835.0,1163.7 L1836.0,1154.3 L1836.5,1149.5 L1837.0,1148.9 L1838.0,1146.0 L1839.0,1144.5 L1840.0,1142.1 L1841.0,1141.2 L1842.0,1141.1 L1842.6,1141.2 L1843.0,1143.8 L1844.0,1146.8 L1845.0,1151.4 L1846.0,1156.3 L1847.0,1158.8 L1848.0,1162.7 L1849.0,1166.2 L1849.7,1168.8 L1850.0,1168.3 L1851.0,1168.4 L1852.0,1169.0 L1853.0,1167.4 L1854.0,1166.4 L1855.0,1163.6 L1856.0,1160.3 L1857.0,1159.7 L1857.4,1159.7 L1858.0,1152.9 L1859.0,1138.4 L1859.9,1125.9 L1860.0,1125.5 L1861.0,1122.8 L1862.0,1118.5 L1863.0,1114.0 L1864.0,1111.3 L1865.0,1107.5 L1865.0,1107.4 L1866.0,1111.7 L1867.0,1114.6 L1868.0,1115.8 L1869.0,1116.0 L1870.0,1116.4 L1871.0,1118.0 L1872.0,1118.8 L1872.7,1119.7 L1873.0,1122.5 L1874.0,1131.1 L1875.0,1143.9 L1876.0,1155.1 L1877.0,1165.5 L1877.8,1174.7 L1878.0,1174.4 L1879.0,1174.6 L1880.0,1173.3 L1881.0,1170.2 L1882.0,1164.8 L1882.0,1164.6 L1883.0,1165.1 L1884.0,1166.6 L1885.0,1167.8 L1885.4,1169.2 L1886.0,1167.2 L1887.0,1164.7 L1888.0,1163.7 L1889.0,1159.7 L1890.0,1153.8 L1890.2,1152.9 L1891.0,1154.6 L1892.0,1158.3 L1893.0,1160.7 L1894.0,1165.0 L1895.0,1169.6 L1896.0,1173.0 L1897.0,1178.3 L1898.0,1182.8 L1898.2,1183.7 L1899.0,1184.2 L1900.0,1183.9 L1901.0,1184.5 L1902.0,1181.3 L1903.0,1177.9 L1904.0,1175.2 L1905.0,1174.4 L1906.0,1158.5 L1906.7,1148.3 L1907.0,1148.0 L1908.0,1147.6 L1909.0,1147.0 L1910.0,1144.2 L1910.1,1143.9 L1911.0,1144.7 L1912.0,1146.9 L1913.0,1150.9 L1914.0,1155.8 L1915.0,1160.3 L1916.0,1160.0 L1916.9,1160.7 L1917.0,1158.9 L1918.0,1142.7 L1918.6,1132.9 L1919.0,1132.6 L1920.0,1129.4 L1921.0,1129.2 L1922.0,1125.5 L1922.9,1122.5 L1923.0,1122.4 L1924.0,1124.3 L1925.0,1127.5 L1926.0,1128.4 L1927.0,1129.5 L1928.0,1129.3 L1929.0,1128.2 L1930.0,1130.8 L1930.5,1131.4 L1931.0,1139.1 L1932.0,1151.7 L1933.0,1166.3 L1933.1,1167.4 L1934.0,1165.2 L1935.0,1163.1 L1936.0,1158.6 L1937.0,1152.7 L1938.0,1146.3 L1939.0,1143.3 L1939.0,1143.3 L1940.0,1151.0 L1941.0,1159.0 L1942.0,1164.1 L1942.4,1165.9 L1943.0,1163.2 L1944.0,1160.9 L1945.0,1158.2 L1946.0,1161.1 L1946.7,1160.8 L1947.0,1162.9 L1948.0,1163.6 L1949.0,1166.1 L1950.0,1169.6 L1951.0,1173.3 L1952.0,1176.4 L1953.0,1177.9 L1953.1,1178.5 L1954.0,1177.1 L1955.0,1176.9 L1956.0,1173.8 L1956.9,1169.7 L1957.0,1169.5 L1958.0,1170.9 L1959.0,1175.4 L1960.0,1179.2 L1960.6,1181.7 L1961.0,1177.8 L1962.0,1165.9 L1963.0,1152.4 L1963.3,1148.1 L1964.0,1146.5 L1965.0,1145.8 L1966.0,1145.2 L1967.0,1141.9 L1967.1,1141.7 L1968.0,1141.8 L1969.0,1144.7 L1970.0,1146.4 L1970.5,1146.8 L1971.0,1144.0 L1972.0,1137.8 L1973.0,1133.4 L1974.0,1135.0 L1975.0,1131.1 L1976.0,1121.6 L1976.4,1118.8 L1977.0,1120.2 L1978.0,1123.1 L1979.0,1126.6 L1980.0,1130.9 L1981.0,1135.2 L1981.5,1136.8 L1982.0,1136.0 L1983.0,1135.8 L1984.0,1133.5 L1985.0,1130.2 L1986.0,1132.6 L1986.6,1132.4 L1987.0,1145.2 L1987.8,1172.2 L1988.0,1171.1 L1989.0,1166.8 L1990.0,1162.4 L1991.0,1156.7 L1992.0,1150.9 L1993.0,1144.3 L1994.0,1142.6 L1995.0,1141.4 L1995.1,1140.9 L1996.0,1148.0 L1997.0,1154.6 L1998.0,1161.3 L1999.0,1169.0 L1999.4,1171.6 L2000.0,1172.8 L2001.0,1175.7 L2002.0,1178.6 L2003.0,1182.8 L2004.0,1187.2 L2005.0,1188.5 L2006.0,1188.0 L2007.0,1189.7 L2007.9,1193.2 L2008.0,1192.3 L2009.0,1184.3 L2010.0,1176.5 L2011.0,1169.6 L2012.0,1158.2 L2012.1,1156.3 L2013.0,1154.9 L2014.0,1157.8 L2015.0,1162.2 L2016.0,1162.8 L2017.0,1167.5 L2017.2,1168.6 L2018.0,1165.1 L2019.0,1155.6 L2019.5,1151.8 L2020.0,1151.2 L2021.0,1154.0 L2022.0,1155.9 L2023.0,1155.0 L2024.0,1155.2 L2025.0,1153.6 L2026.0,1153.7 L2027.0,1154.3 L2027.4,1154.3 L2028.0,1154.9 L2029.0,1157.9 L2030.0,1162.2 L2031.0,1164.2 L2032.0,1163.7 L2032.6,1164.5 L2033.0,1161.2 L2034.0,1154.1 L2035.0,1144.4 L2036.0,1137.3 L2036.0,1137.1 L2037.0,1136.7 L2038.0,1135.5 L2039.0,1132.7 L2040.0,1130.4 L2041.0,1128.9 L2042.0,1124.7 L2043.0,1119.8 L2044.0,1116.5 L2045.0,1116.4 L2045.0,1116.5 L2046.0,1119.2 L2047.0,1121.4 L2048.0,1123.6 L2049.0,1125.5 L2050.0,1129.2 L2051.0,1133.7 L2052.0,1138.4 L2052.1,1138.3 L2053.0,1138.4 L2054.0,1138.9 L2055.0,1140.3 L2056.0,1143.3 L2056.4,1144.3 L2057.0,1155.6 L2058.0,1175.0 L2059.0,1194.3 L2059.4,1201.7 L2060.0,1200.2 L2061.0,1196.7 L2062.0,1196.9 L2063.0,1196.5 L2064.0,1195.0 L2065.0,1191.5 L2066.0,1189.5 L2067.0,1187.7 L2067.4,1187.5 L2068.0,1182.5 L2069.0,1175.3 L2070.0,1166.7 L2070.0,1166.8 L2071.0,1169.2 L2072.0,1172.4 L2073.0,1175.8 L2074.0,1178.7 L2074.2,1179.2 L2075.0,1175.6 L2076.0,1171.0 L2077.0,1164.9 L2078.0,1159.9 L2079.0,1153.4 L2080.0,1148.6 L2081.0,1144.9 L2081.9,1142.4 L2082.0,1143.2 L2083.0,1148.9 L2084.0,1153.5 L2085.0,1154.8 L2086.0,1160.8 L2087.0,1167.1 L2087.8,1172.5 L2088.0,1172.0 L2089.0,1169.4 L2090.0,1163.3 L2090.4,1160.0 L2091.0,1159.4 L2092.0,1161.7 L2093.0,1163.3 L2094.0,1166.3 L2095.0,1168.7 L2096.0,1169.0 L2096.0,1168.9 L2097.0,1163.1 L2098.0,1160.3 L2098.9,1156.8 L2099.0,1157.1 L2100.0,1157.4 L2101.0,1158.3 L2102.0,1160.6 L2103.0,1162.4 L2103.1,1162.7 L2104.0,1157.7 L2105.0,1152.5 L2105.7,1147.2 L2106.0,1146.5 L2107.0,1143.8 L2108.0,1140.4 L2109.0,1139.4 L2110.0,1136.9 L2111.0,1135.4 L2112.0,1134.9 L2113.0,1133.9 L2113.3,1133.3 L2114.0,1138.4 L2115.0,1149.1 L2116.0,1160.1 L2117.0,1169.5 L2117.6,1173.3 L2118.0,1170.5 L2119.0,1162.7 L2120.0,1157.0 L2121.0,1153.6 L2121.8,1149.3 L2122.0,1149.0 L2123.0,1149.4 L2124.0,1149.1 L2125.0,1147.0 L2126.0,1144.2 L2127.0,1141.9 L2128.0,1143.3 L2128.6,1143.9 L2129.0,1147.0 L2130.0,1152.5 L2131.0,1158.7 L2132.0,1166.3 L2133.0,1173.5 L2134.0,1179.2 L2134.6,1181.7 L2135.0,1180.4 L2136.0,1179.6 L2137.0,1180.9 L2138.0,1182.2 L2139.0,1181.0 L2140.0,1177.3 L2141.0,1175.8 L2141.9,1174.2 L2142.0,1173.2 L2143.0,1160.9 L2143.9,1149.2 L2144.0,1149.1 L2145.0,1149.3 L2146.0,1152.5 L2147.0,1154.8 L2148.0,1158.2 L2149.0,1159.1 L2150.0,1156.2 L2150.4,1156.1 L2151.0,1147.8 L2152.0,1134.6 L2152.4,1128.2 L2153.0,1121.3 L2154.0,1110.7 L2154.1,1109.3 L2155.0,1110.6 L2156.0,1109.0 L2157.0,1108.3 L2158.0,1107.6 L2159.0,1109.7 L2160.0,1111.1 L2160.1,1111.1 L2161.0,1117.9 L2162.0,1125.1 L2163.0,1131.0 L2163.5,1133.7 L2164.0,1129.9 L2165.0,1124.7 L2166.0,1119.6 L2166.9,1114.2 L2167.0,1116.6 L2168.0,1145.2 L2168.1,1147.6 L2169.0,1145.4 L2170.0,1139.4 L2171.0,1133.5 L2172.0,1130.3 L2173.0,1128.9 L2174.0,1126.7 L2174.6,1126.0 L2175.0,1129.3 L2176.0,1138.8 L2177.0,1145.5 L2177.9,1149.4 L2178.0,1148.8 L2179.0,1143.8 L2180.0,1141.1 L2181.0,1137.1 L2182.0,1133.1 L2183.0,1130.7 L2184.0,1128.1 L2185.0,1120.9 L2185.5,1118.5 L2186.0,1119.6 L2187.0,1122.6 L2188.0,1127.7 L2189.0,1131.7 L2190.0,1135.3 L2191.0,1135.1 L2191.5,1134.6 L2192.0,1134.0 L2193.0,1137.1 L2194.0,1141.7 L2194.9,1142.4 L2195.0,1144.2 L2196.0,1161.8 L2197.0,1178.1 L2197.8,1190.8 L2198.0,1190.1 L2199.0,1186.3 L2200.0,1180.4 L2201.0,1176.1 L2202.0,1173.9 L2202.5,1172.9 L2203.0,1174.1 L2204.0,1172.7 L2205.0,1169.6 L2206.0,1167.6 L2206.3,1167.2 L2207.0,1168.8 L2208.0,1172.5 L2209.0,1176.0 L2210.0,1181.6 L2210.2,1182.5 L2211.0,1181.4 L2212.0,1176.3 L2213.0,1173.4 L2214.0,1169.8 L2215.0,1166.6 L2215.3,1165.5 L2216.0,1167.3 L2217.0,1170.6 L2217.5,1173.0 L2218.0,1170.2 L2219.0,1165.7 L2219.5,1162.2 L2220.0,1160.0 L2221.0,1154.5 L2222.0,1150.5 L2223.0,1145.3 L2224.0,1139.2 L2225.0,1132.3 L2226.0,1125.7 L2226.3,1124.8 L2227.0,1127.5 L2228.0,1128.4 L2229.0,1130.4 L2230.0,1131.5 L2231.0,1130.4 L2232.0,1133.8 L2233.0,1137.6 L2234.0,1139.2 L2234.8,1140.2 L2235.0,1142.6 L2236.0,1155.0 L2237.0,1168.6 L2237.4,1174.8 L2238.0,1174.2 L2239.0,1172.4 L2240.0,1171.2 L2241.0,1169.2 L2242.0,1166.7 L2243.0,1162.8 L2243.0,1162.8 L2244.0,1166.5 L2245.0,1172.2 L2246.0,1174.0 L2247.0,1176.6 L2248.0,1180.6 L2248.4,1181.6 L2249.0,1185.9 L2250.0,1193.8 L2251.0,1201.3 L2252.0,1209.3 L2253.0,1217.7 L2253.2,1219.5 L2254.0,1217.3 L2255.0,1212.6 L2256.0,1209.0 L2257.0,1206.2 L2258.0,1199.3 L2259.0,1195.9 L2260.0,1193.4 L2260.3,1191.6 L2261.0,1176.9 L2262.0,1156.4 L2262.9,1139.8 L2263.0,1139.8 L2264.0,1137.8 L2265.0,1134.9 L2265.8,1131.8 L2266.0,1131.8 L2267.0,1133.1 L2268.0,1133.7 L2269.0,1134.0 L2270.0,1135.9 L2271.0,1138.7 L2272.0,1138.8 L2272.2,1139.4 L2273.0,1147.1 L2274.0,1156.6 L2275.0,1166.1 L2276.0,1174.9 L2277.0,1184.4 L2277.3,1187.2 L2278.0,1187.4 L2279.0,1187.2 L2279.9,1190.6 L2280.0,1190.3 L2281.0,1185.4 L2282.0,1179.4 L2283.0,1173.0 L2284.0,1168.6 L2285.0,1165.0 L2286.0,1159.0 L2287.0,1154.3 L2288.0,1146.9 L2288.9,1142.1 L2289.0,1142.6 L2290.0,1149.0 L2291.0,1152.7 L2292.0,1156.1 L2293.0,1159.8 L2294.0,1163.1 L2294.7,1163.4 L2295.0,1160.7 L2296.0,1155.1 L2297.0,1153.4 L2298.0,1150.8 L2299.0,1143.5 L2299.5,1141.6 L2300.0,1144.3 L2301.0,1150.5 L2302.0,1154.4 L2302.5,1155.8 L2303.0,1147.7 L2304.0,1127.7 L2304.2,1124.1 L2305.0,1124.8 L2306.0,1127.9 L2307.0,1133.2 L2308.0,1137.5 L2309.0,1139.7 L2310.0,1143.2 L2310.5,1144.5 L2311.0,1144.8 L2312.0,1144.8 L2313.0,1146.3 L2313.9,1147.1 L2314.0,1148.0 L2315.0,1159.4 L2315.6,1167.5 L2316.0,1168.6 L2317.0,1168.8 L2318.0,1165.0 L2319.0,1161.4 L2319.9,1162.0 L2320.0,1162.9 L2321.0,1170.5 L2322.0,1176.6 L2323.0,1180.6 L2324.0,1184.1 L2325.0,1191.0 L2325.8,1194.5 L2326.0,1193.9 L2327.0,1189.1 L2328.0,1184.1 L2329.0,1180.2 L2330.0,1180.7 L2331.0,1181.5 L2332.0,1179.4 L2333.0,1175.8 L2333.5,1174.5 L2334.0,1170.1 L2335.0,1161.0 L2336.0,1152.5 L2337.0,1148.3 L2337.7,1145.6 L2338.0,1147.4 L2339.0,1151.1 L2340.0,1152.4 L2341.0,1154.3 L2342.0,1154.2 L2343.0,1156.3 L2344.0,1160.1 L2344.5,1161.0 L2345.0,1162.8 L2346.0,1165.2 L2347.0,1170.6 L2348.0,1177.6 L2349.0,1184.6 L2349.6,1187.7 L2350.0,1184.3 L2351.0,1175.9 L2352.0,1168.5 L2353.0,1158.9 L2353.0,1158.6 L2354.0,1160.7 L2355.0,1164.2 L2356.0,1167.2 L2357.0,1171.9 L2357.3,1173.3 L2358.0,1169.6 L2359.0,1162.5 L2360.0,1155.0 L2361.0,1148.2 L2361.2,1147.0 L2362.0,1148.3 L2363.0,1149.5 L2364.0,1151.7 L2365.0,1153.9 L2366.0,1156.8 L2367.0,1159.4 L2368.0,1162.1 L2368.3,1162.4 L2369.0,1168.3 L2370.0,1175.5 L2371.0,1184.9 L2372.0,1197.6 L2372.9,1209.8 L2373.0,1209.9 L2374.0,1206.5 L2375.0,1201.8 L2376.0,1201.5 L2377.0,1199.3 L2378.0,1197.3 L2379.0,1193.9 L2379.4,1193.2 L2380.0,1189.7 L2381.0,1187.7 L2382.0,1182.4 L2382.8,1177.1 L2383.0,1177.5 L2384.0,1177.6 L2385.0,1178.1 L2386.0,1181.4 L2387.0,1180.8 L2387.0,1181.0 L2388.0,1173.2 L2388.7,1166.7 L2389.0,1166.8 L2390.0,1164.9 L2391.0,1162.6 L2392.0,1163.0 L2393.0,1165.0 L2394.0,1165.9 L2395.0,1164.1 L2396.0,1165.3 L2397.0,1167.2 L2397.2,1167.3 L2398.0,1170.0 L2399.0,1172.0 L2400.0,1174.7 L2401.0,1175.7 L2402.0,1178.9 L2403.0,1181.2 L2403.2,1181.7 L2404.0,1170.5 L2405.0,1155.9 L2406.0,1140.2 L2406.6,1132.0 L2407.0,1131.8 L2408.0,1133.7 L2409.0,1135.2 L2410.0,1135.9 L2411.0,1136.3 L2412.0,1133.9 L2413.0,1133.7 L2414.0,1134.0 L2414.6,1133.5 L2415.0,1135.6 L2416.0,1141.2 L2417.0,1148.2 L2418.0,1151.1 L2419.0,1153.7 L2419.4,1155.5 L2420.0,1160.0 L2421.0,1166.8 L2421.9,1175.2 L2422.0,1175.2 L2423.0,1172.8 L2424.0,1169.8 L2425.0,1167.4 L2426.0,1163.3 L2427.0,1158.3 L2427.9,1156.6 L2428.0,1156.8 L2429.0,1161.0 L2430.0,1164.0 L2431.0,1165.4 L2432.0,1165.4 L2432.1,1165.5 L2433.0,1168.1 L2434.0,1171.8 L2435.0,1174.8 L2436.0,1178.6 L2437.0,1182.0 L2438.0,1186.8 L2439.0,1191.3 L2440.0,1197.6 L2440.6,1199.1 L2441.0,1198.1 L2442.0,1196.3 L2443.0,1194.1 L2444.0,1193.2 L2445.0,1192.1 L2446.0,1189.8 L2447.0,1188.2 L2447.4,1187.9 L2448.0,1180.7 L2449.0,1168.4 L2450.0,1155.2 L2450.0,1155.0 L2451.0,1152.1 L2452.0,1148.6 L2452.5,1146.2 L2453.0,1144.1 L2454.0,1141.7 L2455.0,1139.5 L2456.0,1136.3 L2457.0,1133.0 L2458.0,1129.3 L2459.0,1123.6 L2460.0,1120.1 L2460.2,1118.9 L2461.0,1118.3 L2462.0,1119.9 L2463.0,1124.5 L2464.0,1128.1 L2465.0,1127.1 L2466.0,1128.1 L2466.1,1128.5 L2467.0,1136.6 L2468.0,1145.8 L2469.0,1156.1 L2470.0,1163.2 L2470.4,1165.9 L2471.0,1164.3 L2472.0,1163.8 L2473.0,1160.6 L2474.0,1156.9 L2475.0,1157.5 L2476.0,1154.3 L2477.0,1150.5 L2478.0,1149.0 L2478.9,1148.3 L2479.0,1148.7 L2480.0,1148.5 L2481.0,1147.0 L2482.0,1145.3 L2483.0,1146.9 L2484.0,1149.7 L2485.0,1154.5 L2485.7,1155.8 L2486.0,1159.6 L2487.0,1169.0 L2487.9,1181.7 L2488.0,1181.8 L2489.0,1181.3 L2490.0,1181.4 L2491.0,1178.6 L2492.0,1173.8 L2492.5,1173.0 L2493.0,1173.5 L2494.0,1176.1 L2495.0,1180.0 L2496.0,1184.0 L2496.7,1183.2 L2497.0,1179.3 L2498.0,1163.3 L2499.0,1150.8 L2500.0,1139.0 L2500.1,1137.4 L2501.0,1136.3 L2502.0,1135.9 L2503.0,1137.0 L2504.0,1137.2 L2505.0,1134.1 L2506.0,1129.1 L2507.0,1126.7 L2507.8,1126.3 L2508.0,1127.1 L2509.0,1130.3 L2510.0,1133.8 L2511.0,1134.8 L2512.0,1135.6 L2513.0,1138.9 L2514.0,1145.2 L2514.6,1148.0 L2515.0,1155.7 L2515.8,1167.3 L2516.0,1166.6 L2517.0,1164.8 L2518.0,1163.2 L2519.0,1161.2 L2520.0,1161.5 L2521.0,1160.8 L2522.0,1157.1 L2523.0,1153.4 L2524.0,1153.2 L2525.0,1153.2 L2526.0,1152.0 L2526.5,1151.3 L2527.0,1152.2 L2528.0,1154.2 L2529.0,1155.8 L2530.0,1158.3 L2530.7,1159.9 L2531.0,1159.4 L2532.0,1156.2 L2533.0,1155.4 L2534.0,1154.6 L2535.0,1152.1 L2536.0,1146.6 L2536.2,1145.6 L2537.0,1145.7 L2538.0,1150.5 L2539.0,1155.7 L2540.0,1159.1 L2541.0,1162.4 L2542.0,1166.2 L2542.7,1167.6 L2543.0,1166.7 L2544.0,1164.7 L2545.0,1160.8 L2546.0,1158.2 L2547.0,1157.3 L2548.0,1155.3 L2549.0,1153.8 L2549.5,1154.0 L2550.0,1142.2 L2551.0,1119.4 L2551.2,1115.7 L2552.0,1114.3 L2553.0,1109.8 L2554.0,1107.2 L2555.0,1105.4 L2556.0,1104.7 L2556.3,1104.6 L2557.0,1108.4 L2558.0,1112.0 L2559.0,1116.8 L2560.0,1119.4 L2561.0,1123.5 L2561.0,1123.6 L2562.0,1126.1 L2563.0,1127.0 L2564.0,1125.4 L2564.5,1126.0 L2565.0,1127.7 L2566.0,1133.2 L2567.0,1137.5 L2568.0,1140.7 L2568.4,1142.3 L2569.0,1151.7 L2570.0,1165.1 L2571.0,1177.9 L2571.6,1186.1 L2572.0,1185.8 L2573.0,1186.7 L2574.0,1185.9 L2575.0,1187.0 L2576.0,1190.0 L2576.7,1188.7 L2577.0,1182.1 L2578.0,1161.1 L2578.6,1150.4 L2579.0,1146.4 L2580.0,1136.9 L2581.0,1127.8 L2581.1,1126.6 L2582.0,1125.0 L2583.0,1121.7 L2584.0,1121.4 L2585.0,1120.0 L2585.6,1119.7 L2586.0,1123.0 L2587.0,1129.1 L2588.0,1134.2 L2589.0,1144.9 L2589.4,1149.0 L2590.0,1147.2 L2591.0,1141.4 L2591.3,1139.5 L2592.0,1141.0 L2592.9,1143.0 L2594.5,1143.0" fill="none" stroke="#4477AA" stroke-opacity="0.8" stroke-width="12.5" stroke-linejoin="round" stroke-linecap="butt" clip-path="url(#ax)"/>
<rect x="2020.9" y="174" width="543.2" height="267" rx="10" ry="10" fill="#fff" fill-opacity="0.8" stroke="#ccc" stroke-opacity="0.8" stroke-width="3.5"/>
<rect x="2036" y="210.95" width="134.2" height="16.7" fill="#4477AA"/>
<rect x="2036" y="294.25" width="134.2" height="16.7" fill="#228833"/>
<rect x="2036" y="377.15" width="134.2" height="16.7" fill="#AA3377"/>
<g>
<text><tspan x="1032.77" y="119.90" font-size="105.50" textLength="155.84" lengthAdjust="spacingAndGlyphs" style="text-shadow:1.00px 0 0 #000,-1.00px 0 0 #000">Total</tspan> <tspan x="1204.60" y="119.90" font-size="105.50" textLength="250.32" lengthAdjust="spacingAndGlyphs" style="text-shadow:1.00px 0 0 #000,-1.00px 0 0 #000">number</tspan> <tspan x="1475.39" y="119.90" font-size="105.50" textLength="60.68" lengthAdjust="spacingAndGlyphs" style="text-shadow:1.00px 0 0 #000,-1.00px 0 0 #000">of</tspan> <tspan x="1558.13" y="119.90" font-size="105.50" textLength="270.56" lengthAdjust="spacingAndGlyphs" style="text-shadow:1.00px 0 0 #000,-1.00px 0 0 #000">contacts</tspan></text>
<text><tspan x="1282.98" y="1736.20" font-size="105.50" textLength="151.44" lengthAdjust="spacingAndGlyphs" style="text-shadow:1.00px 0 0 #000,-1.00px 0 0 #000">Time</tspan> <tspan x="1459.13" y="1727.00" font-size="91.00" textLength="16.95" lengthAdjust="spacingAndGlyphs" style="text-shadow:0.87px 0 0 #000,-0.87px 0 0 #000">(</tspan><tspan x="1479.85" y="1736.20" font-size="105.50" textLength="75.40" lengthAdjust="spacingAndGlyphs" style="text-shadow:1.00px 0 0 #000,-1.00px 0 0 #000">ns</tspan><tspan x="1558.72" y="1727.00" font-size="91.00" textLength="16.83" lengthAdjust="spacingAndGlyphs" style="text-shadow:0.87px 0 0 #000,-0.87px 0 0 #000">)</tspan></text>
<text><tspan x="254.76" y="1627.80" font-size="85.60" textLength="27.56" lengthAdjust="spacingAndGlyphs" style="text-shadow:0.82px 0 0 #000,-0.82px 0 0 #000">0</tspan></text>
<text><tspan x="672.41" y="1627.80" font-size="85.60" textLength="120.29" lengthAdjust="spacingAndGlyphs" style="text-shadow:0.82px 0 0 #000,-0.82px 0 0 #000">1000</tspan></text>
<text><tspan x="1138.75" y="1627.80" font-size="85.60" textLength="119.95" lengthAdjust="spacingAndGlyphs" style="text-shadow:0.82px 0 0 #000,-0.82px 0 0 #000">2000</tspan></text>
<text><tspan x="1603.87" y="1627.80" font-size="85.60" textLength="120.43" lengthAdjust="spacingAndGlyphs" style="text-shadow:0.82px 0 0 #000,-0.82px 0 0 #000">3000</tspan></text>
<text><tspan x="2066.69" y="1627.80" font-size="85.60" textLength="121.02" lengthAdjust="spacingAndGlyphs" style="text-shadow:0.82px 0 0 #000,-0.82px 0 0 #000">4000</tspan></text>
<text><tspan x="2534.16" y="1627.80" font-size="85.60" textLength="119.53" lengthAdjust="spacingAndGlyphs" style="text-shadow:0.82px 0 0 #000,-0.82px 0 0 #000">5000</tspan></text>
<text><tspan x="222.16" y="1572.95" font-size="85.60" textLength="27.56" lengthAdjust="spacingAndGlyphs" style="text-shadow:0.82px 0 0 #000,-0.82px 0 0 #000">0</tspan></text>
<text><tspan x="191.70" y="1338.60" font-size="85.60" textLength="58.12" lengthAdjust="spacingAndGlyphs" style="text-shadow:0.82px 0 0 #000,-0.82px 0 0 #000">20</tspan></text>
<text><tspan x="190.71" y="1104.25" font-size="85.60" textLength="59.16" lengthAdjust="spacingAndGlyphs" style="text-shadow:0.82px 0 0 #000,-0.82px 0 0 #000">40</tspan></text>
<text><tspan x="191.60" y="869.90" font-size="85.60" textLength="58.23" lengthAdjust="spacingAndGlyphs" style="text-shadow:0.82px 0 0 #000,-0.82px 0 0 #000">60</tspan></text>
<text><tspan x="191.86" y="635.55" font-size="85.60" textLength="57.96" lengthAdjust="spacingAndGlyphs" style="text-shadow:0.82px 0 0 #000,-0.82px 0 0 #000">80</tspan></text>
<text><tspan x="159.40" y="401.20" font-size="85.60" textLength="90.51" lengthAdjust="spacingAndGlyphs" style="text-shadow:0.82px 0 0 #000,-0.82px 0 0 #000">100</tspan></text>
<text><tspan x="159.92" y="166.85" font-size="85.60" textLength="89.98" lengthAdjust="spacingAndGlyphs" style="text-shadow:0.82px 0 0 #000,-0.82px 0 0 #000">120</tspan></text>
<text><tspan x="2208.30" y="238.75" font-size="59.00" textLength="132.79" lengthAdjust="spacingAndGlyphs" style="text-shadow:0.56px 0 0 #000,-0.56px 0 0 #000">Peptide</tspan><tspan x="2342.90" y="234.90" font-size="45.00" textLength="21.57" lengthAdjust="spacingAndGlyphs" style="text-shadow:0.43px 0 0 #000,-0.43px 0 0 #000">-</tspan><tspan x="2366.43" y="238.75" font-size="59.00" textLength="104.48" lengthAdjust="spacingAndGlyphs" style="text-shadow:0.56px 0 0 #000,-0.56px 0 0 #000">Water</tspan></text>
<text><tspan x="2208.30" y="323.00" font-size="59.00" textLength="132.79" lengthAdjust="spacingAndGlyphs" style="text-shadow:0.56px 0 0 #000,-0.56px 0 0 #000">Peptide</tspan><tspan x="2342.90" y="319.15" font-size="45.00" textLength="21.57" lengthAdjust="spacingAndGlyphs" style="text-shadow:0.43px 0 0 #000,-0.43px 0 0 #000">-</tspan><tspan x="2365.40" y="323.00" font-size="59.00" textLength="87.76" lengthAdjust="spacingAndGlyphs" style="text-shadow:0.56px 0 0 #000,-0.56px 0 0 #000">Lipid</tspan> <tspan x="2465.12" y="323.00" font-size="59.00" textLength="68.89" lengthAdjust="spacingAndGlyphs" style="text-shadow:0.56px 0 0 #000,-0.56px 0 0 #000">HGs</tspan></text>
<text><tspan x="2208.30" y="406.10" font-size="59.00" textLength="132.79" lengthAdjust="spacingAndGlyphs" style="text-shadow:0.56px 0 0 #000,-0.56px 0 0 #000">Peptide</tspan><tspan x="2342.90" y="402.25" font-size="45.00" textLength="21.57" lengthAdjust="spacingAndGlyphs" style="text-shadow:0.43px 0 0 #000,-0.43px 0 0 #000">-</tspan><tspan x="2365.40" y="406.10" font-size="59.00" textLength="87.76" lengthAdjust="spacingAndGlyphs" style="text-shadow:0.56px 0 0 #000,-0.56px 0 0 #000">Lipid</tspan> <tspan x="2464.20" y="406.10" font-size="59.00" textLength="75.89" lengthAdjust="spacingAndGlyphs" style="text-shadow:0.56px 0 0 #000,-0.56px 0 0 #000">tails</tspan></text>
<text transform="rotate(-90)"><tspan style="text-shadow:1.00px 0 0 #000,-1.00px 0 0 #000" x="-1016.36" y="118.30" font-size="105.50" textLength="37.74" lengthAdjust="spacingAndGlyphs">#</tspan> <tspan style="text-shadow:1.00px 0 0 #000,-1.00px 0 0 #000" x="-957.04" y="118.30" font-size="105.50" textLength="275.88" lengthAdjust="spacingAndGlyphs">Contacts</tspan></text>
</g>
</svg>
</body></html>
